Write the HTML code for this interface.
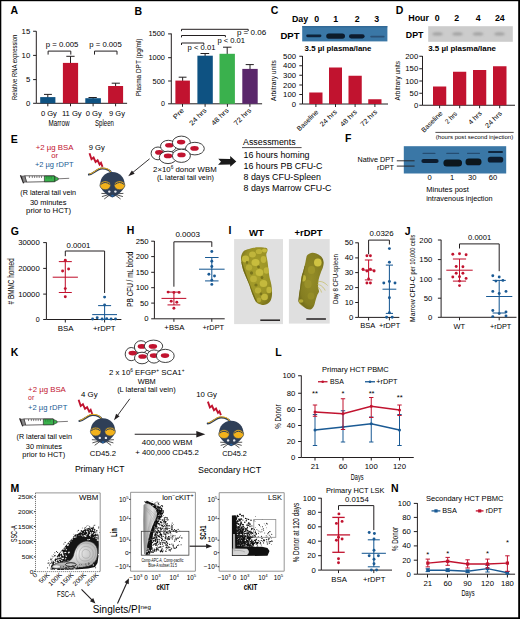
<!DOCTYPE html>
<html><head><meta charset="utf-8"><style>
html,body{margin:0;padding:0;background:#fff;}
svg{display:block;font-family:"Liberation Sans",sans-serif;}
</style></head><body>
<svg width="520" height="619" viewBox="0 0 520 619">
<defs>
<filter id="bl1" x="-50%" y="-100%" width="200%" height="300%"><feGaussianBlur stdDeviation="0.6"/></filter>
<filter id="bl2" x="-50%" y="-100%" width="200%" height="300%"><feGaussianBlur stdDeviation="0.9"/></filter>
<filter id="bl3" x="-50%" y="-50%" width="200%" height="200%"><feGaussianBlur stdDeviation="0.5"/></filter>
<filter id="bl4" x="-20%" y="-20%" width="140%" height="140%"><feGaussianBlur stdDeviation="0.75"/></filter>
</defs>
<rect width="520" height="619" fill="#fff"/>
<text x="10.60" y="14.40" font-size="10.5" font-weight="bold">A</text>
<line x1="36.30" y1="31.20" x2="36.30" y2="103.30" stroke="#231f20" stroke-width="1"/>
<line x1="33.10" y1="31.25" x2="36.30" y2="31.25" stroke="#231f20" stroke-width="1"/>
<text x="30.20" y="33.80" font-size="7.1" text-anchor="end" textLength="8.61" lengthAdjust="spacingAndGlyphs">15</text>
<line x1="33.10" y1="55.40" x2="36.30" y2="55.40" stroke="#231f20" stroke-width="1"/>
<text x="30.20" y="57.95" font-size="7.1" text-anchor="end" textLength="8.61" lengthAdjust="spacingAndGlyphs">10</text>
<line x1="33.10" y1="79.60" x2="36.30" y2="79.60" stroke="#231f20" stroke-width="1"/>
<text x="30.20" y="82.15" font-size="7.1" text-anchor="end" textLength="4.30" lengthAdjust="spacingAndGlyphs">5</text>
<line x1="33.10" y1="103.30" x2="36.30" y2="103.30" stroke="#231f20" stroke-width="1"/>
<text x="30.20" y="105.85" font-size="7.1" text-anchor="end" textLength="4.30" lengthAdjust="spacingAndGlyphs">0</text>
<line x1="36.30" y1="103.30" x2="127.10" y2="103.30" stroke="#231f20" stroke-width="1"/>
<line x1="47.80" y1="103.30" x2="47.80" y2="106.30" stroke="#231f20" stroke-width="1"/>
<line x1="70.50" y1="103.30" x2="70.50" y2="106.30" stroke="#231f20" stroke-width="1"/>
<line x1="93.10" y1="103.30" x2="93.10" y2="106.30" stroke="#231f20" stroke-width="1"/>
<line x1="115.60" y1="103.30" x2="115.60" y2="106.30" stroke="#231f20" stroke-width="1"/>
<line x1="47.80" y1="94.40" x2="47.80" y2="98.10" stroke="#231f20" stroke-width="1"/>
<line x1="44.00" y1="94.40" x2="51.90" y2="94.40" stroke="#231f20" stroke-width="1"/>
<rect x="40.20" y="97.10" width="15.20" height="6.20" fill="#0e5282"/>
<line x1="70.50" y1="56.30" x2="70.50" y2="63.90" stroke="#231f20" stroke-width="1"/>
<line x1="66.30" y1="56.30" x2="74.60" y2="56.30" stroke="#231f20" stroke-width="1"/>
<rect x="62.90" y="62.90" width="15.20" height="40.40" fill="#c1132f"/>
<line x1="93.10" y1="97.50" x2="93.10" y2="99.20" stroke="#231f20" stroke-width="1"/>
<line x1="88.50" y1="97.50" x2="96.80" y2="97.50" stroke="#231f20" stroke-width="1"/>
<rect x="85.30" y="98.20" width="15.60" height="5.10" fill="#0e5282"/>
<line x1="115.60" y1="83.20" x2="115.60" y2="87.00" stroke="#231f20" stroke-width="1"/>
<line x1="111.70" y1="83.20" x2="119.90" y2="83.20" stroke="#231f20" stroke-width="1"/>
<rect x="108.10" y="86.00" width="15.00" height="17.30" fill="#c1132f"/>
<path d="M48.10 54.60V51.10H70.80V54.60" fill="none" stroke="#231f20" stroke-width="1"/>
<path d="M94.50 54.60V51.10H117.00V54.60" fill="none" stroke="#231f20" stroke-width="1"/>
<text x="45.70" y="47.30" font-size="7.6" textLength="32.70" lengthAdjust="spacingAndGlyphs">p = 0.005</text>
<text x="89.30" y="47.30" font-size="7.6" textLength="32.40" lengthAdjust="spacingAndGlyphs">p = 0.005</text>
<text x="61.90" y="115.60" font-size="7.5" textLength="19.80" lengthAdjust="spacingAndGlyphs">11 Gy</text>
<text x="40.90" y="115.60" font-size="7.5" textLength="16.00" lengthAdjust="spacingAndGlyphs">0 Gy</text>
<text x="85.70" y="115.60" font-size="7.5" textLength="16.20" lengthAdjust="spacingAndGlyphs">0 Gy</text>
<text x="109.10" y="115.60" font-size="7.5" textLength="15.90" lengthAdjust="spacingAndGlyphs">9 Gy</text>
<text x="48.50" y="126.00" font-size="8.8" textLength="21.00" lengthAdjust="spacingAndGlyphs">Marrow</text>
<text x="95.10" y="126.00" font-size="8.8" textLength="18.80" lengthAdjust="spacingAndGlyphs">Spleen</text>
<text x="17.20" y="100.00" font-size="8.0" textLength="65.20" lengthAdjust="spacingAndGlyphs" transform="rotate(-90 17.20 100.00)">Relative RNA expression</text>
<text x="134.60" y="14.80" font-size="10.5" font-weight="bold">B</text>
<line x1="171.30" y1="33.50" x2="171.30" y2="103.80" stroke="#231f20" stroke-width="1"/>
<line x1="168.10" y1="33.90" x2="171.30" y2="33.90" stroke="#231f20" stroke-width="1"/>
<text x="164.90" y="36.45" font-size="7.1" text-anchor="end" textLength="16.50" lengthAdjust="spacingAndGlyphs">1500</text>
<line x1="168.10" y1="57.70" x2="171.30" y2="57.70" stroke="#231f20" stroke-width="1"/>
<text x="164.90" y="60.25" font-size="7.1" text-anchor="end" textLength="16.50" lengthAdjust="spacingAndGlyphs">1000</text>
<line x1="168.10" y1="81.00" x2="171.30" y2="81.00" stroke="#231f20" stroke-width="1"/>
<text x="164.90" y="83.55" font-size="7.1" text-anchor="end" textLength="12.40" lengthAdjust="spacingAndGlyphs">500</text>
<line x1="168.10" y1="103.80" x2="171.30" y2="103.80" stroke="#231f20" stroke-width="1"/>
<text x="164.90" y="106.35" font-size="7.1" text-anchor="end">0</text>
<line x1="171.30" y1="103.80" x2="262.10" y2="103.80" stroke="#231f20" stroke-width="1"/>
<line x1="182.50" y1="103.80" x2="182.50" y2="106.80" stroke="#231f20" stroke-width="1"/>
<line x1="205.10" y1="103.80" x2="205.10" y2="106.80" stroke="#231f20" stroke-width="1"/>
<line x1="227.40" y1="103.80" x2="227.40" y2="106.80" stroke="#231f20" stroke-width="1"/>
<line x1="249.90" y1="103.80" x2="249.90" y2="106.80" stroke="#231f20" stroke-width="1"/>
<line x1="182.65" y1="77.20" x2="182.65" y2="81.60" stroke="#231f20" stroke-width="1"/>
<line x1="178.70" y1="77.20" x2="186.50" y2="77.20" stroke="#231f20" stroke-width="1"/>
<rect x="175.40" y="80.60" width="14.50" height="23.20" fill="#c1132f"/>
<line x1="205.10" y1="53.50" x2="205.10" y2="56.70" stroke="#231f20" stroke-width="1"/>
<line x1="200.50" y1="53.50" x2="209.20" y2="53.50" stroke="#231f20" stroke-width="1"/>
<rect x="197.40" y="55.70" width="15.40" height="48.10" fill="#0e5282"/>
<line x1="227.20" y1="47.20" x2="227.20" y2="54.80" stroke="#231f20" stroke-width="1"/>
<line x1="223.00" y1="47.20" x2="231.50" y2="47.20" stroke="#231f20" stroke-width="1"/>
<rect x="219.50" y="53.80" width="15.40" height="50.00" fill="#3ab14d"/>
<line x1="250.00" y1="64.60" x2="250.00" y2="69.90" stroke="#231f20" stroke-width="1"/>
<line x1="245.70" y1="64.60" x2="253.80" y2="64.60" stroke="#231f20" stroke-width="1"/>
<rect x="242.30" y="68.90" width="15.40" height="34.90" fill="#5a276b"/>
<path d="M181.50 31.20V29.30H248.20V31.00" fill="none" stroke="#231f20" stroke-width="1"/>
<path d="M181.50 37.40V35.50H225.40V37.20" fill="none" stroke="#231f20" stroke-width="1"/>
<path d="M181.50 45.00V43.00H203.80V44.80" fill="none" stroke="#231f20" stroke-width="1"/>
<text x="236.90" y="35.40" font-size="7.6" textLength="29.30" lengthAdjust="spacingAndGlyphs">p = 0.06</text>
<text x="217.40" y="43.10" font-size="7.6" textLength="27.70" lengthAdjust="spacingAndGlyphs">p &lt; 0.01</text>
<text x="187.60" y="49.70" font-size="7.6" textLength="27.80" lengthAdjust="spacingAndGlyphs">p &lt; 0.01</text>
<text x="184.40" y="110.90" font-size="6.9" text-anchor="end" textLength="12.40" lengthAdjust="spacingAndGlyphs" transform="rotate(-45 184.40 110.90)">Pre</text>
<text x="207.10" y="110.90" font-size="6.9" text-anchor="end" textLength="21.50" lengthAdjust="spacingAndGlyphs" transform="rotate(-45 207.10 110.90)">24 hrs</text>
<text x="229.20" y="110.90" font-size="6.9" text-anchor="end" textLength="21.50" lengthAdjust="spacingAndGlyphs" transform="rotate(-45 229.20 110.90)">48 hrs</text>
<text x="251.70" y="110.90" font-size="6.9" text-anchor="end" textLength="21.50" lengthAdjust="spacingAndGlyphs" transform="rotate(-45 251.70 110.90)">72 hrs</text>
<text x="140.80" y="96.30" font-size="7.8" textLength="57.80" lengthAdjust="spacingAndGlyphs" transform="rotate(-90 140.80 96.30)">Plasma DPT (pg/ml)</text>
<text x="270.80" y="14.40" font-size="10.5" font-weight="bold">C</text>
<text x="291.90" y="21.60" font-size="8.8" font-weight="bold" textLength="16.20" lengthAdjust="spacingAndGlyphs">Day</text>
<text x="316.60" y="21.60" font-size="8.8" text-anchor="middle" font-weight="bold">0</text>
<text x="335.80" y="21.60" font-size="8.8" text-anchor="middle" font-weight="bold">1</text>
<text x="357.20" y="21.60" font-size="8.8" text-anchor="middle" font-weight="bold">2</text>
<text x="376.60" y="21.60" font-size="8.8" text-anchor="middle" font-weight="bold">3</text>
<text x="280.40" y="38.50" font-size="9.2" font-weight="bold" textLength="19.10" lengthAdjust="spacingAndGlyphs">DPT</text>
<rect x="302.2" y="26.1" width="85.2" height="15.3" fill="#3a77a6"/>
<rect x="302.2" y="26.1" width="85.2" height="1.2" fill="#2a5f8e" opacity="0.8"/>
<g filter="url(#bl1)">
<rect x="306.20" y="34.40" width="15.20" height="2.80" rx="1.40" fill="#0d1f33" opacity="0.95"/>
<rect x="326.20" y="33.40" width="18.80" height="5.40" rx="2.70" fill="#0a1a2b" opacity="1"/>
<rect x="349.00" y="34.20" width="15.60" height="4.20" rx="2.10" fill="#0b1c2e" opacity="1"/>
<rect x="370.20" y="35.70" width="14.40" height="1.80" rx="0.90" fill="#27476a" opacity="0.8"/>
</g>
<text x="304.60" y="51.20" font-size="7.4" font-weight="bold" textLength="66.90" lengthAdjust="spacingAndGlyphs">3.5 µl plasma/lane</text>
<line x1="302.50" y1="56.00" x2="302.50" y2="104.00" stroke="#231f20" stroke-width="1"/>
<line x1="299.30" y1="56.25" x2="302.50" y2="56.25" stroke="#231f20" stroke-width="1"/>
<text x="296.00" y="58.80" font-size="7.1" text-anchor="end" textLength="12.91" lengthAdjust="spacingAndGlyphs">500</text>
<line x1="299.30" y1="65.75" x2="302.50" y2="65.75" stroke="#231f20" stroke-width="1"/>
<text x="296.00" y="68.30" font-size="7.1" text-anchor="end" textLength="12.91" lengthAdjust="spacingAndGlyphs">400</text>
<line x1="299.30" y1="75.25" x2="302.50" y2="75.25" stroke="#231f20" stroke-width="1"/>
<text x="296.00" y="77.80" font-size="7.1" text-anchor="end" textLength="12.91" lengthAdjust="spacingAndGlyphs">300</text>
<line x1="299.30" y1="85.00" x2="302.50" y2="85.00" stroke="#231f20" stroke-width="1"/>
<text x="296.00" y="87.55" font-size="7.1" text-anchor="end" textLength="12.91" lengthAdjust="spacingAndGlyphs">200</text>
<line x1="299.30" y1="94.50" x2="302.50" y2="94.50" stroke="#231f20" stroke-width="1"/>
<text x="296.00" y="97.05" font-size="7.1" text-anchor="end" textLength="12.91" lengthAdjust="spacingAndGlyphs">100</text>
<line x1="299.30" y1="104.00" x2="302.50" y2="104.00" stroke="#231f20" stroke-width="1"/>
<text x="296.00" y="106.55" font-size="7.1" text-anchor="end" textLength="4.30" lengthAdjust="spacingAndGlyphs">0</text>
<line x1="302.50" y1="104.00" x2="388.00" y2="104.00" stroke="#231f20" stroke-width="1"/>
<line x1="315.90" y1="104.00" x2="315.90" y2="107.00" stroke="#231f20" stroke-width="1"/>
<line x1="335.50" y1="104.00" x2="335.50" y2="107.00" stroke="#231f20" stroke-width="1"/>
<line x1="355.10" y1="104.00" x2="355.10" y2="107.00" stroke="#231f20" stroke-width="1"/>
<line x1="374.90" y1="104.00" x2="374.90" y2="107.00" stroke="#231f20" stroke-width="1"/>
<rect x="309.25" y="92.50" width="13.25" height="11.50" fill="#c1132f"/>
<rect x="329.00" y="67.50" width="13.00" height="36.50" fill="#c1132f"/>
<rect x="348.50" y="75.75" width="13.25" height="28.25" fill="#c1132f"/>
<rect x="368.25" y="99.25" width="13.25" height="4.75" fill="#c1132f"/>
<text x="318.70" y="112.40" font-size="6.8" text-anchor="end" textLength="27.00" lengthAdjust="spacingAndGlyphs" transform="rotate(-45 318.70 112.40)">Baseline</text>
<text x="337.30" y="112.40" font-size="6.8" text-anchor="end" textLength="20.80" lengthAdjust="spacingAndGlyphs" transform="rotate(-45 337.30 112.40)">24 hrs</text>
<text x="357.50" y="112.40" font-size="6.8" text-anchor="end" textLength="20.80" lengthAdjust="spacingAndGlyphs" transform="rotate(-45 357.50 112.40)">48 hrs</text>
<text x="377.70" y="112.40" font-size="6.8" text-anchor="end" textLength="20.80" lengthAdjust="spacingAndGlyphs" transform="rotate(-45 377.70 112.40)">72 hrs</text>
<text x="276.10" y="101.00" font-size="8.0" textLength="40.80" lengthAdjust="spacingAndGlyphs" transform="rotate(-90 276.10 101.00)">Arbitrary units</text>
<text x="395.80" y="14.40" font-size="10.5" font-weight="bold">D</text>
<text x="408.20" y="21.20" font-size="8.8" font-weight="bold" textLength="20.90" lengthAdjust="spacingAndGlyphs">Hour</text>
<text x="437.10" y="21.20" font-size="8.8" text-anchor="middle" font-weight="bold">0</text>
<text x="456.60" y="21.20" font-size="8.8" text-anchor="middle" font-weight="bold">2</text>
<text x="478.20" y="21.20" font-size="8.8" text-anchor="middle" font-weight="bold">4</text>
<text x="499.80" y="21.20" font-size="8.8" text-anchor="middle" font-weight="bold">24</text>
<text x="405.80" y="37.90" font-size="9.2" font-weight="bold" textLength="17.60" lengthAdjust="spacingAndGlyphs">DPT</text>
<rect x="428.2" y="26.2" width="84.6" height="15.6" fill="#cccccc"/>
<g filter="url(#bl2)">
<ellipse cx="437.5" cy="33.9" rx="5.2" ry="1.6" fill="#9a9a9a" opacity="0.85"/>
<ellipse cx="457.5" cy="33.9" rx="5.2" ry="1.6" fill="#9a9a9a" opacity="0.85"/>
<ellipse cx="478.0" cy="33.9" rx="5.2" ry="1.6" fill="#9a9a9a" opacity="0.85"/>
<ellipse cx="499.5" cy="33.9" rx="5.2" ry="1.6" fill="#9a9a9a" opacity="0.85"/>
</g>
<text x="428.20" y="51.20" font-size="7.4" font-weight="bold" textLength="67.80" lengthAdjust="spacingAndGlyphs">3.5 µl plasma/lane</text>
<line x1="422.50" y1="56.00" x2="422.50" y2="105.25" stroke="#231f20" stroke-width="1"/>
<line x1="419.30" y1="56.25" x2="422.50" y2="56.25" stroke="#231f20" stroke-width="1"/>
<text x="418.20" y="58.80" font-size="7.1" text-anchor="end" textLength="12.91" lengthAdjust="spacingAndGlyphs">200</text>
<line x1="419.30" y1="68.75" x2="422.50" y2="68.75" stroke="#231f20" stroke-width="1"/>
<text x="418.20" y="71.30" font-size="7.1" text-anchor="end" textLength="12.91" lengthAdjust="spacingAndGlyphs">150</text>
<line x1="419.30" y1="81.00" x2="422.50" y2="81.00" stroke="#231f20" stroke-width="1"/>
<text x="418.20" y="83.55" font-size="7.1" text-anchor="end" textLength="12.91" lengthAdjust="spacingAndGlyphs">100</text>
<line x1="419.30" y1="93.25" x2="422.50" y2="93.25" stroke="#231f20" stroke-width="1"/>
<text x="418.20" y="95.80" font-size="7.1" text-anchor="end" textLength="8.61" lengthAdjust="spacingAndGlyphs">50</text>
<line x1="419.30" y1="105.25" x2="422.50" y2="105.25" stroke="#231f20" stroke-width="1"/>
<text x="418.20" y="107.80" font-size="7.1" text-anchor="end" textLength="4.30" lengthAdjust="spacingAndGlyphs">0</text>
<line x1="422.50" y1="105.25" x2="515.00" y2="105.25" stroke="#231f20" stroke-width="1"/>
<line x1="439.60" y1="105.25" x2="439.60" y2="108.25" stroke="#231f20" stroke-width="1"/>
<line x1="459.70" y1="105.25" x2="459.70" y2="108.25" stroke="#231f20" stroke-width="1"/>
<line x1="479.60" y1="105.25" x2="479.60" y2="108.25" stroke="#231f20" stroke-width="1"/>
<line x1="499.70" y1="105.25" x2="499.70" y2="108.25" stroke="#231f20" stroke-width="1"/>
<rect x="433.00" y="86.50" width="13.25" height="18.75" fill="#c1132f"/>
<rect x="453.00" y="71.75" width="13.25" height="33.50" fill="#c1132f"/>
<rect x="473.00" y="70.00" width="13.25" height="35.25" fill="#c1132f"/>
<rect x="493.00" y="66.25" width="13.50" height="39.00" fill="#c1132f"/>
<text x="443.00" y="113.80" font-size="6.8" text-anchor="end" textLength="27.00" lengthAdjust="spacingAndGlyphs" transform="rotate(-45 443.00 113.80)">Baseline</text>
<text x="457.60" y="114.30" font-size="6.8" text-anchor="end" textLength="14.00" lengthAdjust="spacingAndGlyphs" transform="rotate(-45 457.60 114.30)">2 hrs</text>
<text x="482.30" y="113.80" font-size="6.8" text-anchor="end" textLength="16.00" lengthAdjust="spacingAndGlyphs" transform="rotate(-45 482.30 113.80)">4 hrs</text>
<text x="502.40" y="113.80" font-size="6.8" text-anchor="end" textLength="20.80" lengthAdjust="spacingAndGlyphs" transform="rotate(-45 502.40 113.80)">24 hrs</text>
<line x1="435.40" y1="132.40" x2="513.70" y2="132.40" stroke="#231f20" stroke-width="0.8"/>
<text x="435.80" y="138.50" font-size="6.0" textLength="77.40" lengthAdjust="spacingAndGlyphs">(hours post second injection)</text>
<text x="400.30" y="100.60" font-size="8.0" textLength="39.60" lengthAdjust="spacingAndGlyphs" transform="rotate(-90 400.30 100.60)">Arbitrary units</text>
<text x="10.80" y="142.60" font-size="10.5" font-weight="bold">E</text>
<text x="35.80" y="150.00" font-size="7.6" fill="#c1132f" textLength="37.70" lengthAdjust="spacingAndGlyphs">+2 µg BSA</text>
<text x="51.20" y="158.20" font-size="7.6" fill="#c1132f" textLength="6.90" lengthAdjust="spacingAndGlyphs">or</text>
<text x="35.00" y="166.50" font-size="7.6" fill="#1a5a94" textLength="38.50" lengthAdjust="spacingAndGlyphs">+2 µg rDPT</text>
<g transform="translate(19.60 174.60) scale(1.0)">
<path d="M5.2 1.2 L34.6 1.2 L34.6 6.9 L6.9 7.5 Z" fill="#fff" stroke="#231f20" stroke-width="0.7"/>
<path d="M24.8 1.4 L35.2 1.4 L35.2 7.2 L24.8 7.2 Z" fill="#3ab14d" stroke="#231f20" stroke-width="0.6"/>
<path d="M35.2 1.8 L38.7 3.4 L38.7 5.2 L35.2 6.8 Z" fill="#3ab14d" stroke="#231f20" stroke-width="0.5"/>
<path d="M38.7 4.2 L49.6 3.7" stroke="#231f20" stroke-width="0.6"/>
<path d="M0.9 0.6 L4.1 8.7" stroke="#231f20" stroke-width="1.4"/>
<path d="M2.2 1.6 L5.2 1.2 L6.9 7.5 L3.6 7.6 Z" fill="#8a8a8a" stroke="#231f20" stroke-width="0.5"/>
<g stroke="#231f20" stroke-width="0.55"><path d="M9.8 1.3 V3.4"/><path d="M12.7 1.3 V3.4"/><path d="M15.0 1.3 V3.4"/><path d="M17.3 1.3 V3.4"/><path d="M19.6 1.3 V3.4"/><path d="M21.9 1.3 V3.4"/></g>
<g stroke="#1f6e2c" stroke-width="0.6"><path d="M27.2 1.5 V4.0"/><path d="M29.4 1.5 V4.0"/><path d="M31.6 1.5 V4.0"/></g>
</g>
<text x="48.20" y="195.40" font-size="7.5" text-anchor="middle" textLength="55.70" lengthAdjust="spacingAndGlyphs">(R lateral tail vein</text>
<text x="48.20" y="204.60" font-size="7.5" text-anchor="middle" textLength="36.60" lengthAdjust="spacingAndGlyphs">30 minutes</text>
<text x="48.60" y="213.10" font-size="7.5" text-anchor="middle" textLength="45.10" lengthAdjust="spacingAndGlyphs">prior to HCT)</text>
<text x="88.70" y="150.00" font-size="7.6" textLength="16.10" lengthAdjust="spacingAndGlyphs">9 Gy</text>
<path d="M89.50 153.30 L91.50 159.20 L93.60 157.50 L95.60 161.90 L97.60 160.30 L99.60 164.50 L101.00 162.90 L102.50 166.90" fill="none" stroke="#c1132f" stroke-width="1.9" stroke-linejoin="miter" stroke-miterlimit="6"/>
<g transform="translate(112.40 183.20) scale(1.0)">
<path d="M-23.5 -8.6 C-19 -8.8 -15.5 -14.8 -10 -14.6 C-5.5 -14.4 -2.5 -13.5 -1 -10" fill="none" stroke="#2f3f57" stroke-width="2.0" stroke-linecap="round"/>
<path d="M-22.8 -9.3 C-18.6 -9.6 -15.2 -15.5 -10 -15.2 C-5.6 -15 -2.8 -14 -1.6 -11" fill="none" stroke="#f2b21c" stroke-width="1.0" stroke-linecap="round"/>
<g stroke="#1b1b1b" stroke-width="0.75" fill="none"><path d="M-3 10.6 L-11 10.2 M-3 11.2 L-10.5 13.4 M-2.8 11.8 L-8.2 15.8"/><path d="M3 10.6 L11 10.2 M3 11.2 L10.5 13.4 M2.8 11.8 L8.2 15.8"/></g>
<path d="M0 -11.2 C7.5 -11.2 12.2 -5.5 12.2 1 C12.2 7 6 11.5 0 14.3 C-6 11.5 -12.2 7 -12.2 1 C-12.2 -5.5 -7.5 -11.2 0 -11.2Z" fill="#2f3f57"/>
<ellipse cx="-7.2" cy="2.1" rx="5.3" ry="4.4" fill="#f2b21c" stroke="#2f3f57" stroke-width="0.6"/>
<path d="M-11.600000000000001 1.2 Q-7.2 -2.6 -2.8 1.2" fill="none" stroke="#2f3f57" stroke-width="1.0"/>
<ellipse cx="7.2" cy="2.1" rx="5.3" ry="4.4" fill="#f2b21c" stroke="#2f3f57" stroke-width="0.6"/>
<path d="M2.8 1.2 Q7.2 -2.6 11.600000000000001 1.2" fill="none" stroke="#2f3f57" stroke-width="1.0"/>
<circle cx="-3.1" cy="8.4" r="1.2" fill="#e6e8ee"/><circle cx="3.0" cy="8.4" r="1.2" fill="#e6e8ee"/>
<ellipse cx="0.1" cy="12.6" rx="1.3" ry="0.95" fill="#2566a8"/>
</g>
<line x1="149.60" y1="158.80" x2="132.86" y2="172.41" stroke="#231f20" stroke-width="0.9"/>
<path d="M128.20 176.20 L131.86 170.39 L134.63 173.81 Z" fill="#231f20"/>
<ellipse cx="158.0" cy="153.4" rx="6.9" ry="6.4" fill="#fff" stroke="#2b2b2b" stroke-width="0.9"/>
<ellipse cx="159.3" cy="152.4" rx="4.2" ry="2.3" fill="#c1132f"/>
<ellipse cx="168.3" cy="146.3" rx="7.8" ry="6.0" fill="#fff" stroke="#2b2b2b" stroke-width="0.9"/>
<ellipse cx="169.3" cy="145.3" rx="4.2" ry="2.3" fill="#c1132f"/>
<ellipse cx="181.4" cy="142.7" rx="9.0" ry="6.6" fill="#fff" stroke="#2b2b2b" stroke-width="0.9"/>
<ellipse cx="181.1" cy="142.1" rx="4.2" ry="2.3" fill="#c1132f"/>
<ellipse cx="168.0" cy="157.4" rx="8.7" ry="6.2" fill="#fff" stroke="#2b2b2b" stroke-width="0.9"/>
<ellipse cx="168.0" cy="155.9" rx="4.2" ry="2.3" fill="#c1132f"/>
<ellipse cx="194.9" cy="148.6" rx="9.4" ry="6.3" fill="#fff" stroke="#2b2b2b" stroke-width="0.9"/>
<ellipse cx="194.5" cy="148.4" rx="4.2" ry="2.3" fill="#c1132f"/>
<ellipse cx="181.4" cy="155.8" rx="9.0" ry="6.6" fill="#fff" stroke="#2b2b2b" stroke-width="0.9"/>
<ellipse cx="181.5" cy="154.9" rx="4.2" ry="2.3" fill="#c1132f"/>
<text x="153.10" y="171.90" font-size="7.8">2×10<tspan font-size="4.8" dy="-3">6</tspan><tspan dy="3"> donor WBM</tspan></text>
<text x="156.90" y="179.60" font-size="7.4" textLength="57.10" lengthAdjust="spacingAndGlyphs">(L lateral tail vein)</text>
<path d="M218.3 158.7 L230.2 158.9 L230.2 156.0 L236.3 161.4 L230.2 166.8 L230.2 164.4 L218.0 164.7 L221.0 161.7 Z" fill="#1a1a1a"/>
<text x="243.00" y="144.50" font-size="8.9" textLength="52.70" lengthAdjust="spacingAndGlyphs">Assessments</text>
<line x1="242.00" y1="147.60" x2="301.60" y2="147.60" stroke="#231f20" stroke-width="0.8"/>
<text x="243.50" y="158.00" font-size="8.9" textLength="66.00" lengthAdjust="spacingAndGlyphs">16 hours homing</text>
<text x="243.50" y="168.90" font-size="8.9">16 hours PB CFU-C</text>
<text x="243.50" y="179.70" font-size="8.9">8 days CFU-Spleen</text>
<text x="243.50" y="190.70" font-size="8.9" textLength="88.00" lengthAdjust="spacingAndGlyphs">8 days Marrow CFU-C</text>
<text x="345.00" y="141.80" font-size="10.5" font-weight="bold">F</text>
<rect x="403.8" y="146.2" width="102.4" height="27.3" fill="#3a77a6"/>
<g filter="url(#bl1)">
<rect x="421.40" y="158.90" width="17.20" height="4.20" rx="2.10" fill="#0b1c2e" opacity="1"/>
<rect x="422.50" y="152.80" width="13.00" height="1.20" rx="0.60" fill="#1f3c5c" opacity="0.7"/>
<rect x="443.40" y="159.40" width="18.60" height="7.20" rx="3.50" fill="#08131f" opacity="1"/>
<rect x="446.20" y="152.80" width="13.00" height="1.20" rx="0.60" fill="#1f3c5c" opacity="0.7"/>
<rect x="465.50" y="158.50" width="16.00" height="6.80" rx="3.40" fill="#08131f" opacity="1"/>
<rect x="467.00" y="152.80" width="13.00" height="1.20" rx="0.60" fill="#1f3c5c" opacity="0.7"/>
<rect x="487.70" y="156.85" width="15.60" height="5.70" rx="2.85" fill="#0b1c2e" opacity="1"/>
<rect x="488.00" y="151.00" width="15.00" height="2.00" rx="1.00" fill="#0e2238" opacity="0.95"/>
</g>
<line x1="396.80" y1="160.80" x2="414.60" y2="160.80" stroke="#231f20" stroke-width="0.9"/>
<line x1="396.80" y1="166.10" x2="414.60" y2="166.10" stroke="#231f20" stroke-width="0.9"/>
<text x="394.50" y="162.00" font-size="7.5" text-anchor="end" textLength="37.00" lengthAdjust="spacingAndGlyphs">Native DPT</text>
<text x="393.90" y="169.70" font-size="7.5" text-anchor="end" textLength="16.90" lengthAdjust="spacingAndGlyphs">rDPT</text>
<text x="429.60" y="180.40" font-size="7.6" text-anchor="middle">0</text>
<text x="452.20" y="180.40" font-size="7.6" text-anchor="middle">1</text>
<text x="472.30" y="180.40" font-size="7.6" text-anchor="middle">30</text>
<text x="493.10" y="180.40" font-size="7.6" text-anchor="middle">60</text>
<text x="426.20" y="192.20" font-size="7.9" textLength="42.70" lengthAdjust="spacingAndGlyphs">Minutes post</text>
<text x="426.20" y="201.40" font-size="7.9" textLength="66.40" lengthAdjust="spacingAndGlyphs">intravenous injection</text>
<text x="10.80" y="234.50" font-size="10.5" font-weight="bold">G</text>
<line x1="46.40" y1="242.40" x2="46.40" y2="319.50" stroke="#231f20" stroke-width="1"/>
<line x1="43.20" y1="242.60" x2="46.40" y2="242.60" stroke="#231f20" stroke-width="1"/>
<text x="39.70" y="245.15" font-size="7.1" text-anchor="end" textLength="21.50" lengthAdjust="spacingAndGlyphs">30000</text>
<line x1="43.20" y1="268.40" x2="46.40" y2="268.40" stroke="#231f20" stroke-width="1"/>
<text x="39.70" y="270.95" font-size="7.1" text-anchor="end" textLength="21.50" lengthAdjust="spacingAndGlyphs">20000</text>
<line x1="43.20" y1="294.10" x2="46.40" y2="294.10" stroke="#231f20" stroke-width="1"/>
<text x="39.70" y="296.65" font-size="7.1" text-anchor="end" textLength="21.50" lengthAdjust="spacingAndGlyphs">10000</text>
<line x1="43.20" y1="319.50" x2="46.40" y2="319.50" stroke="#231f20" stroke-width="1"/>
<text x="39.70" y="322.05" font-size="7.1" text-anchor="end">0</text>
<line x1="46.40" y1="319.50" x2="121.40" y2="319.50" stroke="#231f20" stroke-width="1"/>
<line x1="65.30" y1="319.50" x2="65.30" y2="322.50" stroke="#231f20" stroke-width="1"/>
<line x1="104.60" y1="319.50" x2="104.60" y2="322.50" stroke="#231f20" stroke-width="1"/>
<path d="M65.30 256.20V251.00H104.60V293.00" fill="none" stroke="#231f20" stroke-width="1"/>
<text x="66.60" y="247.70" font-size="7.6" textLength="23.70" lengthAdjust="spacingAndGlyphs">0.0001</text>
<line x1="65.30" y1="261.60" x2="65.30" y2="292.50" stroke="#c1132f" stroke-width="1.05"/>
<line x1="58.80" y1="261.60" x2="71.80" y2="261.60" stroke="#c1132f" stroke-width="1.05"/>
<line x1="58.80" y1="292.50" x2="71.80" y2="292.50" stroke="#c1132f" stroke-width="1.05"/>
<line x1="52.70" y1="277.20" x2="77.90" y2="277.20" stroke="#c1132f" stroke-width="1.05"/>
<circle cx="65.30" cy="260.30" r="1.45" fill="#c1132f"/>
<circle cx="62.60" cy="271.00" r="1.45" fill="#c1132f"/>
<circle cx="68.60" cy="269.00" r="1.45" fill="#c1132f"/>
<circle cx="65.30" cy="288.60" r="1.45" fill="#c1132f"/>
<circle cx="65.30" cy="296.80" r="1.45" fill="#c1132f"/>
<line x1="104.60" y1="305.60" x2="104.60" y2="319.50" stroke="#1a5a94" stroke-width="1.05"/>
<line x1="98.10" y1="305.60" x2="111.10" y2="305.60" stroke="#1a5a94" stroke-width="1.05"/>
<line x1="98.10" y1="319.50" x2="111.10" y2="319.50" stroke="#1a5a94" stroke-width="1.05"/>
<line x1="92.20" y1="314.60" x2="117.00" y2="314.60" stroke="#1a5a94" stroke-width="1.05"/>
<circle cx="104.60" cy="297.10" r="1.45" fill="#1a5a94"/>
<circle cx="104.60" cy="305.00" r="1.45" fill="#1a5a94"/>
<circle cx="92.60" cy="319.00" r="1.45" fill="#1a5a94"/>
<circle cx="97.20" cy="317.80" r="1.45" fill="#1a5a94"/>
<circle cx="102.10" cy="319.00" r="1.45" fill="#1a5a94"/>
<circle cx="106.70" cy="318.60" r="1.45" fill="#1a5a94"/>
<circle cx="111.10" cy="319.00" r="1.45" fill="#1a5a94"/>
<circle cx="115.50" cy="319.00" r="1.45" fill="#1a5a94"/>
<text x="65.60" y="330.60" font-size="7.6" text-anchor="middle" textLength="15.80" lengthAdjust="spacingAndGlyphs">BSA</text>
<text x="104.30" y="330.60" font-size="7.6" text-anchor="middle" textLength="22.40" lengthAdjust="spacingAndGlyphs">+rDPT</text>
<text x="13.80" y="304.40" font-size="8.4" textLength="46.10" lengthAdjust="spacingAndGlyphs" transform="rotate(-90 13.80 304.40)"># BMMC homed</text>
<text x="126.80" y="234.40" font-size="10.5" font-weight="bold">H</text>
<line x1="154.40" y1="241.00" x2="154.40" y2="318.80" stroke="#231f20" stroke-width="1"/>
<line x1="151.20" y1="241.20" x2="154.40" y2="241.20" stroke="#231f20" stroke-width="1"/>
<text x="148.60" y="243.75" font-size="7.1" text-anchor="end" textLength="12.91" lengthAdjust="spacingAndGlyphs">250</text>
<line x1="151.20" y1="256.60" x2="154.40" y2="256.60" stroke="#231f20" stroke-width="1"/>
<text x="148.60" y="259.15" font-size="7.1" text-anchor="end" textLength="12.91" lengthAdjust="spacingAndGlyphs">200</text>
<line x1="151.20" y1="272.30" x2="154.40" y2="272.30" stroke="#231f20" stroke-width="1"/>
<text x="148.60" y="274.85" font-size="7.1" text-anchor="end" textLength="12.91" lengthAdjust="spacingAndGlyphs">150</text>
<line x1="151.20" y1="287.70" x2="154.40" y2="287.70" stroke="#231f20" stroke-width="1"/>
<text x="148.60" y="290.25" font-size="7.1" text-anchor="end" textLength="12.91" lengthAdjust="spacingAndGlyphs">100</text>
<line x1="151.20" y1="303.10" x2="154.40" y2="303.10" stroke="#231f20" stroke-width="1"/>
<text x="148.60" y="305.65" font-size="7.1" text-anchor="end" textLength="8.61" lengthAdjust="spacingAndGlyphs">50</text>
<line x1="151.20" y1="318.80" x2="154.40" y2="318.80" stroke="#231f20" stroke-width="1"/>
<text x="148.60" y="321.35" font-size="7.1" text-anchor="end" textLength="4.30" lengthAdjust="spacingAndGlyphs">0</text>
<line x1="154.40" y1="318.80" x2="224.70" y2="318.80" stroke="#231f20" stroke-width="1"/>
<line x1="173.90" y1="318.80" x2="173.90" y2="321.80" stroke="#231f20" stroke-width="1"/>
<line x1="211.80" y1="318.80" x2="211.80" y2="321.80" stroke="#231f20" stroke-width="1"/>
<path d="M173.90 286.70V241.80H211.80V246.90" fill="none" stroke="#231f20" stroke-width="1"/>
<text x="175.40" y="237.30" font-size="7.6" textLength="24.60" lengthAdjust="spacingAndGlyphs">0.0003</text>
<line x1="173.90" y1="292.10" x2="173.90" y2="304.90" stroke="#c1132f" stroke-width="1.05"/>
<line x1="167.50" y1="292.10" x2="180.30" y2="292.10" stroke="#c1132f" stroke-width="1.05"/>
<line x1="167.50" y1="304.90" x2="180.30" y2="304.90" stroke="#c1132f" stroke-width="1.05"/>
<line x1="161.50" y1="298.40" x2="186.30" y2="298.40" stroke="#c1132f" stroke-width="1.05"/>
<circle cx="168.10" cy="292.10" r="1.45" fill="#c1132f"/>
<circle cx="173.90" cy="292.40" r="1.45" fill="#c1132f"/>
<circle cx="179.10" cy="292.40" r="1.45" fill="#c1132f"/>
<circle cx="171.20" cy="301.30" r="1.45" fill="#c1132f"/>
<circle cx="176.80" cy="302.20" r="1.45" fill="#c1132f"/>
<circle cx="173.90" cy="308.30" r="1.45" fill="#c1132f"/>
<line x1="211.80" y1="257.50" x2="211.80" y2="280.90" stroke="#1a5a94" stroke-width="1.05"/>
<line x1="205.05" y1="257.50" x2="218.55" y2="257.50" stroke="#1a5a94" stroke-width="1.05"/>
<line x1="205.05" y1="280.90" x2="218.55" y2="280.90" stroke="#1a5a94" stroke-width="1.05"/>
<line x1="199.00" y1="269.20" x2="224.60" y2="269.20" stroke="#1a5a94" stroke-width="1.05"/>
<circle cx="211.80" cy="251.50" r="1.45" fill="#1a5a94"/>
<circle cx="211.80" cy="261.20" r="1.45" fill="#1a5a94"/>
<circle cx="211.80" cy="266.50" r="1.45" fill="#1a5a94"/>
<circle cx="208.90" cy="274.30" r="1.45" fill="#1a5a94"/>
<circle cx="214.50" cy="276.00" r="1.45" fill="#1a5a94"/>
<circle cx="211.80" cy="280.30" r="1.45" fill="#1a5a94"/>
<circle cx="211.80" cy="284.40" r="1.45" fill="#1a5a94"/>
<text x="174.40" y="330.40" font-size="7.6" text-anchor="middle" textLength="20.10" lengthAdjust="spacingAndGlyphs">+BSA</text>
<text x="213.30" y="330.40" font-size="7.6" text-anchor="middle" textLength="21.60" lengthAdjust="spacingAndGlyphs">+rDPT</text>
<text x="133.20" y="306.70" font-size="8.5" textLength="55.00" lengthAdjust="spacingAndGlyphs" transform="rotate(-90 133.20 306.70)">PB CFU / mL blood</text>
<text x="228.60" y="233.80" font-size="10.5" font-weight="bold">I</text>
<text x="248.90" y="236.30" font-size="8.2" font-weight="bold" textLength="14.90" lengthAdjust="spacingAndGlyphs">WT</text>
<text x="294.50" y="236.30" font-size="8.2" font-weight="bold" textLength="27.90" lengthAdjust="spacingAndGlyphs">+rDPT</text>
<rect x="234.1" y="239.1" width="48.9" height="85.0" fill="#e0e0e0"/>
<rect x="288.9" y="239.1" width="40.8" height="84.5" fill="#dfdfdf"/>
<defs><radialGradient id="sp1" cx="0.5" cy="0.45" r="0.6"><stop offset="0" stop-color="#a9a12c"/><stop offset="0.75" stop-color="#9a9226"/><stop offset="1" stop-color="#7e771c"/></radialGradient><radialGradient id="sp2" cx="0.5" cy="0.45" r="0.62"><stop offset="0" stop-color="#948c27"/><stop offset="0.75" stop-color="#857e21"/><stop offset="1" stop-color="#6c6619"/></radialGradient></defs>
<path d="M241.5 255.0 C242.0 253.7 242.8 251.8 244.0 250.8 C245.2 249.8 247.4 249.5 249.0 249.0 C250.6 248.5 251.9 248.1 253.5 247.8 C255.1 247.5 256.8 247.3 258.5 247.3 C260.2 247.3 262.1 247.4 263.5 247.6 C264.9 247.8 266.4 248.0 267.0 248.6 C267.6 249.2 267.5 250.0 267.4 251.0 C267.3 252.0 266.3 252.8 266.3 254.6 C266.3 256.4 267.1 258.6 267.6 262.0 C268.1 265.4 268.6 271.5 269.2 275.3 C269.8 279.1 270.9 281.8 271.4 285.0 C271.9 288.2 272.2 292.1 272.0 294.8 C271.8 297.5 271.3 299.4 270.4 301.0 C269.5 302.6 267.8 303.7 266.5 304.3 C265.2 304.9 263.8 305.0 262.4 304.9 C261.0 304.8 259.2 304.3 258.0 303.6 C256.8 302.9 256.3 302.3 255.3 300.5 C254.3 298.7 253.0 295.6 252.0 293.0 C251.0 290.4 250.3 287.5 249.4 285.0 C248.5 282.5 247.4 280.3 246.4 278.0 C245.4 275.7 244.4 273.6 243.6 271.3 C242.8 269.0 242.1 266.1 241.7 264.0 C241.3 261.9 241.0 260.0 241.0 258.5 C241.0 257.0 241.0 256.3 241.5 255.0Z" fill="url(#sp1)"/>
<clipPath id="cp1"><path d="M241.5 255.0 C242.0 253.7 242.8 251.8 244.0 250.8 C245.2 249.8 247.4 249.5 249.0 249.0 C250.6 248.5 251.9 248.1 253.5 247.8 C255.1 247.5 256.8 247.3 258.5 247.3 C260.2 247.3 262.1 247.4 263.5 247.6 C264.9 247.8 266.4 248.0 267.0 248.6 C267.6 249.2 267.5 250.0 267.4 251.0 C267.3 252.0 266.3 252.8 266.3 254.6 C266.3 256.4 267.1 258.6 267.6 262.0 C268.1 265.4 268.6 271.5 269.2 275.3 C269.8 279.1 270.9 281.8 271.4 285.0 C271.9 288.2 272.2 292.1 272.0 294.8 C271.8 297.5 271.3 299.4 270.4 301.0 C269.5 302.6 267.8 303.7 266.5 304.3 C265.2 304.9 263.8 305.0 262.4 304.9 C261.0 304.8 259.2 304.3 258.0 303.6 C256.8 302.9 256.3 302.3 255.3 300.5 C254.3 298.7 253.0 295.6 252.0 293.0 C251.0 290.4 250.3 287.5 249.4 285.0 C248.5 282.5 247.4 280.3 246.4 278.0 C245.4 275.7 244.4 273.6 243.6 271.3 C242.8 269.0 242.1 266.1 241.7 264.0 C241.3 261.9 241.0 260.0 241.0 258.5 C241.0 257.0 241.0 256.3 241.5 255.0Z"/></clipPath>
<g clip-path="url(#cp1)"><g filter="url(#bl4)">
<ellipse cx="245.5" cy="259.0" rx="3.6" ry="3.4" fill="#c4b93c"/>
<ellipse cx="252.5" cy="254.5" rx="3.4" ry="3.0" fill="#c0b53a"/>
<ellipse cx="259.0" cy="251.5" rx="3.2" ry="2.6" fill="#bdb238"/>
<ellipse cx="264.5" cy="250.5" rx="2.6" ry="2.0" fill="#c4b93c"/>
<ellipse cx="255.5" cy="262.5" rx="4.0" ry="3.6" fill="#c8bd3e"/>
<ellipse cx="249.0" cy="267.5" rx="3.2" ry="3.0" fill="#b8ae36"/>
<ellipse cx="263.5" cy="259.5" rx="2.8" ry="3.4" fill="#c0b53a"/>
<ellipse cx="259.5" cy="272.5" rx="3.8" ry="3.6" fill="#c6bb3d"/>
<ellipse cx="266.5" cy="270.5" rx="2.8" ry="3.2" fill="#bfb43a"/>
<ellipse cx="253.5" cy="279.0" rx="3.4" ry="3.2" fill="#bcb138"/>
<ellipse cx="263.5" cy="283.5" rx="3.8" ry="3.6" fill="#c4b93c"/>
<ellipse cx="269.0" cy="290.0" rx="2.6" ry="3.2" fill="#bfb43a"/>
<ellipse cx="258.0" cy="290.5" rx="3.2" ry="3.0" fill="#b9af37"/>
<ellipse cx="264.5" cy="297.0" rx="3.4" ry="3.2" fill="#c2b73b"/>
<ellipse cx="259.0" cy="300.0" rx="2.2" ry="2.4" fill="#b3a934"/>
<ellipse cx="251.5" cy="273.0" rx="1.6" ry="1.8" fill="#7a741c"/>
<ellipse cx="258.5" cy="267.0" rx="1.4" ry="1.4" fill="#7a741c"/>
<ellipse cx="262.0" cy="277.5" rx="1.4" ry="1.6" fill="#7a741c"/>
<ellipse cx="256.0" cy="285.0" rx="1.6" ry="1.6" fill="#7a741c"/>
<ellipse cx="261.0" cy="294.0" rx="1.4" ry="1.4" fill="#7a741c"/>
<ellipse cx="247.0" cy="262.5" rx="1.2" ry="1.4" fill="#7a741c"/>
<path d="M241 262 C244 272 249 286 256 302" fill="none" stroke="#6f6a18" stroke-width="2.2"/>
</g></g>
<path d="M307.7 254.7 C308.5 254.0 309.9 253.1 311.3 252.9 C312.7 252.7 314.6 252.8 316.3 253.5 C318.1 254.2 320.6 255.8 321.8 257.2 C323.0 258.6 323.4 260.5 323.6 262.1 C323.8 263.7 323.5 265.1 323.0 267.0 C322.5 268.9 321.3 271.1 320.6 273.2 C319.9 275.2 319.1 277.1 318.7 279.3 C318.3 281.6 318.1 284.7 318.1 286.7 C318.2 288.7 319.1 290.1 319.0 291.4 C318.9 292.7 318.1 293.0 317.5 294.5 C316.9 296.0 316.2 298.2 315.6 300.2 C315.0 302.2 314.6 304.8 313.8 306.3 C313.0 307.8 311.9 309.0 310.7 309.4 C309.5 309.8 307.9 309.5 306.4 308.8 C304.9 308.1 302.8 306.3 301.5 305.1 C300.2 303.9 298.8 303.0 298.4 301.4 C298.0 299.8 298.7 297.8 299.0 295.3 C299.3 292.9 299.9 289.8 300.3 286.7 C300.7 283.6 301.0 279.6 301.5 276.9 C302.0 274.2 302.8 273.0 303.4 270.7 C304.0 268.4 304.7 265.6 305.2 263.3 C305.7 261.1 306.0 258.6 306.4 257.2 C306.8 255.8 306.9 255.4 307.7 254.7Z" fill="url(#sp2)"/>
<clipPath id="cp2"><path d="M307.7 254.7 C308.5 254.0 309.9 253.1 311.3 252.9 C312.7 252.7 314.6 252.8 316.3 253.5 C318.1 254.2 320.6 255.8 321.8 257.2 C323.0 258.6 323.4 260.5 323.6 262.1 C323.8 263.7 323.5 265.1 323.0 267.0 C322.5 268.9 321.3 271.1 320.6 273.2 C319.9 275.2 319.1 277.1 318.7 279.3 C318.3 281.6 318.1 284.7 318.1 286.7 C318.2 288.7 319.1 290.1 319.0 291.4 C318.9 292.7 318.1 293.0 317.5 294.5 C316.9 296.0 316.2 298.2 315.6 300.2 C315.0 302.2 314.6 304.8 313.8 306.3 C313.0 307.8 311.9 309.0 310.7 309.4 C309.5 309.8 307.9 309.5 306.4 308.8 C304.9 308.1 302.8 306.3 301.5 305.1 C300.2 303.9 298.8 303.0 298.4 301.4 C298.0 299.8 298.7 297.8 299.0 295.3 C299.3 292.9 299.9 289.8 300.3 286.7 C300.7 283.6 301.0 279.6 301.5 276.9 C302.0 274.2 302.8 273.0 303.4 270.7 C304.0 268.4 304.7 265.6 305.2 263.3 C305.7 261.1 306.0 258.6 306.4 257.2 C306.8 255.8 306.9 255.4 307.7 254.7Z"/></clipPath>
<g clip-path="url(#cp2)"><g filter="url(#bl4)">
<ellipse cx="317.8" cy="262.5" rx="3.8" ry="4.0" fill="#d0c342"/>
<ellipse cx="303.4" cy="278.2" rx="2.6" ry="3.2" fill="#bfb43a"/>
<ellipse cx="311.5" cy="270.0" rx="3.6" ry="4.0" fill="#9e952b"/>
<ellipse cx="308.0" cy="284.0" rx="3.6" ry="4.2" fill="#9a912a"/>
<ellipse cx="311.0" cy="296.0" rx="3.4" ry="3.6" fill="#958d28"/>
<ellipse cx="301.0" cy="301.0" rx="2.4" ry="1.8" fill="#b2a836"/>
<path d="M299 296 C300 288 302 278 304.5 266" fill="none" stroke="#736c1b" stroke-width="1.6"/>
</g></g>
<g fill="none" stroke="#bdb23c" stroke-width="0.6" opacity="0.95"><path d="M317.5 282 C321 280.5 324.5 282.5 327.6 285.5"/><path d="M317.2 284.5 C320.5 284.5 323.5 287 325.2 290.5"/><path d="M317.6 287 C319.5 288 320.8 289.8 321.6 292.5"/><path d="M300 300.5 C299 303 300.5 305 302.5 306"/></g>
<line x1="260.30" y1="320.20" x2="280.00" y2="320.20" stroke="#231f20" stroke-width="1.5"/>
<line x1="306.30" y1="319.00" x2="325.90" y2="319.00" stroke="#231f20" stroke-width="1.5"/>
<line x1="358.40" y1="242.60" x2="358.40" y2="317.40" stroke="#231f20" stroke-width="1"/>
<line x1="355.20" y1="242.80" x2="358.40" y2="242.80" stroke="#231f20" stroke-width="1"/>
<text x="353.30" y="245.35" font-size="7.1" text-anchor="end" textLength="8.61" lengthAdjust="spacingAndGlyphs">50</text>
<line x1="355.20" y1="257.90" x2="358.40" y2="257.90" stroke="#231f20" stroke-width="1"/>
<text x="353.30" y="260.45" font-size="7.1" text-anchor="end" textLength="8.61" lengthAdjust="spacingAndGlyphs">40</text>
<line x1="355.20" y1="272.60" x2="358.40" y2="272.60" stroke="#231f20" stroke-width="1"/>
<text x="353.30" y="275.15" font-size="7.1" text-anchor="end" textLength="8.61" lengthAdjust="spacingAndGlyphs">30</text>
<line x1="355.20" y1="287.60" x2="358.40" y2="287.60" stroke="#231f20" stroke-width="1"/>
<text x="353.30" y="290.15" font-size="7.1" text-anchor="end" textLength="8.61" lengthAdjust="spacingAndGlyphs">20</text>
<line x1="355.20" y1="302.50" x2="358.40" y2="302.50" stroke="#231f20" stroke-width="1"/>
<text x="353.30" y="305.05" font-size="7.1" text-anchor="end" textLength="8.61" lengthAdjust="spacingAndGlyphs">10</text>
<line x1="355.20" y1="317.40" x2="358.40" y2="317.40" stroke="#231f20" stroke-width="1"/>
<text x="353.30" y="319.95" font-size="7.1" text-anchor="end" textLength="4.30" lengthAdjust="spacingAndGlyphs">0</text>
<line x1="358.40" y1="317.40" x2="399.30" y2="317.40" stroke="#231f20" stroke-width="1"/>
<line x1="368.60" y1="317.40" x2="368.60" y2="320.40" stroke="#231f20" stroke-width="1"/>
<line x1="389.40" y1="317.40" x2="389.40" y2="320.40" stroke="#231f20" stroke-width="1"/>
<path d="M368.60 254.30V240.10H389.40V244.50" fill="none" stroke="#231f20" stroke-width="1"/>
<text x="369.50" y="236.00" font-size="7.6" textLength="24.10" lengthAdjust="spacingAndGlyphs">0.0326</text>
<line x1="368.60" y1="260.00" x2="368.60" y2="279.90" stroke="#c1132f" stroke-width="1.05"/>
<line x1="364.85" y1="260.00" x2="372.35" y2="260.00" stroke="#c1132f" stroke-width="1.05"/>
<line x1="364.85" y1="279.90" x2="372.35" y2="279.90" stroke="#c1132f" stroke-width="1.05"/>
<line x1="362.00" y1="270.10" x2="375.20" y2="270.10" stroke="#c1132f" stroke-width="1.05"/>
<circle cx="366.90" cy="255.80" r="1.45" fill="#c1132f"/>
<circle cx="370.40" cy="255.80" r="1.45" fill="#c1132f"/>
<circle cx="363.00" cy="269.30" r="1.45" fill="#c1132f"/>
<circle cx="366.90" cy="271.00" r="1.45" fill="#c1132f"/>
<circle cx="370.40" cy="269.30" r="1.45" fill="#c1132f"/>
<circle cx="374.10" cy="271.00" r="1.45" fill="#c1132f"/>
<circle cx="368.60" cy="279.00" r="1.45" fill="#c1132f"/>
<circle cx="366.90" cy="283.00" r="1.45" fill="#c1132f"/>
<circle cx="370.40" cy="283.00" r="1.45" fill="#c1132f"/>
<line x1="389.40" y1="265.10" x2="389.40" y2="313.40" stroke="#1a5a94" stroke-width="1.05"/>
<line x1="385.80" y1="265.10" x2="393.00" y2="265.10" stroke="#1a5a94" stroke-width="1.05"/>
<line x1="385.80" y1="313.40" x2="393.00" y2="313.40" stroke="#1a5a94" stroke-width="1.05"/>
<line x1="382.50" y1="289.20" x2="396.30" y2="289.20" stroke="#1a5a94" stroke-width="1.05"/>
<circle cx="389.40" cy="248.60" r="1.45" fill="#1a5a94"/>
<circle cx="389.40" cy="262.30" r="1.45" fill="#1a5a94"/>
<circle cx="383.80" cy="283.00" r="1.45" fill="#1a5a94"/>
<circle cx="389.40" cy="281.50" r="1.45" fill="#1a5a94"/>
<circle cx="395.00" cy="283.00" r="1.45" fill="#1a5a94"/>
<circle cx="389.40" cy="297.70" r="1.45" fill="#1a5a94"/>
<circle cx="389.40" cy="312.80" r="1.45" fill="#1a5a94"/>
<circle cx="386.60" cy="317.30" r="1.45" fill="#1a5a94"/>
<circle cx="392.20" cy="317.30" r="1.45" fill="#1a5a94"/>
<text x="360.20" y="328.40" font-size="7.6" textLength="15.10" lengthAdjust="spacingAndGlyphs">BSA</text>
<text x="378.90" y="328.40" font-size="7.6" textLength="21.30" lengthAdjust="spacingAndGlyphs">+rDPT</text>
<text x="338.00" y="304.00" font-size="7.9" textLength="50.00" lengthAdjust="spacingAndGlyphs" transform="rotate(-90 338.00 304.00)">Day 8 CFU-spleen</text>
<text x="404.80" y="234.70" font-size="10.5" font-weight="bold">J</text>
<line x1="441.10" y1="239.80" x2="441.10" y2="317.30" stroke="#231f20" stroke-width="1"/>
<line x1="437.90" y1="240.00" x2="441.10" y2="240.00" stroke="#231f20" stroke-width="1"/>
<text x="432.30" y="242.55" font-size="7.1" text-anchor="end" textLength="12.91" lengthAdjust="spacingAndGlyphs">200</text>
<line x1="437.90" y1="259.60" x2="441.10" y2="259.60" stroke="#231f20" stroke-width="1"/>
<text x="432.30" y="262.15" font-size="7.1" text-anchor="end" textLength="12.91" lengthAdjust="spacingAndGlyphs">150</text>
<line x1="437.90" y1="279.00" x2="441.10" y2="279.00" stroke="#231f20" stroke-width="1"/>
<text x="432.30" y="281.55" font-size="7.1" text-anchor="end" textLength="12.91" lengthAdjust="spacingAndGlyphs">100</text>
<line x1="437.90" y1="298.20" x2="441.10" y2="298.20" stroke="#231f20" stroke-width="1"/>
<text x="432.30" y="300.75" font-size="7.1" text-anchor="end" textLength="8.61" lengthAdjust="spacingAndGlyphs">50</text>
<line x1="437.90" y1="317.30" x2="441.10" y2="317.30" stroke="#231f20" stroke-width="1"/>
<text x="432.30" y="319.85" font-size="7.1" text-anchor="end" textLength="4.30" lengthAdjust="spacingAndGlyphs">0</text>
<line x1="441.10" y1="317.30" x2="516.50" y2="317.30" stroke="#231f20" stroke-width="1"/>
<line x1="459.50" y1="317.30" x2="459.50" y2="320.30" stroke="#231f20" stroke-width="1"/>
<line x1="499.20" y1="317.30" x2="499.20" y2="320.30" stroke="#231f20" stroke-width="1"/>
<path d="M459.50 248.50V243.90H499.20V271.20" fill="none" stroke="#231f20" stroke-width="1"/>
<text x="468.10" y="240.00" font-size="7.6" textLength="23.10" lengthAdjust="spacingAndGlyphs">0.0001</text>
<line x1="459.50" y1="259.00" x2="459.50" y2="281.10" stroke="#c1132f" stroke-width="1.05"/>
<line x1="452.90" y1="259.00" x2="466.10" y2="259.00" stroke="#c1132f" stroke-width="1.05"/>
<line x1="452.90" y1="281.10" x2="466.10" y2="281.10" stroke="#c1132f" stroke-width="1.05"/>
<line x1="446.30" y1="270.20" x2="472.70" y2="270.20" stroke="#c1132f" stroke-width="1.05"/>
<circle cx="452.80" cy="254.20" r="1.45" fill="#c1132f"/>
<circle cx="459.50" cy="253.70" r="1.45" fill="#c1132f"/>
<circle cx="466.10" cy="254.70" r="1.45" fill="#c1132f"/>
<circle cx="456.20" cy="266.50" r="1.45" fill="#c1132f"/>
<circle cx="462.90" cy="266.80" r="1.45" fill="#c1132f"/>
<circle cx="456.20" cy="273.30" r="1.45" fill="#c1132f"/>
<circle cx="462.90" cy="273.30" r="1.45" fill="#c1132f"/>
<circle cx="452.80" cy="277.00" r="1.45" fill="#c1132f"/>
<circle cx="459.50" cy="276.80" r="1.45" fill="#c1132f"/>
<circle cx="466.10" cy="278.40" r="1.45" fill="#c1132f"/>
<circle cx="459.50" cy="281.10" r="1.45" fill="#c1132f"/>
<circle cx="459.50" cy="285.60" r="1.45" fill="#c1132f"/>
<line x1="499.20" y1="280.40" x2="499.20" y2="313.00" stroke="#1a5a94" stroke-width="1.05"/>
<line x1="492.60" y1="280.40" x2="505.80" y2="280.40" stroke="#1a5a94" stroke-width="1.05"/>
<line x1="492.60" y1="313.00" x2="505.80" y2="313.00" stroke="#1a5a94" stroke-width="1.05"/>
<line x1="486.10" y1="296.50" x2="512.30" y2="296.50" stroke="#1a5a94" stroke-width="1.05"/>
<circle cx="492.80" cy="275.70" r="1.45" fill="#1a5a94"/>
<circle cx="499.20" cy="277.00" r="1.45" fill="#1a5a94"/>
<circle cx="495.90" cy="281.10" r="1.45" fill="#1a5a94"/>
<circle cx="502.90" cy="280.40" r="1.45" fill="#1a5a94"/>
<circle cx="492.80" cy="291.40" r="1.45" fill="#1a5a94"/>
<circle cx="499.20" cy="293.50" r="1.45" fill="#1a5a94"/>
<circle cx="506.00" cy="291.40" r="1.45" fill="#1a5a94"/>
<circle cx="492.80" cy="310.50" r="1.45" fill="#1a5a94"/>
<circle cx="506.00" cy="311.90" r="1.45" fill="#1a5a94"/>
<circle cx="499.20" cy="313.60" r="1.45" fill="#1a5a94"/>
<circle cx="492.80" cy="316.60" r="1.45" fill="#1a5a94"/>
<circle cx="506.00" cy="315.90" r="1.45" fill="#1a5a94"/>
<text x="459.30" y="329.30" font-size="7.6" text-anchor="middle" textLength="11.60" lengthAdjust="spacingAndGlyphs">WT</text>
<text x="500.60" y="329.30" font-size="7.6" text-anchor="middle" textLength="21.20" lengthAdjust="spacingAndGlyphs">+rDPT</text>
<text x="415.40" y="322.00" font-size="8.0" textLength="87.20" lengthAdjust="spacingAndGlyphs" transform="rotate(-90 415.40 322.00)">Marrow CFU-C <tspan font-size="6.6">per 10,000 cells</tspan></text>
<text x="10.80" y="356.10" font-size="10.5" font-weight="bold">K</text>
<ellipse cx="131.2" cy="354.1" rx="6.0" ry="6.6" fill="#fff" stroke="#2b2b2b" stroke-width="0.9"/>
<ellipse cx="132.7" cy="353.1" rx="4.2" ry="2.3" fill="#c1132f"/>
<ellipse cx="141.0" cy="347.0" rx="6.6" ry="6.3" fill="#fff" stroke="#2b2b2b" stroke-width="0.9"/>
<ellipse cx="141.9" cy="346.4" rx="4.2" ry="2.3" fill="#c1132f"/>
<ellipse cx="153.5" cy="346.1" rx="9.2" ry="6.0" fill="#fff" stroke="#2b2b2b" stroke-width="0.9"/>
<ellipse cx="152.9" cy="346.4" rx="4.2" ry="2.3" fill="#c1132f"/>
<ellipse cx="142.0" cy="358.0" rx="7.5" ry="5.8" fill="#fff" stroke="#2b2b2b" stroke-width="0.9"/>
<ellipse cx="142.5" cy="356.5" rx="4.2" ry="2.3" fill="#c1132f"/>
<ellipse cx="154.0" cy="356.5" rx="7.0" ry="6.6" fill="#fff" stroke="#2b2b2b" stroke-width="0.9"/>
<ellipse cx="154.0" cy="355.6" rx="4.2" ry="2.3" fill="#c1132f"/>
<ellipse cx="165.3" cy="355.9" rx="8.9" ry="6.6" fill="#fff" stroke="#2b2b2b" stroke-width="0.9"/>
<ellipse cx="165.0" cy="355.6" rx="4.2" ry="2.3" fill="#c1132f"/>
<text x="109.00" y="374.70" font-size="7.8">2 x 10<tspan font-size="4.8" dy="-3">6</tspan><tspan dy="3"> EFGP</tspan><tspan font-size="4.8" dy="-3">+</tspan><tspan dy="3"> SCA1</tspan><tspan font-size="4.8" dy="-3">+</tspan></text>
<text x="146.70" y="383.60" font-size="7.8" text-anchor="middle" textLength="18.00" lengthAdjust="spacingAndGlyphs">WBM</text>
<text x="146.40" y="392.30" font-size="7.4" text-anchor="middle" textLength="58.50" lengthAdjust="spacingAndGlyphs">(L lateral tail vein)</text>
<text x="28.10" y="392.00" font-size="7.6" fill="#c1132f" textLength="37.70" lengthAdjust="spacingAndGlyphs">+2 µg BSA</text>
<text x="28.10" y="400.30" font-size="7.6" fill="#c1132f" textLength="6.10" lengthAdjust="spacingAndGlyphs">or</text>
<text x="28.10" y="410.00" font-size="7.6" fill="#1a5a94" textLength="39.20" lengthAdjust="spacingAndGlyphs">+2 µg rDPT</text>
<g transform="translate(18.80 417.70) scale(0.99)">
<path d="M5.2 1.2 L34.6 1.2 L34.6 6.9 L6.9 7.5 Z" fill="#fff" stroke="#231f20" stroke-width="0.7"/>
<path d="M24.8 1.4 L35.2 1.4 L35.2 7.2 L24.8 7.2 Z" fill="#3ab14d" stroke="#231f20" stroke-width="0.6"/>
<path d="M35.2 1.8 L38.7 3.4 L38.7 5.2 L35.2 6.8 Z" fill="#3ab14d" stroke="#231f20" stroke-width="0.5"/>
<path d="M38.7 4.2 L49.6 3.7" stroke="#231f20" stroke-width="0.6"/>
<path d="M0.9 0.6 L4.1 8.7" stroke="#231f20" stroke-width="1.4"/>
<path d="M2.2 1.6 L5.2 1.2 L6.9 7.5 L3.6 7.6 Z" fill="#8a8a8a" stroke="#231f20" stroke-width="0.5"/>
<g stroke="#231f20" stroke-width="0.55"><path d="M9.8 1.3 V3.4"/><path d="M12.7 1.3 V3.4"/><path d="M15.0 1.3 V3.4"/><path d="M17.3 1.3 V3.4"/><path d="M19.6 1.3 V3.4"/><path d="M21.9 1.3 V3.4"/></g>
<g stroke="#1f6e2c" stroke-width="0.6"><path d="M27.2 1.5 V4.0"/><path d="M29.4 1.5 V4.0"/><path d="M31.6 1.5 V4.0"/></g>
</g>
<text x="44.20" y="439.20" font-size="7.5" text-anchor="middle" textLength="55.40" lengthAdjust="spacingAndGlyphs">(R lateral tail vein</text>
<text x="43.90" y="448.50" font-size="7.5" text-anchor="middle" textLength="36.10" lengthAdjust="spacingAndGlyphs">30 minutes</text>
<text x="43.80" y="456.90" font-size="7.5" text-anchor="middle" textLength="43.10" lengthAdjust="spacingAndGlyphs">prior to HCT)</text>
<text x="81.00" y="397.00" font-size="7.6" textLength="16.60" lengthAdjust="spacingAndGlyphs">4 Gy</text>
<path d="M78.60 399.80 L80.70 406.00 L82.91 404.21 L85.00 408.83 L87.10 407.15 L89.20 411.56 L90.67 409.88 L92.25 414.08" fill="none" stroke="#c1132f" stroke-width="1.9" stroke-linejoin="miter" stroke-miterlimit="6"/>
<g transform="translate(102.90 429.50) scale(1.0)">
<path d="M-23.5 -8.6 C-19 -8.8 -15.5 -14.8 -10 -14.6 C-5.5 -14.4 -2.5 -13.5 -1 -10" fill="none" stroke="#2f3f57" stroke-width="2.0" stroke-linecap="round"/>
<path d="M-22.8 -9.3 C-18.6 -9.6 -15.2 -15.5 -10 -15.2 C-5.6 -15 -2.8 -14 -1.6 -11" fill="none" stroke="#f2b21c" stroke-width="1.0" stroke-linecap="round"/>
<g stroke="#1b1b1b" stroke-width="0.75" fill="none"><path d="M-3 10.6 L-11 10.2 M-3 11.2 L-10.5 13.4 M-2.8 11.8 L-8.2 15.8"/><path d="M3 10.6 L11 10.2 M3 11.2 L10.5 13.4 M2.8 11.8 L8.2 15.8"/></g>
<path d="M0 -11.2 C7.5 -11.2 12.2 -5.5 12.2 1 C12.2 7 6 11.5 0 14.3 C-6 11.5 -12.2 7 -12.2 1 C-12.2 -5.5 -7.5 -11.2 0 -11.2Z" fill="#2f3f57"/>
<ellipse cx="-7.2" cy="2.1" rx="5.3" ry="4.4" fill="#f2b21c" stroke="#2f3f57" stroke-width="0.6"/>
<path d="M-11.600000000000001 1.2 Q-7.2 -2.6 -2.8 1.2" fill="none" stroke="#2f3f57" stroke-width="1.0"/>
<ellipse cx="7.2" cy="2.1" rx="5.3" ry="4.4" fill="#f2b21c" stroke="#2f3f57" stroke-width="0.6"/>
<path d="M2.8 1.2 Q7.2 -2.6 11.600000000000001 1.2" fill="none" stroke="#2f3f57" stroke-width="1.0"/>
<circle cx="-3.1" cy="8.4" r="1.2" fill="#e6e8ee"/><circle cx="3.0" cy="8.4" r="1.2" fill="#e6e8ee"/>
<ellipse cx="0.1" cy="12.6" rx="1.3" ry="0.95" fill="#2566a8"/>
</g>
<line x1="129.80" y1="398.80" x2="117.55" y2="415.47" stroke="#231f20" stroke-width="0.9"/>
<path d="M114.00 420.30 L116.08 413.76 L119.62 416.37 Z" fill="#231f20"/>
<text x="102.90" y="456.30" font-size="7.6" text-anchor="middle" textLength="26.10" lengthAdjust="spacingAndGlyphs">CD45.2</text>
<text x="74.90" y="472.40" font-size="8.8" textLength="49.50" lengthAdjust="spacingAndGlyphs">Primary HCT</text>
<line x1="134.70" y1="434.30" x2="196.80" y2="434.30" stroke="#231f20" stroke-width="1.1"/>
<path d="M205.30 434.30 L196.30 437.60 L196.30 431.00 Z" fill="#231f20"/>
<text x="167.00" y="444.70" font-size="7.6" text-anchor="middle" textLength="50.60" lengthAdjust="spacingAndGlyphs">400,000 WBM</text>
<text x="167.00" y="454.60" font-size="7.6" text-anchor="middle" textLength="63.60" lengthAdjust="spacingAndGlyphs">+ 400,000 CD45.2</text>
<text x="196.20" y="396.70" font-size="7.6" textLength="20.80" lengthAdjust="spacingAndGlyphs">10 Gy</text>
<path d="M207.90 401.60 L209.90 407.50 L212.00 405.80 L214.00 410.20 L216.00 408.60 L218.00 412.80 L219.40 411.20 L220.90 415.20" fill="none" stroke="#c1132f" stroke-width="1.9" stroke-linejoin="miter" stroke-miterlimit="6"/>
<g transform="translate(231.20 432.00) scale(1.0)">
<path d="M-23.5 -8.6 C-19 -8.8 -15.5 -14.8 -10 -14.6 C-5.5 -14.4 -2.5 -13.5 -1 -10" fill="none" stroke="#2f3f57" stroke-width="2.0" stroke-linecap="round"/>
<path d="M-22.8 -9.3 C-18.6 -9.6 -15.2 -15.5 -10 -15.2 C-5.6 -15 -2.8 -14 -1.6 -11" fill="none" stroke="#f2b21c" stroke-width="1.0" stroke-linecap="round"/>
<g stroke="#1b1b1b" stroke-width="0.75" fill="none"><path d="M-3 10.6 L-11 10.2 M-3 11.2 L-10.5 13.4 M-2.8 11.8 L-8.2 15.8"/><path d="M3 10.6 L11 10.2 M3 11.2 L10.5 13.4 M2.8 11.8 L8.2 15.8"/></g>
<path d="M0 -11.2 C7.5 -11.2 12.2 -5.5 12.2 1 C12.2 7 6 11.5 0 14.3 C-6 11.5 -12.2 7 -12.2 1 C-12.2 -5.5 -7.5 -11.2 0 -11.2Z" fill="#2f3f57"/>
<ellipse cx="-7.2" cy="2.1" rx="5.3" ry="4.4" fill="#f2b21c" stroke="#2f3f57" stroke-width="0.6"/>
<path d="M-11.600000000000001 1.2 Q-7.2 -2.6 -2.8 1.2" fill="none" stroke="#2f3f57" stroke-width="1.0"/>
<ellipse cx="7.2" cy="2.1" rx="5.3" ry="4.4" fill="#f2b21c" stroke="#2f3f57" stroke-width="0.6"/>
<path d="M2.8 1.2 Q7.2 -2.6 11.600000000000001 1.2" fill="none" stroke="#2f3f57" stroke-width="1.0"/>
<circle cx="-3.1" cy="8.4" r="1.2" fill="#e6e8ee"/><circle cx="3.0" cy="8.4" r="1.2" fill="#e6e8ee"/>
<ellipse cx="0.1" cy="12.6" rx="1.3" ry="0.95" fill="#2566a8"/>
</g>
<text x="234.50" y="456.40" font-size="7.6" text-anchor="middle" textLength="24.60" lengthAdjust="spacingAndGlyphs">CD45.2</text>
<text x="198.00" y="472.50" font-size="8.8" textLength="63.10" lengthAdjust="spacingAndGlyphs">Secondary HCT</text>
<text x="275.20" y="356.10" font-size="10.5" font-weight="bold">L</text>
<line x1="301.30" y1="375.50" x2="301.30" y2="457.50" stroke="#231f20" stroke-width="1"/>
<line x1="298.10" y1="375.75" x2="301.30" y2="375.75" stroke="#231f20" stroke-width="1"/>
<text x="295.40" y="378.30" font-size="7.1" text-anchor="end" textLength="12.91" lengthAdjust="spacingAndGlyphs">100</text>
<line x1="298.10" y1="393.25" x2="301.30" y2="393.25" stroke="#231f20" stroke-width="1"/>
<text x="295.40" y="395.80" font-size="7.1" text-anchor="end" textLength="8.61" lengthAdjust="spacingAndGlyphs">80</text>
<line x1="298.10" y1="409.50" x2="301.30" y2="409.50" stroke="#231f20" stroke-width="1"/>
<text x="295.40" y="412.05" font-size="7.1" text-anchor="end" textLength="8.61" lengthAdjust="spacingAndGlyphs">60</text>
<line x1="298.10" y1="425.50" x2="301.30" y2="425.50" stroke="#231f20" stroke-width="1"/>
<text x="295.40" y="428.05" font-size="7.1" text-anchor="end" textLength="8.61" lengthAdjust="spacingAndGlyphs">40</text>
<line x1="298.10" y1="441.50" x2="301.30" y2="441.50" stroke="#231f20" stroke-width="1"/>
<text x="295.40" y="444.05" font-size="7.1" text-anchor="end" textLength="8.61" lengthAdjust="spacingAndGlyphs">20</text>
<line x1="298.10" y1="457.50" x2="301.30" y2="457.50" stroke="#231f20" stroke-width="1"/>
<text x="295.40" y="460.05" font-size="7.1" text-anchor="end" textLength="4.30" lengthAdjust="spacingAndGlyphs">0</text>
<line x1="301.30" y1="457.50" x2="413.75" y2="457.50" stroke="#231f20" stroke-width="1"/>
<line x1="315.00" y1="457.50" x2="315.00" y2="460.50" stroke="#231f20" stroke-width="1"/>
<line x1="343.00" y1="457.50" x2="343.00" y2="460.50" stroke="#231f20" stroke-width="1"/>
<line x1="371.25" y1="457.50" x2="371.25" y2="460.50" stroke="#231f20" stroke-width="1"/>
<line x1="399.50" y1="457.50" x2="399.50" y2="460.50" stroke="#231f20" stroke-width="1"/>
<text x="322.00" y="372.00" font-size="7.5" textLength="66.75" lengthAdjust="spacingAndGlyphs">Primary HCT PBMC</text>
<line x1="318.00" y1="381.75" x2="327.50" y2="381.75" stroke="#c1132f" stroke-width="1.3"/>
<circle cx="322.70" cy="381.75" r="1.3" fill="#c1132f"/>
<text x="330.00" y="383.90" font-size="7.5" textLength="13.75" lengthAdjust="spacingAndGlyphs">BSA</text>
<line x1="365.00" y1="381.75" x2="375.00" y2="381.75" stroke="#1a5a94" stroke-width="1.3"/>
<circle cx="370.00" cy="381.75" r="1.3" fill="#1a5a94"/>
<text x="376.25" y="383.90" font-size="7.5" textLength="21.25" lengthAdjust="spacingAndGlyphs">+rDPT</text>
<line x1="315.00" y1="414.50" x2="315.00" y2="445.50" stroke="#1a5a94" stroke-width="1.0"/>
<line x1="312.80" y1="414.50" x2="317.20" y2="414.50" stroke="#1a5a94" stroke-width="1.0"/>
<line x1="312.80" y1="445.50" x2="317.20" y2="445.50" stroke="#1a5a94" stroke-width="1.0"/>
<line x1="343.00" y1="410.75" x2="343.00" y2="442.00" stroke="#1a5a94" stroke-width="1.0"/>
<line x1="340.80" y1="410.75" x2="345.20" y2="410.75" stroke="#1a5a94" stroke-width="1.0"/>
<line x1="340.80" y1="442.00" x2="345.20" y2="442.00" stroke="#1a5a94" stroke-width="1.0"/>
<line x1="371.25" y1="417.00" x2="371.25" y2="442.00" stroke="#1a5a94" stroke-width="1.0"/>
<line x1="369.05" y1="417.00" x2="373.45" y2="417.00" stroke="#1a5a94" stroke-width="1.0"/>
<line x1="369.05" y1="442.00" x2="373.45" y2="442.00" stroke="#1a5a94" stroke-width="1.0"/>
<line x1="399.50" y1="414.50" x2="399.50" y2="445.50" stroke="#1a5a94" stroke-width="1.0"/>
<line x1="397.30" y1="414.50" x2="401.70" y2="414.50" stroke="#1a5a94" stroke-width="1.0"/>
<line x1="397.30" y1="445.50" x2="401.70" y2="445.50" stroke="#1a5a94" stroke-width="1.0"/>
<path d="M315.00 430.00 L343.00 427.00 L371.25 423.75 L399.50 430.00" fill="none" stroke="#1a5a94" stroke-width="1.4"/>
<circle cx="315.00" cy="430.00" r="1.5" fill="#1a5a94"/>
<circle cx="343.00" cy="427.00" r="1.5" fill="#1a5a94"/>
<circle cx="371.25" cy="423.75" r="1.5" fill="#1a5a94"/>
<circle cx="399.50" cy="430.00" r="1.5" fill="#1a5a94"/>
<line x1="315.00" y1="405.00" x2="315.00" y2="416.25" stroke="#c1132f" stroke-width="1.0"/>
<line x1="312.80" y1="405.00" x2="317.20" y2="405.00" stroke="#c1132f" stroke-width="1.0"/>
<line x1="312.80" y1="416.25" x2="317.20" y2="416.25" stroke="#c1132f" stroke-width="1.0"/>
<line x1="343.00" y1="398.75" x2="343.00" y2="429.50" stroke="#c1132f" stroke-width="1.0"/>
<line x1="340.80" y1="398.75" x2="345.20" y2="398.75" stroke="#c1132f" stroke-width="1.0"/>
<line x1="340.80" y1="429.50" x2="345.20" y2="429.50" stroke="#c1132f" stroke-width="1.0"/>
<line x1="371.25" y1="397.50" x2="371.25" y2="417.50" stroke="#c1132f" stroke-width="1.0"/>
<line x1="369.05" y1="397.50" x2="373.45" y2="397.50" stroke="#c1132f" stroke-width="1.0"/>
<line x1="369.05" y1="417.50" x2="373.45" y2="417.50" stroke="#c1132f" stroke-width="1.0"/>
<line x1="399.50" y1="405.00" x2="399.50" y2="415.50" stroke="#c1132f" stroke-width="1.0"/>
<line x1="397.30" y1="405.00" x2="401.70" y2="405.00" stroke="#c1132f" stroke-width="1.0"/>
<line x1="397.30" y1="415.50" x2="401.70" y2="415.50" stroke="#c1132f" stroke-width="1.0"/>
<path d="M315.00 412.00 L343.00 413.75 L371.25 406.25 L399.50 410.00" fill="none" stroke="#c1132f" stroke-width="1.4"/>
<circle cx="315.00" cy="412.00" r="1.5" fill="#c1132f"/>
<circle cx="343.00" cy="413.75" r="1.5" fill="#c1132f"/>
<circle cx="371.25" cy="406.25" r="1.5" fill="#c1132f"/>
<circle cx="399.50" cy="410.00" r="1.5" fill="#c1132f"/>
<text x="315.00" y="395.80" font-size="7.6" text-anchor="middle">**</text>
<text x="343.00" y="395.80" font-size="7.6" text-anchor="middle">*</text>
<text x="371.60" y="395.80" font-size="7.6" text-anchor="middle">**</text>
<text x="399.70" y="400.20" font-size="7.6" text-anchor="middle">**</text>
<text x="315.00" y="468.90" font-size="7.1" text-anchor="middle" textLength="8.61" lengthAdjust="spacingAndGlyphs">21</text>
<text x="343.00" y="468.90" font-size="7.1" text-anchor="middle" textLength="8.61" lengthAdjust="spacingAndGlyphs">60</text>
<text x="371.25" y="468.90" font-size="7.1" text-anchor="middle" textLength="12.91" lengthAdjust="spacingAndGlyphs">100</text>
<text x="399.50" y="468.90" font-size="7.1" text-anchor="middle" textLength="12.91" lengthAdjust="spacingAndGlyphs">120</text>
<text x="357.20" y="479.60" font-size="9.0" text-anchor="middle" textLength="12.70" lengthAdjust="spacingAndGlyphs">Days</text>
<text x="281.30" y="428.70" font-size="8.2" textLength="24.20" lengthAdjust="spacingAndGlyphs" transform="rotate(-90 281.30 428.70)">% Donor</text>
<text x="391.00" y="491.50" font-size="10.5" font-weight="bold">N</text>
<line x1="417.40" y1="503.10" x2="417.40" y2="574.20" stroke="#231f20" stroke-width="1"/>
<line x1="413.80" y1="503.40" x2="417.40" y2="503.40" stroke="#231f20" stroke-width="1"/>
<text x="410.80" y="505.95" font-size="7.1" text-anchor="end" textLength="12.91" lengthAdjust="spacingAndGlyphs">100</text>
<line x1="413.80" y1="517.40" x2="417.40" y2="517.40" stroke="#231f20" stroke-width="1"/>
<text x="410.80" y="519.95" font-size="7.1" text-anchor="end" textLength="8.61" lengthAdjust="spacingAndGlyphs">80</text>
<line x1="413.80" y1="531.60" x2="417.40" y2="531.60" stroke="#231f20" stroke-width="1"/>
<text x="410.80" y="534.15" font-size="7.1" text-anchor="end" textLength="8.61" lengthAdjust="spacingAndGlyphs">60</text>
<line x1="413.80" y1="545.90" x2="417.40" y2="545.90" stroke="#231f20" stroke-width="1"/>
<text x="410.80" y="548.45" font-size="7.1" text-anchor="end" textLength="8.61" lengthAdjust="spacingAndGlyphs">40</text>
<line x1="413.80" y1="560.20" x2="417.40" y2="560.20" stroke="#231f20" stroke-width="1"/>
<text x="410.80" y="562.75" font-size="7.1" text-anchor="end" textLength="8.61" lengthAdjust="spacingAndGlyphs">20</text>
<line x1="413.80" y1="574.20" x2="417.40" y2="574.20" stroke="#231f20" stroke-width="1"/>
<text x="410.80" y="576.75" font-size="7.1" text-anchor="end" textLength="4.30" lengthAdjust="spacingAndGlyphs">0</text>
<line x1="417.40" y1="574.20" x2="515.10" y2="574.20" stroke="#231f20" stroke-width="1"/>
<line x1="427.50" y1="574.20" x2="427.50" y2="577.50" stroke="#231f20" stroke-width="1"/>
<line x1="447.50" y1="574.20" x2="447.50" y2="577.50" stroke="#231f20" stroke-width="1"/>
<line x1="467.50" y1="574.20" x2="467.50" y2="577.50" stroke="#231f20" stroke-width="1"/>
<line x1="487.50" y1="574.20" x2="487.50" y2="577.50" stroke="#231f20" stroke-width="1"/>
<line x1="507.40" y1="574.20" x2="507.40" y2="577.50" stroke="#231f20" stroke-width="1"/>
<text x="426.00" y="501.30" font-size="7.5" textLength="77.40" lengthAdjust="spacingAndGlyphs">Secondary HCT PBMC</text>
<line x1="431.50" y1="510.90" x2="440.40" y2="510.90" stroke="#1a5a94" stroke-width="1.3"/>
<rect x="434.40" y="509.30" width="3.20" height="3.20" fill="#1a5a94"/>
<text x="442.20" y="513.00" font-size="7.5" textLength="14.60" lengthAdjust="spacingAndGlyphs">BSA</text>
<line x1="475.80" y1="510.90" x2="483.50" y2="510.90" stroke="#c1132f" stroke-width="1.3"/>
<rect x="478.10" y="509.30" width="3.20" height="3.20" fill="#c1132f"/>
<text x="485.70" y="513.00" font-size="7.5" textLength="16.50" lengthAdjust="spacingAndGlyphs">rDPT</text>
<line x1="427.80" y1="568.80" x2="427.80" y2="571.60" stroke="#1a5a94" stroke-width="1.0"/>
<line x1="425.60" y1="568.80" x2="430.00" y2="568.80" stroke="#1a5a94" stroke-width="1.0"/>
<line x1="425.60" y1="571.60" x2="430.00" y2="571.60" stroke="#1a5a94" stroke-width="1.0"/>
<line x1="447.70" y1="568.80" x2="447.70" y2="571.60" stroke="#1a5a94" stroke-width="1.0"/>
<line x1="445.50" y1="568.80" x2="449.90" y2="568.80" stroke="#1a5a94" stroke-width="1.0"/>
<line x1="445.50" y1="571.60" x2="449.90" y2="571.60" stroke="#1a5a94" stroke-width="1.0"/>
<line x1="467.60" y1="570.00" x2="467.60" y2="572.60" stroke="#1a5a94" stroke-width="1.0"/>
<line x1="465.40" y1="570.00" x2="469.80" y2="570.00" stroke="#1a5a94" stroke-width="1.0"/>
<line x1="465.40" y1="572.60" x2="469.80" y2="572.60" stroke="#1a5a94" stroke-width="1.0"/>
<line x1="487.50" y1="565.30" x2="487.50" y2="572.00" stroke="#1a5a94" stroke-width="1.0"/>
<line x1="485.30" y1="565.30" x2="489.70" y2="565.30" stroke="#1a5a94" stroke-width="1.0"/>
<line x1="485.30" y1="572.00" x2="489.70" y2="572.00" stroke="#1a5a94" stroke-width="1.0"/>
<line x1="507.40" y1="571.50" x2="507.40" y2="574.00" stroke="#1a5a94" stroke-width="1.0"/>
<line x1="505.20" y1="571.50" x2="509.60" y2="571.50" stroke="#1a5a94" stroke-width="1.0"/>
<line x1="505.20" y1="574.00" x2="509.60" y2="574.00" stroke="#1a5a94" stroke-width="1.0"/>
<path d="M427.80 570.20 L447.70 570.20 L467.60 571.30 L487.50 568.60 L507.40 572.80" fill="none" stroke="#1a5a94" stroke-width="1.4"/>
<rect x="426.20" y="568.60" width="3.20" height="3.20" fill="#1a5a94"/>
<rect x="446.10" y="568.60" width="3.20" height="3.20" fill="#1a5a94"/>
<rect x="466.00" y="569.70" width="3.20" height="3.20" fill="#1a5a94"/>
<rect x="485.90" y="567.00" width="3.20" height="3.20" fill="#1a5a94"/>
<rect x="505.80" y="571.20" width="3.20" height="3.20" fill="#1a5a94"/>
<line x1="427.80" y1="559.10" x2="427.80" y2="566.90" stroke="#c1132f" stroke-width="1.0"/>
<line x1="425.60" y1="559.10" x2="430.00" y2="559.10" stroke="#c1132f" stroke-width="1.0"/>
<line x1="425.60" y1="566.90" x2="430.00" y2="566.90" stroke="#c1132f" stroke-width="1.0"/>
<line x1="447.70" y1="557.40" x2="447.70" y2="565.30" stroke="#c1132f" stroke-width="1.0"/>
<line x1="445.50" y1="557.40" x2="449.90" y2="557.40" stroke="#c1132f" stroke-width="1.0"/>
<line x1="445.50" y1="565.30" x2="449.90" y2="565.30" stroke="#c1132f" stroke-width="1.0"/>
<line x1="467.60" y1="559.80" x2="467.60" y2="568.00" stroke="#c1132f" stroke-width="1.0"/>
<line x1="465.40" y1="559.80" x2="469.80" y2="559.80" stroke="#c1132f" stroke-width="1.0"/>
<line x1="465.40" y1="568.00" x2="469.80" y2="568.00" stroke="#c1132f" stroke-width="1.0"/>
<line x1="487.50" y1="559.10" x2="487.50" y2="568.00" stroke="#c1132f" stroke-width="1.0"/>
<line x1="485.30" y1="559.10" x2="489.70" y2="559.10" stroke="#c1132f" stroke-width="1.0"/>
<line x1="485.30" y1="568.00" x2="489.70" y2="568.00" stroke="#c1132f" stroke-width="1.0"/>
<line x1="507.40" y1="555.80" x2="507.40" y2="571.30" stroke="#c1132f" stroke-width="1.0"/>
<line x1="505.20" y1="555.80" x2="509.60" y2="555.80" stroke="#c1132f" stroke-width="1.0"/>
<line x1="505.20" y1="571.30" x2="509.60" y2="571.30" stroke="#c1132f" stroke-width="1.0"/>
<path d="M427.80 563.10 L447.70 561.30 L467.60 564.00 L487.50 564.00 L507.40 563.10" fill="none" stroke="#c1132f" stroke-width="1.4"/>
<rect x="426.20" y="561.50" width="3.20" height="3.20" fill="#c1132f"/>
<rect x="446.10" y="559.70" width="3.20" height="3.20" fill="#c1132f"/>
<rect x="466.00" y="562.40" width="3.20" height="3.20" fill="#c1132f"/>
<rect x="485.90" y="562.40" width="3.20" height="3.20" fill="#c1132f"/>
<rect x="505.80" y="561.50" width="3.20" height="3.20" fill="#c1132f"/>
<text x="427.80" y="557.10" font-size="7.6" text-anchor="middle">*</text>
<text x="447.70" y="556.20" font-size="7.6" text-anchor="middle">*</text>
<text x="487.50" y="556.20" font-size="7.6" text-anchor="middle">*</text>
<text x="507.40" y="545.20" font-size="7.6" text-anchor="middle">*</text>
<text x="427.80" y="585.50" font-size="7.1" text-anchor="middle" textLength="8.61" lengthAdjust="spacingAndGlyphs">21</text>
<text x="447.70" y="585.50" font-size="7.1" text-anchor="middle" textLength="8.61" lengthAdjust="spacingAndGlyphs">60</text>
<text x="467.60" y="585.50" font-size="7.1" text-anchor="middle" textLength="8.61" lengthAdjust="spacingAndGlyphs">90</text>
<text x="487.50" y="585.50" font-size="7.1" text-anchor="middle" textLength="12.91" lengthAdjust="spacingAndGlyphs">120</text>
<text x="507.40" y="585.50" font-size="7.1" text-anchor="middle" textLength="12.91" lengthAdjust="spacingAndGlyphs">180</text>
<text x="468.00" y="595.60" font-size="9.0" text-anchor="middle" textLength="13.00" lengthAdjust="spacingAndGlyphs">Days</text>
<text x="397.80" y="551.00" font-size="8.6" textLength="24.20" lengthAdjust="spacingAndGlyphs" transform="rotate(-90 397.80 551.00)">% Donor</text>
<line x1="321.30" y1="497.90" x2="321.30" y2="570.10" stroke="#231f20" stroke-width="1"/>
<line x1="318.10" y1="498.20" x2="321.30" y2="498.20" stroke="#231f20" stroke-width="1"/>
<text x="315.80" y="500.75" font-size="7.1" text-anchor="end" textLength="12.91" lengthAdjust="spacingAndGlyphs">100</text>
<line x1="318.10" y1="512.30" x2="321.30" y2="512.30" stroke="#231f20" stroke-width="1"/>
<text x="315.80" y="514.85" font-size="7.1" text-anchor="end" textLength="8.61" lengthAdjust="spacingAndGlyphs">80</text>
<line x1="318.10" y1="526.80" x2="321.30" y2="526.80" stroke="#231f20" stroke-width="1"/>
<text x="315.80" y="529.35" font-size="7.1" text-anchor="end" textLength="8.61" lengthAdjust="spacingAndGlyphs">60</text>
<line x1="318.10" y1="541.20" x2="321.30" y2="541.20" stroke="#231f20" stroke-width="1"/>
<text x="315.80" y="543.75" font-size="7.1" text-anchor="end" textLength="8.61" lengthAdjust="spacingAndGlyphs">40</text>
<line x1="318.10" y1="555.70" x2="321.30" y2="555.70" stroke="#231f20" stroke-width="1"/>
<text x="315.80" y="558.25" font-size="7.1" text-anchor="end" textLength="8.61" lengthAdjust="spacingAndGlyphs">20</text>
<line x1="318.10" y1="570.10" x2="321.30" y2="570.10" stroke="#231f20" stroke-width="1"/>
<text x="315.80" y="572.65" font-size="7.1" text-anchor="end" textLength="4.30" lengthAdjust="spacingAndGlyphs">0</text>
<line x1="321.30" y1="570.10" x2="392.00" y2="570.10" stroke="#231f20" stroke-width="1"/>
<line x1="338.50" y1="570.10" x2="338.50" y2="573.10" stroke="#231f20" stroke-width="1"/>
<line x1="373.80" y1="570.10" x2="373.80" y2="573.10" stroke="#231f20" stroke-width="1"/>
<text x="325.90" y="492.50" font-size="7.5" textLength="58.60" lengthAdjust="spacingAndGlyphs">Primary HCT LSK</text>
<path d="M338.50 509.90V505.60H373.80V530.10" fill="none" stroke="#231f20" stroke-width="1"/>
<text x="344.90" y="502.20" font-size="7.6" textLength="23.90" lengthAdjust="spacingAndGlyphs">0.0154</text>
<line x1="338.50" y1="517.40" x2="338.50" y2="552.30" stroke="#c1132f" stroke-width="1.3"/>
<line x1="332.30" y1="517.40" x2="344.70" y2="517.40" stroke="#c1132f" stroke-width="1.3"/>
<line x1="332.30" y1="552.30" x2="344.70" y2="552.30" stroke="#c1132f" stroke-width="1.3"/>
<line x1="326.90" y1="534.90" x2="350.10" y2="534.90" stroke="#c1132f" stroke-width="1.3"/>
<circle cx="338.90" cy="513.90" r="1.45" fill="#c1132f"/>
<circle cx="336.40" cy="523.40" r="1.45" fill="#c1132f"/>
<circle cx="342.10" cy="521.40" r="1.45" fill="#c1132f"/>
<circle cx="336.40" cy="540.20" r="1.45" fill="#c1132f"/>
<circle cx="342.10" cy="539.00" r="1.45" fill="#c1132f"/>
<circle cx="338.50" cy="537.20" r="1.45" fill="#c1132f"/>
<circle cx="338.50" cy="558.80" r="1.45" fill="#c1132f"/>
<circle cx="338.50" cy="562.80" r="1.45" fill="#c1132f"/>
<line x1="373.80" y1="539.80" x2="373.80" y2="566.80" stroke="#1a5a94" stroke-width="1.05"/>
<line x1="367.80" y1="539.80" x2="379.80" y2="539.80" stroke="#1a5a94" stroke-width="1.05"/>
<line x1="367.80" y1="566.80" x2="379.80" y2="566.80" stroke="#1a5a94" stroke-width="1.05"/>
<line x1="361.70" y1="553.30" x2="385.90" y2="553.30" stroke="#1a5a94" stroke-width="1.05"/>
<circle cx="369.20" cy="532.50" r="1.45" fill="#1a5a94"/>
<circle cx="374.40" cy="533.50" r="1.45" fill="#1a5a94"/>
<circle cx="374.00" cy="539.00" r="1.45" fill="#1a5a94"/>
<circle cx="374.00" cy="550.30" r="1.45" fill="#1a5a94"/>
<circle cx="369.20" cy="555.70" r="1.45" fill="#1a5a94"/>
<circle cx="378.40" cy="555.70" r="1.45" fill="#1a5a94"/>
<circle cx="374.00" cy="559.20" r="1.45" fill="#1a5a94"/>
<circle cx="374.00" cy="563.80" r="1.45" fill="#1a5a94"/>
<circle cx="371.40" cy="570.00" r="1.45" fill="#1a5a94"/>
<circle cx="376.60" cy="570.00" r="1.45" fill="#1a5a94"/>
<text x="339.10" y="582.00" font-size="7.6" text-anchor="middle" textLength="15.50" lengthAdjust="spacingAndGlyphs">BSA</text>
<text x="374.20" y="582.00" font-size="7.6" text-anchor="middle" textLength="22.20" lengthAdjust="spacingAndGlyphs">+rDPT</text>
<text x="299.30" y="562.30" font-size="8.5" textLength="59.40" lengthAdjust="spacingAndGlyphs" transform="rotate(-90 299.30 562.30)">% Donor at 120 days</text>
<text x="10.40" y="491.80" font-size="10.5" font-weight="bold">M</text>
<path d="M35.5 492.9 H100.2 V571.6" fill="none" stroke="#8a8a8a" stroke-width="0.9"/>
<path d="M35.5 492.9 V571.6 H100.2" fill="none" stroke="#444" stroke-width="0.9" stroke-dasharray="0.9 1.1"/>
<line x1="33.90" y1="496.80" x2="35.50" y2="496.80" stroke="#231f20" stroke-width="0.9"/>
<text x="33.50" y="499.00" font-size="6.0" text-anchor="end" textLength="15.41" lengthAdjust="spacingAndGlyphs">250K</text>
<line x1="33.90" y1="511.70" x2="35.50" y2="511.70" stroke="#231f20" stroke-width="0.9"/>
<text x="33.50" y="513.90" font-size="6.0" text-anchor="end" textLength="15.41" lengthAdjust="spacingAndGlyphs">200K</text>
<line x1="33.90" y1="526.50" x2="35.50" y2="526.50" stroke="#231f20" stroke-width="0.9"/>
<text x="33.50" y="528.70" font-size="6.0" text-anchor="end" textLength="15.41" lengthAdjust="spacingAndGlyphs">150K</text>
<line x1="33.90" y1="541.50" x2="35.50" y2="541.50" stroke="#231f20" stroke-width="0.9"/>
<text x="33.50" y="543.70" font-size="6.0" text-anchor="end" textLength="15.41" lengthAdjust="spacingAndGlyphs">100K</text>
<line x1="33.90" y1="556.80" x2="35.50" y2="556.80" stroke="#231f20" stroke-width="0.9"/>
<text x="33.50" y="559.00" font-size="6.0" text-anchor="end" textLength="11.74" lengthAdjust="spacingAndGlyphs">50K</text>
<line x1="33.90" y1="571.30" x2="35.50" y2="571.30" stroke="#231f20" stroke-width="0.9"/>
<text x="33.50" y="573.50" font-size="6.0" text-anchor="end" textLength="3.67" lengthAdjust="spacingAndGlyphs">0</text>
<text x="37.80" y="575.30" font-size="6.3" text-anchor="end" textLength="3.78" lengthAdjust="spacingAndGlyphs" transform="rotate(-45 37.80 575.30)">0</text>
<text x="49.90" y="575.30" font-size="6.3" text-anchor="end" textLength="12.11" lengthAdjust="spacingAndGlyphs" transform="rotate(-45 49.90 575.30)">50K</text>
<text x="62.10" y="575.30" font-size="6.3" text-anchor="end" textLength="15.89" lengthAdjust="spacingAndGlyphs" transform="rotate(-45 62.10 575.30)">100K</text>
<text x="74.00" y="575.30" font-size="6.3" text-anchor="end" textLength="15.89" lengthAdjust="spacingAndGlyphs" transform="rotate(-45 74.00 575.30)">150K</text>
<text x="86.50" y="575.30" font-size="6.3" text-anchor="end" textLength="15.89" lengthAdjust="spacingAndGlyphs" transform="rotate(-45 86.50 575.30)">200K</text>
<text x="99.00" y="575.30" font-size="6.3" text-anchor="end" textLength="15.89" lengthAdjust="spacingAndGlyphs" transform="rotate(-45 99.00 575.30)">250K</text>
<text x="79.00" y="500.10" font-size="7.0" textLength="19.30" lengthAdjust="spacingAndGlyphs">WBM</text>
<text x="57.00" y="596.50" font-size="9.8" textLength="18.00" lengthAdjust="spacingAndGlyphs">FSC-A</text>
<text x="17.30" y="542.30" font-size="9.6" textLength="17.00" lengthAdjust="spacingAndGlyphs" transform="rotate(-90 17.30 542.30)">SSC-A</text>
<path d="M50.5 569.5 L51.5 564.0 L54.0 560.5 L56.5 557.0 L59.0 553.5 L62.0 550.0 L65.0 546.5 L68.0 543.0 L71.5 539.0 L75.0 536.0 L79.0 533.0 L83.0 530.5 L87.0 528.5 L91.0 527.5 L94.0 528.5 L97.0 531.0 L98.5 535.0 L98.8 545.0 L98.5 556.0 L97.5 563.0 L95.0 567.0 L88.0 568.5 L75.0 569.5 L60.0 570.0Z" fill="#141414"/>
<g fill="#fff"><circle cx="90.4" cy="532.8" r="0.63"/><circle cx="69.7" cy="569.0" r="0.53"/><circle cx="89.9" cy="535.2" r="0.73"/><circle cx="60.4" cy="556.4" r="0.62"/><circle cx="65.7" cy="552.4" r="0.70"/><circle cx="65.0" cy="561.3" r="0.47"/><circle cx="62.3" cy="551.9" r="0.67"/><circle cx="87.6" cy="533.0" r="0.64"/><circle cx="69.4" cy="564.5" r="0.58"/><circle cx="96.8" cy="533.9" r="0.71"/><circle cx="51.7" cy="564.7" r="0.73"/><circle cx="63.3" cy="562.7" r="0.45"/><circle cx="51.6" cy="567.9" r="0.52"/><circle cx="58.6" cy="560.3" r="0.54"/><circle cx="89.1" cy="531.1" r="0.48"/><circle cx="90.4" cy="536.5" r="0.42"/><circle cx="56.8" cy="566.2" r="0.51"/><circle cx="70.8" cy="566.5" r="0.48"/><circle cx="76.2" cy="549.7" r="0.68"/><circle cx="73.6" cy="567.5" r="0.58"/><circle cx="91.1" cy="533.3" r="0.45"/><circle cx="58.0" cy="557.9" r="0.53"/><circle cx="61.1" cy="568.0" r="0.59"/><circle cx="90.7" cy="534.4" r="0.55"/><circle cx="65.9" cy="558.2" r="0.47"/><circle cx="77.3" cy="546.2" r="0.43"/><circle cx="53.6" cy="569.4" r="0.40"/><circle cx="70.9" cy="566.2" r="0.80"/><circle cx="54.5" cy="563.9" r="0.70"/><circle cx="65.2" cy="559.8" r="0.43"/><circle cx="73.4" cy="567.2" r="0.69"/><circle cx="67.1" cy="562.9" r="0.79"/><circle cx="54.6" cy="563.3" r="0.63"/><circle cx="64.7" cy="547.0" r="0.44"/><circle cx="61.7" cy="552.4" r="0.60"/><circle cx="98.1" cy="533.9" r="0.57"/><circle cx="55.6" cy="563.0" r="0.48"/><circle cx="63.3" cy="558.5" r="0.62"/><circle cx="63.5" cy="556.1" r="0.40"/><circle cx="72.2" cy="538.9" r="0.77"/><circle cx="96.2" cy="536.5" r="0.66"/><circle cx="96.5" cy="533.1" r="0.65"/><circle cx="61.7" cy="565.7" r="0.77"/><circle cx="65.8" cy="563.2" r="0.66"/><circle cx="55.4" cy="563.0" r="0.50"/><circle cx="95.7" cy="538.1" r="0.50"/><circle cx="68.5" cy="568.1" r="0.46"/><circle cx="95.3" cy="532.9" r="0.41"/><circle cx="63.1" cy="555.4" r="0.71"/><circle cx="97.2" cy="532.8" r="0.74"/><circle cx="91.5" cy="564.6" r="0.52"/><circle cx="97.5" cy="538.1" r="0.47"/><circle cx="62.7" cy="554.5" r="0.66"/><circle cx="61.3" cy="553.0" r="0.74"/><circle cx="60.4" cy="568.7" r="0.77"/><circle cx="97.5" cy="533.5" r="0.47"/><circle cx="95.7" cy="559.2" r="0.71"/><circle cx="67.5" cy="568.1" r="0.73"/><circle cx="97.1" cy="536.3" r="0.70"/><circle cx="68.5" cy="566.6" r="0.53"/><circle cx="68.1" cy="565.6" r="0.47"/><circle cx="53.5" cy="566.6" r="0.73"/><circle cx="63.7" cy="568.2" r="0.53"/><circle cx="63.2" cy="558.0" r="0.55"/><circle cx="59.3" cy="561.6" r="0.62"/><circle cx="68.0" cy="560.7" r="0.55"/><circle cx="60.0" cy="559.5" r="0.73"/><circle cx="56.4" cy="563.2" r="0.50"/><circle cx="75.0" cy="537.3" r="0.42"/><circle cx="68.5" cy="564.3" r="0.63"/><circle cx="62.8" cy="553.0" r="0.65"/><circle cx="66.3" cy="556.3" r="0.73"/><circle cx="58.4" cy="557.1" r="0.68"/><circle cx="67.8" cy="545.2" r="0.76"/><circle cx="85.7" cy="536.2" r="0.78"/><circle cx="70.1" cy="565.0" r="0.60"/><circle cx="62.4" cy="558.3" r="0.60"/><circle cx="87.1" cy="529.1" r="0.46"/><circle cx="74.1" cy="537.5" r="0.52"/><circle cx="68.8" cy="567.9" r="0.63"/><circle cx="94.7" cy="534.5" r="0.43"/><circle cx="95.4" cy="530.3" r="0.68"/><circle cx="87.0" cy="534.2" r="0.47"/><circle cx="63.8" cy="562.2" r="0.58"/><circle cx="63.2" cy="549.0" r="0.79"/><circle cx="58.3" cy="567.3" r="0.44"/><circle cx="93.7" cy="534.7" r="0.42"/><circle cx="55.6" cy="569.7" r="0.58"/><circle cx="86.4" cy="529.6" r="0.48"/><circle cx="61.3" cy="552.3" r="0.69"/><circle cx="60.4" cy="554.0" r="0.40"/><circle cx="57.0" cy="567.3" r="0.74"/><circle cx="71.9" cy="567.3" r="0.74"/><circle cx="62.5" cy="565.9" r="0.71"/><circle cx="95.9" cy="533.5" r="0.57"/><circle cx="89.8" cy="534.9" r="0.51"/><circle cx="61.0" cy="564.9" r="0.66"/><circle cx="66.3" cy="564.9" r="0.61"/><circle cx="62.1" cy="566.1" r="0.57"/><circle cx="94.5" cy="533.6" r="0.54"/><circle cx="55.7" cy="567.0" r="0.58"/><circle cx="68.1" cy="562.2" r="0.67"/><circle cx="93.5" cy="530.3" r="0.73"/><circle cx="61.0" cy="564.1" r="0.76"/><circle cx="90.1" cy="534.7" r="0.47"/><circle cx="63.1" cy="567.6" r="0.52"/><circle cx="60.9" cy="557.2" r="0.58"/><circle cx="54.4" cy="561.0" r="0.63"/><circle cx="54.7" cy="565.3" r="0.54"/><circle cx="93.2" cy="537.4" r="0.48"/><circle cx="58.0" cy="563.3" r="0.43"/><circle cx="86.3" cy="534.7" r="0.53"/><circle cx="66.3" cy="549.7" r="0.58"/><circle cx="97.0" cy="531.8" r="0.79"/><circle cx="81.3" cy="532.0" r="0.76"/><circle cx="74.2" cy="568.9" r="0.75"/><circle cx="70.3" cy="567.8" r="0.79"/><circle cx="56.4" cy="569.3" r="0.78"/><circle cx="76.0" cy="536.8" r="0.65"/><circle cx="56.7" cy="560.5" r="0.72"/><circle cx="61.4" cy="568.5" r="0.42"/><circle cx="56.5" cy="562.9" r="0.67"/><circle cx="65.1" cy="547.9" r="0.64"/><circle cx="57.3" cy="562.8" r="0.52"/><circle cx="61.8" cy="560.5" r="0.63"/><circle cx="57.9" cy="565.9" r="0.78"/><circle cx="58.6" cy="565.4" r="0.59"/><circle cx="81.3" cy="554.5" r="0.66"/><circle cx="66.5" cy="569.2" r="0.52"/><circle cx="73.9" cy="565.6" r="0.54"/><circle cx="75.0" cy="568.9" r="0.75"/><circle cx="65.0" cy="552.4" r="0.41"/><circle cx="88.4" cy="529.2" r="0.48"/><circle cx="93.3" cy="550.7" r="0.67"/><circle cx="59.7" cy="566.7" r="0.58"/><circle cx="60.8" cy="555.8" r="0.43"/><circle cx="87.3" cy="531.8" r="0.66"/><circle cx="70.9" cy="541.0" r="0.55"/><circle cx="56.2" cy="561.9" r="0.63"/><circle cx="94.9" cy="546.5" r="0.57"/><circle cx="54.8" cy="564.5" r="0.61"/><circle cx="62.2" cy="558.7" r="0.63"/><circle cx="62.8" cy="568.5" r="0.56"/><circle cx="65.5" cy="558.5" r="0.45"/><circle cx="83.2" cy="533.7" r="0.47"/><circle cx="71.2" cy="565.2" r="0.76"/><circle cx="89.5" cy="539.5" r="0.62"/><circle cx="52.5" cy="562.9" r="0.44"/><circle cx="54.7" cy="561.8" r="0.74"/><circle cx="61.7" cy="552.1" r="0.50"/><circle cx="79.0" cy="535.5" r="0.44"/><circle cx="59.2" cy="557.3" r="0.61"/><circle cx="96.8" cy="538.4" r="0.50"/><circle cx="64.9" cy="552.6" r="0.60"/><circle cx="85.1" cy="535.8" r="0.62"/><circle cx="56.0" cy="569.1" r="0.49"/><circle cx="95.2" cy="531.6" r="0.63"/><circle cx="93.8" cy="529.9" r="0.45"/><circle cx="64.7" cy="569.1" r="0.61"/><circle cx="75.9" cy="535.4" r="0.64"/><circle cx="94.5" cy="536.8" r="0.43"/><circle cx="60.5" cy="553.5" r="0.56"/><circle cx="92.3" cy="548.5" r="0.43"/><circle cx="68.4" cy="552.8" r="0.58"/><circle cx="56.3" cy="557.9" r="0.75"/><circle cx="97.2" cy="537.0" r="0.62"/><circle cx="90.0" cy="528.8" r="0.69"/><circle cx="84.3" cy="535.8" r="0.70"/><circle cx="84.4" cy="531.9" r="0.45"/><circle cx="69.6" cy="567.5" r="0.80"/><circle cx="91.4" cy="529.8" r="0.69"/><circle cx="57.2" cy="568.7" r="0.44"/><circle cx="93.2" cy="565.1" r="0.73"/><circle cx="71.4" cy="567.9" r="0.56"/><circle cx="65.3" cy="555.0" r="0.47"/><circle cx="69.0" cy="552.4" r="0.78"/><circle cx="67.5" cy="564.1" r="0.63"/><circle cx="98.2" cy="540.1" r="0.71"/><circle cx="56.6" cy="564.5" r="0.45"/><circle cx="69.3" cy="542.7" r="0.71"/><circle cx="67.5" cy="567.8" r="0.42"/><circle cx="68.6" cy="544.5" r="0.49"/><circle cx="89.9" cy="534.8" r="0.55"/><circle cx="64.5" cy="549.2" r="0.41"/><circle cx="98.5" cy="554.6" r="0.64"/><circle cx="65.2" cy="563.3" r="0.49"/><circle cx="82.8" cy="535.9" r="0.52"/><circle cx="58.1" cy="559.8" r="0.68"/><circle cx="89.5" cy="530.1" r="0.57"/><circle cx="52.6" cy="567.1" r="0.76"/><circle cx="65.7" cy="565.7" r="0.65"/><circle cx="74.4" cy="567.9" r="0.75"/><circle cx="65.4" cy="564.7" r="0.63"/><circle cx="97.4" cy="539.9" r="0.77"/><circle cx="56.5" cy="562.6" r="0.75"/><circle cx="84.6" cy="531.4" r="0.47"/><circle cx="90.8" cy="532.9" r="0.70"/><circle cx="74.9" cy="537.2" r="0.54"/><circle cx="56.8" cy="557.5" r="0.71"/><circle cx="62.4" cy="553.3" r="0.67"/><circle cx="92.6" cy="532.7" r="0.73"/><circle cx="92.1" cy="533.1" r="0.45"/><circle cx="81.3" cy="535.1" r="0.55"/><circle cx="88.0" cy="539.7" r="0.69"/><circle cx="91.8" cy="553.3" r="0.78"/><circle cx="86.7" cy="531.2" r="0.69"/><circle cx="95.3" cy="532.9" r="0.42"/><circle cx="67.8" cy="545.0" r="0.64"/><circle cx="72.0" cy="567.3" r="0.44"/><circle cx="65.0" cy="565.1" r="0.62"/></g>
<g fill="#141414"><circle cx="89.6" cy="529.8" r="0.55"/><circle cx="54.7" cy="555.7" r="0.59"/><circle cx="73.5" cy="536.7" r="0.54"/><circle cx="56.5" cy="551.5" r="0.56"/><circle cx="93.0" cy="527.7" r="0.44"/><circle cx="57.6" cy="552.5" r="0.58"/><circle cx="51.2" cy="562.1" r="0.40"/><circle cx="47.7" cy="567.5" r="0.41"/><circle cx="51.8" cy="562.4" r="0.50"/><circle cx="96.9" cy="530.6" r="0.58"/><circle cx="48.5" cy="560.7" r="0.37"/><circle cx="94.9" cy="529.5" r="0.40"/><circle cx="85.9" cy="527.5" r="0.36"/><circle cx="92.8" cy="527.3" r="0.46"/><circle cx="77.2" cy="531.8" r="0.39"/><circle cx="86.0" cy="529.0" r="0.40"/><circle cx="83.3" cy="531.4" r="0.54"/><circle cx="63.9" cy="544.0" r="0.50"/><circle cx="75.8" cy="534.9" r="0.58"/><circle cx="54.9" cy="556.1" r="0.45"/><circle cx="65.0" cy="542.2" r="0.52"/><circle cx="65.7" cy="542.4" r="0.35"/><circle cx="50.8" cy="559.7" r="0.59"/><circle cx="87.1" cy="525.7" r="0.41"/><circle cx="90.3" cy="529.2" r="0.47"/><circle cx="51.7" cy="559.5" r="0.48"/><circle cx="93.5" cy="527.2" r="0.59"/><circle cx="49.6" cy="564.6" r="0.47"/><circle cx="52.0" cy="561.0" r="0.60"/><circle cx="81.3" cy="530.6" r="0.51"/><circle cx="52.0" cy="565.4" r="0.40"/><circle cx="94.2" cy="525.2" r="0.56"/><circle cx="47.6" cy="568.2" r="0.40"/><circle cx="88.7" cy="528.8" r="0.60"/><circle cx="52.9" cy="562.3" r="0.46"/><circle cx="82.3" cy="528.0" r="0.41"/><circle cx="98.7" cy="527.1" r="0.59"/><circle cx="49.2" cy="562.9" r="0.43"/><circle cx="89.8" cy="529.7" r="0.45"/><circle cx="52.0" cy="555.9" r="0.44"/><circle cx="50.8" cy="563.5" r="0.52"/><circle cx="80.3" cy="531.0" r="0.36"/><circle cx="89.8" cy="526.3" r="0.44"/><circle cx="90.9" cy="529.6" r="0.39"/><circle cx="77.1" cy="534.6" r="0.56"/><circle cx="88.2" cy="525.8" r="0.35"/><circle cx="85.1" cy="527.4" r="0.50"/><circle cx="73.9" cy="534.2" r="0.41"/><circle cx="47.5" cy="563.1" r="0.46"/><circle cx="49.3" cy="565.8" r="0.49"/><circle cx="78.3" cy="530.4" r="0.53"/><circle cx="50.6" cy="558.2" r="0.38"/><circle cx="86.3" cy="526.3" r="0.41"/><circle cx="89.5" cy="526.3" r="0.38"/><circle cx="89.4" cy="528.1" r="0.59"/><circle cx="48.3" cy="563.1" r="0.39"/><circle cx="53.5" cy="554.7" r="0.38"/><circle cx="52.0" cy="558.5" r="0.48"/><circle cx="54.8" cy="552.7" r="0.50"/><circle cx="53.0" cy="556.7" r="0.57"/><circle cx="98.3" cy="528.7" r="0.36"/><circle cx="95.0" cy="525.1" r="0.41"/><circle cx="99.5" cy="532.7" r="0.39"/><circle cx="48.6" cy="563.0" r="0.50"/><circle cx="55.4" cy="555.2" r="0.46"/><circle cx="77.2" cy="534.9" r="0.45"/><circle cx="84.7" cy="528.9" r="0.57"/><circle cx="74.8" cy="535.6" r="0.52"/><circle cx="75.5" cy="535.4" r="0.57"/><circle cx="81.5" cy="531.2" r="0.59"/></g>
<defs><radialGradient id="g1" cx="0.5" cy="0.42" r="0.62"><stop offset="0" stop-color="#f2f2f2"/><stop offset="0.45" stop-color="#d2d2d2"/><stop offset="0.85" stop-color="#b4b4b4"/><stop offset="1" stop-color="#9a9a9a"/></radialGradient><linearGradient id="g1b" x1="0" x2="1"><stop offset="0" stop-color="#e8e8e8"/><stop offset="1" stop-color="#c6c6c6"/></linearGradient></defs>
<path d="M52.5 567.2 C53.5 563.5 58 562.5 63 562.3 C68 562 71.5 560.8 73.5 555.5 C75 548.5 78.5 542.5 85 541.2 C91.5 540.5 97 544 97.6 551 C98.2 558 95.5 563.8 88.5 566.2 C80 568.3 70 568.4 60 568.6 C56 568.7 52.8 568.5 52.5 567.2Z" fill="url(#g1)" stroke="#222" stroke-width="0.6"/>
<g fill="none" stroke="#8a8a8a" stroke-width="0.4"><path d="M76 556 C76 547 81 543 86 543 C92 543.5 96 547.5 95.8 553 C95.6 559 91 563 84 564 C79 564.5 76 561 76 556Z"/><path d="M79 555 C79 549 82.5 546 86.5 546.5 C91 547 93.5 550 93.2 554 C93 558 89.5 561 85 561 C81 561 79 558.5 79 555Z"/><path d="M82 554 C82 550.5 84 549 86.5 549.5 C89 550 90.5 552 90.2 554.5 C90 557 88 558.5 85.5 558.2 C83.2 558 82 556.5 82 554Z"/><path d="M55 566.8 C60 565 66 565.2 72 565.6 C80 566 88 565 94 561"/></g>
<ellipse cx="70.8" cy="564.6" rx="5.4" ry="1.9" fill="#c4c4c4" stroke="#111" stroke-width="0.9"/>
<ellipse cx="56.5" cy="566.4" rx="3.6" ry="1.5" fill="#ececec" stroke="#888" stroke-width="0.4"/>
<g fill="#141414"><circle cx="70.0" cy="569.1" r="0.41"/><circle cx="93.8" cy="562.8" r="0.55"/><circle cx="92.2" cy="565.2" r="0.55"/><circle cx="79.6" cy="568.4" r="0.37"/><circle cx="89.9" cy="566.9" r="0.50"/><circle cx="69.0" cy="566.9" r="0.40"/><circle cx="81.7" cy="568.0" r="0.53"/><circle cx="93.2" cy="566.3" r="0.55"/><circle cx="66.7" cy="567.2" r="0.55"/><circle cx="73.6" cy="565.9" r="0.41"/><circle cx="87.4" cy="566.7" r="0.37"/><circle cx="77.5" cy="567.0" r="0.52"/><circle cx="77.6" cy="567.1" r="0.49"/><circle cx="86.2" cy="566.9" r="0.38"/><circle cx="66.7" cy="569.2" r="0.40"/><circle cx="89.1" cy="563.7" r="0.50"/><circle cx="68.6" cy="567.5" r="0.38"/><circle cx="73.3" cy="567.0" r="0.51"/><circle cx="88.4" cy="563.0" r="0.41"/><circle cx="81.3" cy="564.7" r="0.41"/><circle cx="86.1" cy="565.3" r="0.46"/><circle cx="60.7" cy="567.1" r="0.48"/><circle cx="95.6" cy="567.8" r="0.53"/><circle cx="90.9" cy="566.8" r="0.36"/><circle cx="83.5" cy="567.3" r="0.53"/><circle cx="95.8" cy="563.5" r="0.41"/><circle cx="88.3" cy="564.3" r="0.42"/><circle cx="69.5" cy="568.2" r="0.51"/><circle cx="82.2" cy="568.4" r="0.52"/><circle cx="92.4" cy="566.4" r="0.50"/><circle cx="79.8" cy="567.4" r="0.58"/><circle cx="79.3" cy="564.4" r="0.40"/><circle cx="75.4" cy="565.6" r="0.43"/><circle cx="63.4" cy="566.7" r="0.52"/><circle cx="85.8" cy="564.0" r="0.42"/><circle cx="89.3" cy="567.5" r="0.39"/><circle cx="72.6" cy="565.7" r="0.41"/><circle cx="67.0" cy="569.0" r="0.54"/><circle cx="65.7" cy="567.2" r="0.56"/><circle cx="74.3" cy="567.4" r="0.53"/></g>
<line x1="81.50" y1="589.30" x2="91.90" y2="599.93" stroke="#231f20" stroke-width="1.1"/>
<path d="M95.40 603.50 L89.91 601.18 L93.20 597.96 Z" fill="#231f20"/>
<line x1="117.50" y1="603.50" x2="126.85" y2="582.76" stroke="#231f20" stroke-width="1.1"/>
<path d="M128.90 578.20 L128.74 584.16 L124.54 582.27 Z" fill="#231f20"/>
<text x="92.70" y="612.80" font-size="10.0">Singlets/PI<tspan font-size="6.2" dy="-3.4">neg</tspan></text>
<path d="M130.6 492.3 H195.4 V571.2" fill="none" stroke="#8a8a8a" stroke-width="0.9"/>
<path d="M130.6 492.3 V571.2 H195.4" fill="none" stroke="#8a8a8a" stroke-width="0.9"/>
<line x1="129.00" y1="499.40" x2="130.60" y2="499.40" stroke="#231f20" stroke-width="0.9"/>
<text x="128.60" y="501.60" font-size="6.5" text-anchor="end">10<tspan font-size="4.3" dy="-2.4">5</tspan></text>
<line x1="129.00" y1="518.70" x2="130.60" y2="518.70" stroke="#231f20" stroke-width="0.9"/>
<text x="128.60" y="520.90" font-size="6.5" text-anchor="end">10<tspan font-size="4.3" dy="-2.4">4</tspan></text>
<line x1="129.00" y1="540.20" x2="130.60" y2="540.20" stroke="#231f20" stroke-width="0.9"/>
<text x="128.60" y="542.40" font-size="6.5" text-anchor="end">10<tspan font-size="4.3" dy="-2.4">3</tspan></text>
<line x1="129.00" y1="552.70" x2="130.60" y2="552.70" stroke="#231f20" stroke-width="0.9"/>
<text x="128.60" y="554.90" font-size="6.0" text-anchor="end" textLength="3.67" lengthAdjust="spacingAndGlyphs">0</text>
<line x1="129.00" y1="566.70" x2="130.60" y2="566.70" stroke="#231f20" stroke-width="0.9"/>
<text x="128.60" y="568.90" font-size="6.5" text-anchor="end">−10<tspan font-size="4.3" dy="-2.4">3</tspan></text>
<text x="135.80" y="579.80" font-size="6.3" text-anchor="middle">−10<tspan font-size="4.3" dy="-2.4">3</tspan></text>
<text x="146.00" y="579.80" font-size="6.3" text-anchor="middle">0</text>
<text x="156.00" y="579.80" font-size="6.3" text-anchor="middle">10<tspan font-size="4.3" dy="-2.4">3</tspan></text>
<text x="174.20" y="579.80" font-size="6.3" text-anchor="middle">10<tspan font-size="4.3" dy="-2.4">4</tspan></text>
<text x="191.50" y="579.80" font-size="6.3" text-anchor="middle">10<tspan font-size="4.3" dy="-2.4">5</tspan></text>
<text x="156.50" y="590.40" font-size="9.2" font-weight="bold" textLength="12.90" lengthAdjust="spacingAndGlyphs">cKIT</text>
<text x="116.90" y="536.90" font-size="9.2" font-weight="bold" textLength="8.60" lengthAdjust="spacingAndGlyphs" transform="rotate(-90 116.90 536.90)">Lin</text>
<text x="162.20" y="500.20" font-size="7.5">lon<tspan font-size="5" dy="-2.8">−</tspan><tspan dy="2.8">cKIT</tspan><tspan font-size="5.2" dy="-2.8">+</tspan></text>
<path d="M144.0 501.5 L147.0 500.8 L152.0 503.0 L157.0 505.5 L162.0 508.0 L164.0 512.0 L161.5 516.5 L159.0 521.0 L156.0 527.0 L153.0 534.0 L151.5 545.0 L150.0 554.5 L145.5 555.0 L146.8 545.0 L148.6 535.5 L152.0 526.0 L155.6 518.0 L157.4 512.4 L155.0 508.8 L151.0 505.5 L146.0 503.5Z" fill="#111"/>
<g fill="#fff"><circle cx="156.2" cy="505.6" r="0.49"/><circle cx="147.0" cy="551.3" r="0.35"/><circle cx="154.1" cy="529.1" r="0.36"/><circle cx="151.3" cy="539.6" r="0.46"/><circle cx="151.7" cy="527.0" r="0.41"/><circle cx="149.1" cy="537.0" r="0.54"/><circle cx="156.7" cy="515.9" r="0.41"/><circle cx="150.0" cy="504.5" r="0.56"/><circle cx="152.7" cy="505.4" r="0.41"/><circle cx="151.9" cy="505.9" r="0.37"/><circle cx="149.8" cy="542.4" r="0.47"/><circle cx="148.9" cy="553.5" r="0.45"/><circle cx="147.0" cy="547.1" r="0.43"/><circle cx="158.9" cy="519.3" r="0.54"/><circle cx="150.5" cy="546.8" r="0.41"/><circle cx="160.4" cy="515.2" r="0.52"/><circle cx="159.1" cy="514.0" r="0.56"/><circle cx="149.1" cy="536.4" r="0.46"/><circle cx="150.7" cy="545.3" r="0.48"/><circle cx="150.9" cy="546.5" r="0.58"/><circle cx="146.8" cy="551.7" r="0.50"/><circle cx="161.4" cy="512.4" r="0.40"/><circle cx="158.7" cy="517.7" r="0.37"/><circle cx="153.7" cy="523.4" r="0.37"/><circle cx="157.9" cy="507.6" r="0.43"/><circle cx="155.8" cy="524.2" r="0.37"/><circle cx="148.4" cy="548.7" r="0.51"/><circle cx="151.6" cy="539.3" r="0.46"/><circle cx="162.6" cy="511.7" r="0.43"/><circle cx="158.6" cy="510.9" r="0.48"/><circle cx="154.9" cy="527.9" r="0.58"/><circle cx="157.4" cy="508.6" r="0.41"/><circle cx="147.7" cy="550.1" r="0.39"/><circle cx="162.5" cy="512.0" r="0.43"/><circle cx="154.3" cy="526.2" r="0.43"/><circle cx="145.8" cy="501.1" r="0.58"/><circle cx="150.8" cy="539.7" r="0.53"/><circle cx="159.0" cy="513.6" r="0.46"/><circle cx="162.1" cy="511.7" r="0.39"/><circle cx="158.2" cy="515.6" r="0.36"/><circle cx="152.9" cy="505.5" r="0.38"/><circle cx="157.6" cy="508.5" r="0.56"/><circle cx="159.3" cy="514.1" r="0.51"/><circle cx="152.2" cy="534.3" r="0.39"/><circle cx="153.6" cy="524.6" r="0.51"/><circle cx="151.0" cy="538.2" r="0.36"/><circle cx="158.6" cy="520.0" r="0.48"/><circle cx="157.5" cy="519.2" r="0.43"/><circle cx="146.3" cy="549.4" r="0.38"/><circle cx="160.4" cy="509.5" r="0.54"/><circle cx="147.9" cy="504.0" r="0.53"/><circle cx="160.1" cy="508.8" r="0.48"/><circle cx="148.6" cy="503.9" r="0.39"/><circle cx="149.3" cy="540.6" r="0.52"/><circle cx="147.9" cy="541.3" r="0.46"/><circle cx="156.6" cy="506.9" r="0.52"/><circle cx="148.7" cy="553.6" r="0.37"/><circle cx="156.0" cy="519.1" r="0.58"/><circle cx="155.2" cy="508.5" r="0.35"/><circle cx="149.4" cy="549.8" r="0.41"/><circle cx="157.8" cy="518.1" r="0.45"/><circle cx="159.2" cy="515.0" r="0.40"/><circle cx="156.2" cy="509.4" r="0.37"/><circle cx="149.5" cy="550.8" r="0.52"/><circle cx="159.1" cy="508.9" r="0.60"/><circle cx="149.1" cy="540.4" r="0.43"/><circle cx="157.0" cy="506.1" r="0.42"/><circle cx="153.6" cy="505.5" r="0.52"/><circle cx="158.6" cy="519.4" r="0.41"/><circle cx="162.7" cy="510.8" r="0.45"/><circle cx="147.3" cy="551.2" r="0.52"/><circle cx="149.0" cy="550.3" r="0.46"/><circle cx="148.4" cy="549.9" r="0.39"/><circle cx="152.9" cy="506.1" r="0.37"/><circle cx="162.5" cy="509.5" r="0.49"/><circle cx="151.4" cy="530.8" r="0.60"/><circle cx="147.2" cy="548.8" r="0.58"/><circle cx="151.7" cy="530.5" r="0.37"/><circle cx="150.3" cy="502.4" r="0.48"/><circle cx="149.7" cy="534.9" r="0.47"/><circle cx="157.7" cy="520.4" r="0.40"/><circle cx="157.4" cy="520.3" r="0.52"/><circle cx="156.1" cy="517.1" r="0.47"/><circle cx="150.3" cy="531.6" r="0.55"/><circle cx="152.1" cy="538.6" r="0.42"/><circle cx="158.9" cy="515.5" r="0.58"/><circle cx="155.0" cy="520.3" r="0.55"/><circle cx="162.0" cy="514.6" r="0.47"/><circle cx="160.0" cy="509.5" r="0.39"/><circle cx="155.2" cy="523.2" r="0.47"/></g>
<g fill="#111"><circle cx="158.3" cy="507.5" r="0.48"/><circle cx="158.6" cy="510.4" r="0.38"/><circle cx="158.7" cy="504.5" r="0.40"/><circle cx="158.2" cy="504.8" r="0.43"/><circle cx="158.5" cy="503.6" r="0.45"/><circle cx="158.8" cy="511.2" r="0.44"/><circle cx="157.1" cy="502.0" r="0.58"/><circle cx="161.6" cy="509.3" r="0.38"/><circle cx="159.9" cy="511.2" r="0.60"/><circle cx="155.8" cy="502.6" r="0.41"/><circle cx="154.9" cy="506.3" r="0.56"/><circle cx="151.4" cy="504.9" r="0.41"/><circle cx="154.7" cy="507.6" r="0.50"/><circle cx="154.6" cy="506.6" r="0.44"/><circle cx="158.4" cy="510.2" r="0.36"/><circle cx="154.8" cy="503.2" r="0.55"/><circle cx="162.6" cy="506.6" r="0.55"/><circle cx="152.1" cy="503.8" r="0.42"/><circle cx="160.6" cy="506.3" r="0.54"/><circle cx="158.9" cy="502.8" r="0.47"/><circle cx="153.6" cy="504.7" r="0.60"/><circle cx="150.8" cy="504.7" r="0.36"/><circle cx="159.3" cy="509.5" r="0.45"/><circle cx="148.9" cy="503.0" r="0.41"/><circle cx="159.9" cy="508.5" r="0.51"/><circle cx="157.8" cy="508.3" r="0.54"/><circle cx="158.2" cy="503.5" r="0.56"/><circle cx="163.4" cy="510.5" r="0.49"/><circle cx="159.0" cy="506.3" r="0.45"/><circle cx="152.0" cy="503.5" r="0.55"/><circle cx="162.0" cy="511.0" r="0.38"/><circle cx="161.5" cy="505.7" r="0.41"/><circle cx="153.0" cy="504.1" r="0.54"/><circle cx="162.5" cy="511.1" r="0.46"/><circle cx="161.9" cy="505.6" r="0.60"/><circle cx="152.1" cy="501.6" r="0.37"/><circle cx="162.2" cy="505.7" r="0.47"/><circle cx="152.4" cy="504.9" r="0.40"/><circle cx="159.5" cy="504.3" r="0.35"/><circle cx="157.9" cy="508.1" r="0.37"/><circle cx="157.8" cy="507.9" r="0.37"/><circle cx="150.6" cy="502.6" r="0.44"/><circle cx="161.3" cy="511.8" r="0.46"/><circle cx="155.9" cy="504.2" r="0.48"/><circle cx="157.2" cy="507.8" r="0.42"/></g>
<g fill="#111"><circle cx="152.9" cy="532.0" r="0.48"/><circle cx="160.0" cy="547.0" r="0.68"/><circle cx="158.7" cy="536.4" r="0.48"/><circle cx="159.9" cy="514.9" r="0.49"/><circle cx="165.6" cy="524.1" r="0.57"/><circle cx="161.6" cy="551.1" r="0.51"/><circle cx="161.1" cy="517.0" r="0.68"/><circle cx="155.1" cy="544.0" r="0.69"/><circle cx="154.7" cy="551.3" r="0.44"/><circle cx="153.9" cy="517.4" r="0.47"/><circle cx="164.8" cy="523.5" r="0.45"/><circle cx="151.7" cy="530.8" r="0.53"/><circle cx="151.7" cy="523.3" r="0.49"/><circle cx="167.0" cy="519.6" r="0.60"/><circle cx="175.8" cy="538.1" r="0.67"/><circle cx="176.0" cy="532.4" r="0.42"/><circle cx="154.1" cy="548.6" r="0.41"/><circle cx="147.9" cy="524.5" r="0.43"/><circle cx="149.5" cy="536.8" r="0.49"/><circle cx="152.6" cy="522.6" r="0.44"/><circle cx="162.4" cy="544.2" r="0.53"/><circle cx="152.0" cy="540.1" r="0.51"/><circle cx="174.5" cy="529.6" r="0.62"/><circle cx="173.1" cy="545.7" r="0.69"/><circle cx="171.3" cy="527.0" r="0.69"/><circle cx="154.6" cy="551.0" r="0.53"/><circle cx="164.8" cy="531.6" r="0.59"/><circle cx="159.5" cy="519.0" r="0.44"/><circle cx="153.9" cy="541.1" r="0.58"/><circle cx="156.7" cy="537.3" r="0.67"/><circle cx="160.2" cy="534.9" r="0.67"/><circle cx="150.5" cy="527.7" r="0.44"/><circle cx="152.2" cy="519.5" r="0.45"/><circle cx="160.6" cy="516.4" r="0.67"/><circle cx="167.2" cy="518.2" r="0.61"/><circle cx="165.8" cy="528.9" r="0.63"/><circle cx="166.9" cy="533.1" r="0.42"/><circle cx="167.0" cy="537.9" r="0.59"/><circle cx="169.5" cy="539.7" r="0.41"/><circle cx="166.3" cy="541.5" r="0.62"/><circle cx="176.4" cy="547.4" r="0.64"/><circle cx="155.7" cy="513.6" r="0.50"/><circle cx="150.0" cy="531.0" r="0.40"/><circle cx="157.5" cy="529.8" r="0.62"/><circle cx="174.6" cy="541.1" r="0.70"/><circle cx="158.5" cy="514.7" r="0.59"/><circle cx="154.3" cy="511.6" r="0.51"/><circle cx="161.4" cy="550.0" r="0.50"/><circle cx="164.9" cy="528.9" r="0.64"/><circle cx="153.2" cy="527.5" r="0.69"/><circle cx="161.3" cy="538.4" r="0.51"/><circle cx="163.1" cy="534.7" r="0.47"/><circle cx="166.5" cy="547.2" r="0.70"/><circle cx="151.6" cy="522.9" r="0.53"/><circle cx="158.4" cy="535.7" r="0.53"/><circle cx="151.5" cy="538.8" r="0.49"/><circle cx="166.1" cy="544.7" r="0.62"/><circle cx="172.3" cy="525.9" r="0.69"/><circle cx="160.8" cy="531.6" r="0.54"/><circle cx="151.3" cy="532.5" r="0.66"/><circle cx="160.8" cy="542.5" r="0.52"/><circle cx="150.8" cy="511.8" r="0.53"/><circle cx="162.4" cy="542.8" r="0.64"/><circle cx="152.3" cy="532.3" r="0.69"/><circle cx="155.3" cy="534.1" r="0.63"/><circle cx="148.2" cy="529.1" r="0.61"/><circle cx="157.6" cy="535.2" r="0.65"/><circle cx="150.8" cy="523.0" r="0.68"/><circle cx="151.4" cy="530.4" r="0.69"/><circle cx="152.3" cy="519.6" r="0.56"/><circle cx="150.2" cy="518.4" r="0.52"/><circle cx="151.8" cy="545.3" r="0.40"/><circle cx="150.4" cy="550.6" r="0.56"/><circle cx="167.9" cy="547.1" r="0.51"/><circle cx="149.2" cy="539.8" r="0.40"/><circle cx="164.4" cy="518.0" r="0.70"/><circle cx="156.9" cy="535.2" r="0.49"/><circle cx="156.6" cy="537.6" r="0.68"/><circle cx="175.0" cy="531.3" r="0.40"/><circle cx="151.0" cy="531.9" r="0.51"/><circle cx="156.0" cy="545.0" r="0.64"/><circle cx="149.8" cy="547.1" r="0.60"/><circle cx="156.1" cy="536.5" r="0.60"/><circle cx="163.2" cy="540.7" r="0.55"/><circle cx="148.5" cy="518.2" r="0.43"/><circle cx="160.7" cy="528.3" r="0.65"/><circle cx="161.1" cy="534.5" r="0.63"/><circle cx="163.3" cy="546.1" r="0.54"/><circle cx="176.6" cy="538.8" r="0.57"/><circle cx="152.4" cy="534.4" r="0.64"/><circle cx="158.8" cy="514.4" r="0.55"/><circle cx="156.4" cy="527.0" r="0.54"/><circle cx="162.2" cy="526.3" r="0.55"/><circle cx="155.0" cy="520.9" r="0.62"/><circle cx="150.5" cy="540.5" r="0.62"/><circle cx="164.6" cy="520.6" r="0.50"/><circle cx="151.4" cy="546.5" r="0.63"/><circle cx="166.2" cy="545.0" r="0.51"/><circle cx="165.9" cy="521.4" r="0.60"/><circle cx="153.7" cy="540.5" r="0.51"/><circle cx="158.4" cy="549.9" r="0.67"/><circle cx="150.6" cy="524.3" r="0.68"/><circle cx="163.2" cy="542.7" r="0.63"/><circle cx="150.8" cy="536.6" r="0.51"/><circle cx="151.5" cy="515.8" r="0.51"/><circle cx="153.1" cy="551.8" r="0.53"/><circle cx="149.7" cy="529.5" r="0.58"/><circle cx="167.5" cy="520.2" r="0.41"/><circle cx="158.7" cy="510.5" r="0.56"/><circle cx="148.9" cy="528.2" r="0.68"/><circle cx="156.2" cy="536.7" r="0.42"/><circle cx="166.0" cy="526.1" r="0.67"/><circle cx="175.0" cy="535.7" r="0.57"/><circle cx="155.7" cy="534.8" r="0.70"/><circle cx="157.4" cy="542.7" r="0.62"/><circle cx="158.2" cy="547.7" r="0.62"/><circle cx="169.7" cy="544.4" r="0.63"/><circle cx="165.5" cy="536.0" r="0.53"/><circle cx="165.1" cy="526.6" r="0.44"/><circle cx="147.7" cy="521.6" r="0.66"/><circle cx="158.5" cy="516.7" r="0.66"/><circle cx="157.6" cy="540.1" r="0.62"/><circle cx="151.3" cy="544.5" r="0.47"/><circle cx="152.0" cy="545.3" r="0.55"/><circle cx="154.6" cy="550.4" r="0.55"/><circle cx="177.4" cy="545.5" r="0.51"/><circle cx="158.0" cy="539.4" r="0.55"/><circle cx="155.8" cy="533.3" r="0.54"/><circle cx="155.5" cy="540.0" r="0.69"/><circle cx="151.3" cy="543.5" r="0.59"/><circle cx="157.7" cy="514.2" r="0.69"/><circle cx="152.6" cy="514.6" r="0.67"/><circle cx="149.6" cy="542.4" r="0.45"/><circle cx="161.3" cy="529.3" r="0.63"/><circle cx="160.5" cy="522.6" r="0.51"/><circle cx="169.3" cy="530.7" r="0.58"/><circle cx="156.0" cy="521.1" r="0.57"/><circle cx="164.6" cy="543.0" r="0.62"/><circle cx="151.3" cy="537.4" r="0.49"/><circle cx="165.0" cy="522.4" r="0.60"/><circle cx="151.9" cy="549.6" r="0.51"/><circle cx="153.9" cy="544.4" r="0.63"/><circle cx="150.1" cy="552.1" r="0.55"/><circle cx="160.1" cy="527.8" r="0.59"/><circle cx="169.2" cy="525.7" r="0.70"/><circle cx="149.4" cy="532.3" r="0.48"/><circle cx="161.5" cy="525.1" r="0.40"/><circle cx="153.0" cy="550.4" r="0.67"/><circle cx="166.0" cy="528.3" r="0.56"/><circle cx="158.0" cy="531.2" r="0.59"/><circle cx="148.9" cy="516.8" r="0.65"/><circle cx="174.4" cy="548.2" r="0.67"/><circle cx="149.3" cy="538.7" r="0.52"/><circle cx="157.6" cy="512.9" r="0.70"/><circle cx="148.5" cy="530.9" r="0.52"/><circle cx="172.8" cy="536.9" r="0.62"/><circle cx="162.6" cy="520.0" r="0.65"/><circle cx="153.4" cy="545.1" r="0.51"/><circle cx="167.9" cy="538.1" r="0.53"/><circle cx="150.5" cy="524.4" r="0.51"/><circle cx="172.2" cy="523.0" r="0.50"/><circle cx="159.2" cy="542.7" r="0.52"/><circle cx="160.6" cy="543.1" r="0.65"/><circle cx="154.3" cy="543.7" r="0.42"/><circle cx="173.4" cy="531.0" r="0.70"/><circle cx="156.1" cy="538.6" r="0.64"/><circle cx="153.9" cy="523.4" r="0.57"/><circle cx="150.4" cy="525.0" r="0.59"/><circle cx="151.1" cy="542.3" r="0.49"/><circle cx="150.4" cy="520.8" r="0.63"/><circle cx="156.9" cy="542.2" r="0.66"/><circle cx="158.6" cy="523.8" r="0.51"/><circle cx="162.1" cy="548.6" r="0.55"/><circle cx="156.5" cy="519.1" r="0.47"/><circle cx="159.9" cy="515.1" r="0.48"/><circle cx="155.8" cy="534.9" r="0.66"/><circle cx="157.7" cy="532.6" r="0.59"/><circle cx="155.3" cy="533.0" r="0.53"/><circle cx="159.3" cy="531.4" r="0.59"/><circle cx="153.7" cy="536.9" r="0.46"/><circle cx="156.6" cy="515.1" r="0.40"/><circle cx="150.4" cy="536.8" r="0.51"/><circle cx="151.4" cy="519.4" r="0.57"/><circle cx="163.5" cy="550.1" r="0.46"/><circle cx="160.9" cy="551.2" r="0.56"/><circle cx="151.1" cy="546.5" r="0.50"/><circle cx="173.2" cy="535.8" r="0.48"/><circle cx="160.5" cy="544.5" r="0.62"/><circle cx="156.5" cy="511.8" r="0.51"/><circle cx="152.1" cy="548.6" r="0.62"/><circle cx="161.5" cy="550.7" r="0.62"/><circle cx="150.7" cy="551.0" r="0.51"/><circle cx="152.1" cy="532.0" r="0.41"/><circle cx="151.6" cy="547.7" r="0.65"/><circle cx="156.3" cy="520.3" r="0.57"/><circle cx="158.5" cy="523.5" r="0.57"/><circle cx="157.6" cy="541.4" r="0.61"/><circle cx="152.9" cy="524.8" r="0.56"/><circle cx="151.1" cy="519.0" r="0.67"/><circle cx="161.9" cy="528.1" r="0.40"/><circle cx="166.6" cy="525.6" r="0.69"/><circle cx="167.7" cy="525.8" r="0.58"/><circle cx="163.3" cy="523.9" r="0.52"/><circle cx="155.9" cy="540.0" r="0.67"/><circle cx="163.4" cy="526.7" r="0.67"/><circle cx="172.0" cy="529.7" r="0.58"/><circle cx="149.1" cy="541.5" r="0.40"/><circle cx="167.6" cy="528.1" r="0.59"/><circle cx="179.5" cy="541.4" r="0.52"/><circle cx="155.0" cy="524.7" r="0.57"/><circle cx="153.4" cy="541.0" r="0.65"/><circle cx="158.5" cy="536.1" r="0.44"/><circle cx="161.4" cy="536.8" r="0.65"/><circle cx="159.0" cy="511.5" r="0.49"/><circle cx="166.6" cy="517.4" r="0.48"/><circle cx="155.9" cy="535.2" r="0.41"/><circle cx="152.8" cy="518.3" r="0.43"/><circle cx="154.5" cy="524.3" r="0.48"/><circle cx="161.9" cy="549.6" r="0.56"/><circle cx="160.3" cy="521.7" r="0.68"/><circle cx="154.2" cy="517.6" r="0.45"/><circle cx="170.9" cy="533.4" r="0.49"/><circle cx="171.9" cy="528.6" r="0.51"/><circle cx="166.3" cy="524.1" r="0.59"/><circle cx="157.2" cy="522.0" r="0.51"/><circle cx="178.0" cy="538.1" r="0.60"/><circle cx="148.6" cy="517.1" r="0.45"/><circle cx="173.4" cy="524.7" r="0.41"/><circle cx="157.4" cy="514.3" r="0.57"/><circle cx="169.5" cy="539.3" r="0.62"/><circle cx="159.2" cy="518.0" r="0.44"/><circle cx="152.8" cy="537.1" r="0.41"/><circle cx="150.9" cy="517.5" r="0.60"/><circle cx="165.0" cy="530.5" r="0.42"/><circle cx="152.0" cy="535.9" r="0.68"/><circle cx="151.5" cy="522.7" r="0.61"/><circle cx="152.4" cy="538.3" r="0.45"/><circle cx="151.7" cy="517.1" r="0.52"/><circle cx="151.4" cy="526.6" r="0.42"/><circle cx="150.1" cy="524.2" r="0.43"/><circle cx="158.3" cy="527.5" r="0.51"/><circle cx="150.5" cy="540.3" r="0.66"/><circle cx="152.1" cy="542.7" r="0.67"/><circle cx="160.0" cy="524.8" r="0.63"/><circle cx="158.9" cy="523.8" r="0.59"/><circle cx="156.6" cy="548.1" r="0.58"/><circle cx="157.7" cy="513.6" r="0.55"/><circle cx="150.1" cy="549.6" r="0.60"/><circle cx="151.9" cy="538.9" r="0.55"/><circle cx="155.3" cy="543.5" r="0.52"/><circle cx="165.6" cy="543.1" r="0.65"/><circle cx="160.9" cy="530.6" r="0.49"/><circle cx="157.6" cy="541.5" r="0.52"/><circle cx="152.2" cy="524.5" r="0.60"/><circle cx="181.8" cy="537.9" r="0.69"/><circle cx="151.3" cy="513.3" r="0.50"/><circle cx="158.3" cy="521.2" r="0.53"/><circle cx="149.7" cy="549.1" r="0.52"/><circle cx="166.6" cy="529.1" r="0.46"/><circle cx="149.6" cy="515.3" r="0.51"/><circle cx="154.8" cy="519.5" r="0.64"/><circle cx="156.6" cy="512.4" r="0.46"/><circle cx="157.5" cy="539.0" r="0.54"/><circle cx="163.2" cy="522.3" r="0.49"/><circle cx="163.3" cy="536.5" r="0.57"/><circle cx="175.6" cy="531.0" r="0.63"/><circle cx="159.4" cy="525.0" r="0.43"/><circle cx="150.9" cy="546.3" r="0.55"/><circle cx="167.6" cy="545.5" r="0.46"/><circle cx="165.7" cy="551.1" r="0.59"/><circle cx="156.2" cy="534.1" r="0.60"/><circle cx="161.6" cy="550.6" r="0.47"/><circle cx="159.9" cy="535.0" r="0.47"/><circle cx="171.8" cy="538.1" r="0.49"/><circle cx="171.4" cy="525.0" r="0.50"/><circle cx="165.6" cy="521.8" r="0.67"/><circle cx="165.8" cy="534.7" r="0.66"/><circle cx="153.5" cy="527.7" r="0.64"/><circle cx="150.2" cy="540.7" r="0.52"/><circle cx="168.0" cy="525.7" r="0.54"/><circle cx="162.1" cy="520.2" r="0.46"/><circle cx="149.6" cy="539.9" r="0.54"/><circle cx="158.4" cy="523.6" r="0.69"/><circle cx="152.7" cy="527.3" r="0.43"/><circle cx="158.3" cy="544.2" r="0.52"/><circle cx="150.6" cy="537.0" r="0.46"/><circle cx="151.5" cy="536.3" r="0.65"/><circle cx="168.3" cy="528.2" r="0.49"/><circle cx="154.8" cy="537.1" r="0.55"/><circle cx="160.7" cy="550.4" r="0.42"/><circle cx="169.8" cy="547.3" r="0.61"/><circle cx="149.3" cy="523.2" r="0.55"/><circle cx="165.4" cy="537.2" r="0.64"/><circle cx="159.5" cy="536.7" r="0.62"/><circle cx="156.2" cy="543.5" r="0.62"/><circle cx="150.8" cy="543.5" r="0.48"/><circle cx="165.3" cy="528.1" r="0.48"/><circle cx="152.0" cy="511.5" r="0.58"/><circle cx="170.6" cy="537.1" r="0.41"/><circle cx="156.3" cy="549.6" r="0.68"/><circle cx="178.6" cy="545.0" r="0.62"/><circle cx="150.2" cy="546.2" r="0.55"/><circle cx="151.2" cy="524.0" r="0.51"/><circle cx="149.1" cy="528.7" r="0.42"/><circle cx="171.6" cy="548.2" r="0.57"/><circle cx="161.3" cy="534.4" r="0.63"/><circle cx="150.4" cy="523.4" r="0.44"/><circle cx="172.6" cy="536.5" r="0.43"/><circle cx="155.0" cy="534.3" r="0.61"/><circle cx="169.1" cy="550.1" r="0.54"/><circle cx="156.2" cy="531.9" r="0.64"/><circle cx="157.6" cy="533.2" r="0.52"/><circle cx="167.5" cy="543.8" r="0.69"/><circle cx="150.9" cy="519.6" r="0.66"/><circle cx="156.1" cy="526.4" r="0.50"/><circle cx="155.5" cy="523.9" r="0.56"/><circle cx="159.6" cy="523.9" r="0.58"/><circle cx="175.7" cy="548.3" r="0.54"/><circle cx="164.5" cy="534.1" r="0.65"/><circle cx="158.2" cy="536.6" r="0.61"/><circle cx="169.0" cy="536.7" r="0.65"/><circle cx="149.7" cy="543.1" r="0.48"/><circle cx="167.1" cy="539.0" r="0.55"/><circle cx="153.5" cy="515.8" r="0.56"/><circle cx="165.7" cy="517.3" r="0.58"/><circle cx="152.1" cy="513.3" r="0.40"/><circle cx="178.0" cy="538.2" r="0.64"/><circle cx="154.7" cy="535.4" r="0.53"/><circle cx="147.9" cy="514.0" r="0.45"/><circle cx="167.6" cy="532.8" r="0.66"/><circle cx="166.9" cy="528.9" r="0.57"/><circle cx="162.6" cy="525.4" r="0.62"/><circle cx="163.5" cy="532.9" r="0.62"/><circle cx="150.7" cy="530.8" r="0.59"/><circle cx="153.0" cy="529.1" r="0.67"/><circle cx="164.5" cy="532.8" r="0.42"/><circle cx="156.8" cy="525.1" r="0.50"/><circle cx="154.2" cy="525.9" r="0.45"/><circle cx="160.5" cy="551.5" r="0.59"/><circle cx="165.7" cy="535.0" r="0.47"/><circle cx="156.9" cy="549.5" r="0.41"/><circle cx="156.6" cy="548.4" r="0.44"/><circle cx="151.0" cy="519.0" r="0.45"/><circle cx="149.6" cy="527.8" r="0.56"/><circle cx="171.9" cy="544.1" r="0.54"/><circle cx="163.7" cy="521.1" r="0.54"/><circle cx="152.7" cy="547.6" r="0.40"/><circle cx="163.8" cy="530.1" r="0.56"/><circle cx="156.2" cy="549.6" r="0.48"/><circle cx="180.4" cy="535.6" r="0.43"/><circle cx="155.4" cy="515.9" r="0.42"/><circle cx="167.4" cy="529.8" r="0.45"/><circle cx="151.9" cy="540.9" r="0.52"/><circle cx="149.4" cy="526.7" r="0.45"/><circle cx="178.1" cy="529.4" r="0.54"/><circle cx="150.3" cy="542.3" r="0.45"/><circle cx="148.7" cy="513.7" r="0.62"/><circle cx="160.6" cy="551.8" r="0.66"/><circle cx="165.1" cy="533.2" r="0.50"/><circle cx="167.3" cy="529.2" r="0.42"/><circle cx="176.1" cy="539.7" r="0.69"/><circle cx="150.7" cy="512.3" r="0.43"/><circle cx="151.4" cy="544.1" r="0.59"/><circle cx="154.6" cy="515.6" r="0.63"/><circle cx="168.8" cy="546.9" r="0.54"/><circle cx="150.9" cy="544.1" r="0.67"/><circle cx="166.7" cy="536.2" r="0.44"/><circle cx="154.8" cy="538.1" r="0.62"/><circle cx="150.7" cy="520.8" r="0.67"/><circle cx="167.4" cy="523.8" r="0.67"/><circle cx="157.1" cy="521.0" r="0.65"/><circle cx="164.5" cy="525.3" r="0.53"/><circle cx="149.5" cy="537.2" r="0.55"/><circle cx="162.4" cy="539.4" r="0.65"/><circle cx="159.8" cy="543.8" r="0.51"/><circle cx="154.6" cy="521.0" r="0.48"/><circle cx="166.4" cy="549.5" r="0.41"/><circle cx="165.1" cy="522.1" r="0.46"/><circle cx="179.8" cy="531.0" r="0.44"/><circle cx="159.4" cy="518.5" r="0.68"/><circle cx="148.3" cy="529.4" r="0.49"/><circle cx="151.4" cy="548.9" r="0.51"/><circle cx="150.1" cy="529.9" r="0.69"/><circle cx="149.2" cy="534.0" r="0.61"/><circle cx="168.6" cy="547.7" r="0.53"/><circle cx="167.2" cy="517.8" r="0.43"/><circle cx="152.2" cy="529.9" r="0.51"/><circle cx="171.8" cy="529.8" r="0.49"/><circle cx="161.7" cy="540.7" r="0.68"/><circle cx="152.5" cy="530.8" r="0.53"/><circle cx="149.3" cy="521.7" r="0.69"/><circle cx="156.3" cy="543.2" r="0.48"/><circle cx="150.0" cy="530.9" r="0.41"/><circle cx="170.3" cy="532.4" r="0.67"/><circle cx="157.8" cy="546.6" r="0.42"/><circle cx="164.9" cy="540.5" r="0.64"/><circle cx="160.4" cy="533.7" r="0.58"/><circle cx="161.4" cy="525.5" r="0.49"/><circle cx="166.1" cy="547.8" r="0.65"/><circle cx="159.5" cy="539.5" r="0.53"/><circle cx="164.4" cy="521.1" r="0.70"/><circle cx="156.7" cy="532.1" r="0.57"/><circle cx="159.6" cy="513.2" r="0.68"/><circle cx="156.7" cy="550.1" r="0.68"/><circle cx="176.6" cy="546.8" r="0.51"/><circle cx="161.9" cy="536.2" r="0.61"/><circle cx="169.7" cy="538.2" r="0.62"/><circle cx="149.7" cy="548.6" r="0.60"/><circle cx="153.8" cy="537.3" r="0.41"/><circle cx="166.6" cy="541.8" r="0.61"/><circle cx="153.2" cy="524.5" r="0.63"/><circle cx="149.2" cy="524.1" r="0.46"/><circle cx="160.6" cy="546.8" r="0.43"/><circle cx="165.4" cy="530.6" r="0.42"/><circle cx="152.1" cy="531.8" r="0.56"/><circle cx="151.8" cy="548.0" r="0.43"/><circle cx="156.1" cy="528.1" r="0.65"/><circle cx="162.2" cy="528.0" r="0.52"/><circle cx="153.7" cy="515.7" r="0.70"/><circle cx="159.3" cy="541.0" r="0.62"/><circle cx="157.5" cy="528.6" r="0.53"/><circle cx="161.4" cy="540.4" r="0.45"/><circle cx="169.8" cy="528.5" r="0.53"/><circle cx="150.9" cy="516.3" r="0.58"/><circle cx="153.4" cy="538.5" r="0.66"/><circle cx="155.6" cy="517.9" r="0.67"/><circle cx="170.9" cy="534.9" r="0.50"/><circle cx="168.3" cy="538.2" r="0.41"/><circle cx="150.2" cy="525.7" r="0.60"/><circle cx="160.1" cy="537.5" r="0.61"/><circle cx="160.0" cy="532.1" r="0.59"/><circle cx="154.3" cy="515.5" r="0.64"/><circle cx="151.5" cy="552.0" r="0.64"/><circle cx="168.6" cy="536.6" r="0.59"/><circle cx="161.9" cy="516.3" r="0.65"/><circle cx="167.1" cy="547.7" r="0.44"/><circle cx="154.3" cy="537.9" r="0.68"/><circle cx="158.4" cy="513.4" r="0.60"/><circle cx="165.3" cy="545.2" r="0.43"/><circle cx="153.5" cy="523.1" r="0.45"/><circle cx="155.1" cy="537.3" r="0.59"/><circle cx="149.9" cy="540.5" r="0.49"/><circle cx="150.9" cy="530.3" r="0.68"/><circle cx="160.7" cy="534.0" r="0.48"/><circle cx="168.1" cy="533.8" r="0.55"/><circle cx="152.7" cy="534.3" r="0.55"/><circle cx="147.8" cy="517.1" r="0.68"/><circle cx="170.1" cy="532.5" r="0.49"/><circle cx="176.2" cy="530.5" r="0.67"/><circle cx="161.2" cy="513.2" r="0.62"/><circle cx="154.7" cy="540.2" r="0.57"/><circle cx="150.4" cy="546.2" r="0.68"/><circle cx="151.7" cy="542.4" r="0.67"/><circle cx="161.4" cy="535.6" r="0.62"/><circle cx="150.9" cy="539.8" r="0.56"/><circle cx="150.4" cy="514.0" r="0.41"/><circle cx="158.7" cy="532.1" r="0.47"/><circle cx="160.7" cy="528.0" r="0.60"/><circle cx="163.9" cy="540.4" r="0.44"/><circle cx="170.2" cy="531.2" r="0.59"/><circle cx="166.1" cy="551.2" r="0.50"/><circle cx="149.2" cy="518.8" r="0.52"/><circle cx="176.8" cy="532.2" r="0.65"/><circle cx="156.5" cy="532.0" r="0.65"/><circle cx="157.7" cy="548.9" r="0.62"/><circle cx="155.2" cy="535.7" r="0.53"/><circle cx="165.2" cy="537.9" r="0.56"/><circle cx="153.4" cy="518.0" r="0.70"/><circle cx="161.6" cy="522.2" r="0.68"/><circle cx="165.6" cy="538.7" r="0.58"/><circle cx="159.8" cy="550.9" r="0.42"/><circle cx="152.6" cy="542.3" r="0.67"/><circle cx="151.3" cy="525.4" r="0.41"/><circle cx="153.0" cy="549.4" r="0.44"/><circle cx="166.8" cy="532.7" r="0.60"/><circle cx="158.2" cy="519.5" r="0.46"/><circle cx="167.1" cy="545.6" r="0.63"/><circle cx="155.3" cy="539.9" r="0.61"/><circle cx="172.3" cy="535.1" r="0.45"/><circle cx="157.5" cy="542.3" r="0.67"/><circle cx="158.5" cy="530.5" r="0.70"/><circle cx="156.1" cy="518.9" r="0.60"/><circle cx="179.7" cy="537.1" r="0.69"/><circle cx="157.1" cy="549.1" r="0.64"/><circle cx="149.5" cy="545.2" r="0.54"/><circle cx="164.8" cy="519.3" r="0.65"/><circle cx="162.5" cy="551.7" r="0.68"/><circle cx="155.9" cy="545.4" r="0.61"/><circle cx="156.0" cy="550.1" r="0.43"/><circle cx="162.8" cy="550.9" r="0.51"/><circle cx="150.7" cy="545.4" r="0.61"/><circle cx="149.7" cy="545.8" r="0.51"/><circle cx="167.3" cy="539.7" r="0.45"/><circle cx="151.5" cy="524.0" r="0.54"/><circle cx="155.4" cy="530.4" r="0.44"/><circle cx="148.6" cy="529.3" r="0.54"/><circle cx="173.2" cy="544.2" r="0.43"/><circle cx="156.1" cy="551.1" r="0.62"/><circle cx="161.8" cy="523.6" r="0.46"/><circle cx="160.9" cy="529.6" r="0.68"/><circle cx="167.6" cy="548.3" r="0.43"/><circle cx="156.6" cy="517.9" r="0.59"/><circle cx="151.4" cy="525.5" r="0.59"/><circle cx="149.3" cy="520.7" r="0.46"/><circle cx="147.5" cy="520.9" r="0.59"/><circle cx="151.3" cy="524.2" r="0.56"/><circle cx="151.3" cy="514.4" r="0.58"/><circle cx="157.5" cy="545.3" r="0.46"/><circle cx="154.7" cy="549.4" r="0.54"/><circle cx="148.6" cy="514.1" r="0.65"/><circle cx="152.1" cy="538.6" r="0.59"/><circle cx="155.1" cy="530.5" r="0.47"/><circle cx="165.7" cy="521.9" r="0.50"/><circle cx="154.3" cy="531.9" r="0.66"/><circle cx="174.4" cy="539.2" r="0.42"/><circle cx="156.1" cy="523.5" r="0.54"/><circle cx="161.5" cy="525.1" r="0.55"/><circle cx="159.9" cy="510.3" r="0.53"/><circle cx="158.9" cy="517.6" r="0.40"/><circle cx="151.6" cy="538.1" r="0.43"/><circle cx="155.6" cy="539.5" r="0.65"/><circle cx="173.4" cy="547.8" r="0.54"/><circle cx="156.2" cy="539.9" r="0.49"/><circle cx="148.8" cy="522.2" r="0.54"/><circle cx="155.4" cy="511.7" r="0.42"/><circle cx="149.8" cy="518.1" r="0.42"/><circle cx="151.9" cy="526.4" r="0.65"/><circle cx="150.5" cy="543.9" r="0.63"/><circle cx="148.5" cy="514.3" r="0.46"/><circle cx="164.7" cy="542.8" r="0.50"/><circle cx="172.2" cy="539.4" r="0.42"/><circle cx="159.6" cy="532.3" r="0.50"/><circle cx="173.9" cy="531.1" r="0.56"/><circle cx="166.2" cy="527.8" r="0.63"/><circle cx="160.8" cy="519.5" r="0.55"/><circle cx="168.3" cy="538.1" r="0.65"/><circle cx="151.0" cy="534.5" r="0.70"/><circle cx="166.9" cy="542.4" r="0.57"/><circle cx="153.6" cy="513.9" r="0.41"/><circle cx="172.4" cy="538.7" r="0.44"/><circle cx="168.9" cy="533.0" r="0.60"/><circle cx="149.7" cy="531.9" r="0.44"/><circle cx="151.1" cy="548.4" r="0.67"/><circle cx="159.0" cy="519.0" r="0.42"/><circle cx="154.7" cy="528.0" r="0.42"/><circle cx="161.9" cy="538.3" r="0.70"/><circle cx="151.6" cy="544.8" r="0.52"/><circle cx="157.5" cy="532.6" r="0.57"/><circle cx="148.1" cy="514.8" r="0.58"/><circle cx="161.2" cy="514.0" r="0.44"/><circle cx="148.7" cy="517.7" r="0.50"/><circle cx="150.9" cy="533.2" r="0.51"/><circle cx="156.0" cy="528.8" r="0.62"/><circle cx="160.3" cy="534.3" r="0.63"/><circle cx="153.7" cy="517.5" r="0.61"/><circle cx="162.7" cy="546.8" r="0.45"/><circle cx="152.2" cy="513.6" r="0.54"/><circle cx="168.2" cy="539.6" r="0.67"/><circle cx="163.4" cy="515.4" r="0.45"/><circle cx="159.7" cy="547.6" r="0.50"/><circle cx="171.9" cy="529.3" r="0.58"/><circle cx="158.9" cy="528.1" r="0.70"/><circle cx="165.4" cy="534.2" r="0.41"/><circle cx="153.3" cy="552.2" r="0.61"/><circle cx="151.7" cy="528.7" r="0.54"/><circle cx="168.2" cy="519.8" r="0.56"/><circle cx="169.3" cy="549.8" r="0.65"/><circle cx="159.3" cy="532.5" r="0.43"/><circle cx="151.1" cy="519.7" r="0.58"/><circle cx="148.5" cy="518.3" r="0.50"/><circle cx="156.3" cy="544.0" r="0.63"/><circle cx="150.6" cy="539.0" r="0.61"/><circle cx="181.1" cy="544.7" r="0.52"/><circle cx="163.9" cy="519.4" r="0.45"/><circle cx="155.5" cy="541.6" r="0.63"/><circle cx="151.6" cy="522.3" r="0.61"/><circle cx="154.2" cy="520.9" r="0.57"/><circle cx="170.4" cy="550.8" r="0.62"/><circle cx="150.6" cy="549.6" r="0.68"/><circle cx="173.1" cy="535.6" r="0.47"/><circle cx="149.8" cy="542.0" r="0.61"/><circle cx="151.4" cy="534.0" r="0.64"/><circle cx="156.2" cy="547.7" r="0.48"/><circle cx="162.8" cy="528.6" r="0.67"/><circle cx="173.6" cy="546.3" r="0.49"/><circle cx="156.6" cy="526.2" r="0.69"/><circle cx="165.5" cy="522.7" r="0.57"/><circle cx="160.9" cy="546.9" r="0.69"/><circle cx="166.4" cy="532.5" r="0.67"/><circle cx="170.9" cy="549.4" r="0.63"/><circle cx="159.0" cy="536.1" r="0.51"/><circle cx="159.9" cy="532.6" r="0.54"/><circle cx="157.0" cy="526.9" r="0.58"/><circle cx="152.4" cy="552.1" r="0.64"/><circle cx="172.6" cy="527.7" r="0.52"/><circle cx="160.5" cy="534.6" r="0.67"/><circle cx="148.0" cy="520.6" r="0.47"/><circle cx="164.0" cy="521.6" r="0.56"/><circle cx="164.4" cy="526.0" r="0.44"/><circle cx="171.2" cy="537.0" r="0.45"/></g>
<defs><linearGradient id="g2" x1="0" x2="1" y1="0" y2="0"><stop offset="0" stop-color="#7a7a7a"/><stop offset="0.35" stop-color="#c8c8c8"/><stop offset="0.7" stop-color="#e2e2e2"/><stop offset="1" stop-color="#b0b0b0"/></linearGradient></defs>
<path d="M143.6 505.0 L145.8 503.2 L149.0 504.6 L152.0 506.3 L154.8 509.3 L156.7 512.6 L156.2 517.4 L152.6 525.6 L149.2 535.3 L147.2 544.9 L145.8 554.3 L144.0 554.3 L143.5 540.0 L143.3 520.0Z" fill="url(#g2)"/>
<g fill="none" stroke="#8d8d8d" stroke-width="0.35"><path d="M144.6 507 C150 510 154 513 155.5 516 C152 522 148 530 146.2 551"/><path d="M145.3 508 C149 511 152 514 153.6 516.5 C150 523 147 532 145.6 550"/><path d="M145.8 510 C148 512 150 514 151.5 517 C149 524 146.6 534 145.2 549"/></g>
<rect x="141.3" y="531.3" width="47.6" height="23.9" fill="none" stroke="#444" stroke-width="0.8"/>
<text x="162.40" y="562.30" font-size="5.2" text-anchor="middle" textLength="42.00" lengthAdjust="spacingAndGlyphs">Comp-APC-A, Comp-pacific</text>
<text x="162.60" y="566.60" font-size="5.2" text-anchor="middle" textLength="28.80" lengthAdjust="spacingAndGlyphs">Blue-A subset 31.5</text>
<line x1="189.60" y1="546.20" x2="206.60" y2="546.20" stroke="#231f20" stroke-width="1.2"/>
<path d="M212.10 546.20 L206.10 548.60 L206.10 543.80 Z" fill="#231f20"/>
<path d="M219.2 492.7 H284.2 V571.2" fill="none" stroke="#8a8a8a" stroke-width="0.9"/>
<path d="M219.2 492.7 V571.2 H284.2" fill="none" stroke="#8a8a8a" stroke-width="0.9"/>
<line x1="217.60" y1="499.40" x2="219.20" y2="499.40" stroke="#231f20" stroke-width="0.9"/>
<text x="217.20" y="501.60" font-size="6.5" text-anchor="end">10<tspan font-size="4.3" dy="-2.4">5</tspan></text>
<line x1="217.60" y1="518.70" x2="219.20" y2="518.70" stroke="#231f20" stroke-width="0.9"/>
<text x="217.20" y="520.90" font-size="6.5" text-anchor="end">10<tspan font-size="4.3" dy="-2.4">4</tspan></text>
<line x1="217.60" y1="540.20" x2="219.20" y2="540.20" stroke="#231f20" stroke-width="0.9"/>
<text x="217.20" y="542.40" font-size="6.5" text-anchor="end">10<tspan font-size="4.3" dy="-2.4">3</tspan></text>
<line x1="217.60" y1="552.70" x2="219.20" y2="552.70" stroke="#231f20" stroke-width="0.9"/>
<text x="217.20" y="554.90" font-size="6.0" text-anchor="end" textLength="3.67" lengthAdjust="spacingAndGlyphs">0</text>
<line x1="217.60" y1="566.70" x2="219.20" y2="566.70" stroke="#231f20" stroke-width="0.9"/>
<text x="217.20" y="568.90" font-size="6.5" text-anchor="end">−10<tspan font-size="4.3" dy="-2.4">3</tspan></text>
<text x="224.20" y="579.80" font-size="6.3" text-anchor="middle">−10<tspan font-size="4.3" dy="-2.4">3</tspan></text>
<text x="234.60" y="579.80" font-size="6.3" text-anchor="middle">0</text>
<text x="244.80" y="579.80" font-size="6.3" text-anchor="middle">10<tspan font-size="4.3" dy="-2.4">3</tspan></text>
<text x="263.00" y="579.80" font-size="6.3" text-anchor="middle">10<tspan font-size="4.3" dy="-2.4">4</tspan></text>
<text x="278.50" y="579.80" font-size="6.3" text-anchor="middle">10<tspan font-size="4.3" dy="-2.4">5</tspan></text>
<text x="243.80" y="590.40" font-size="9.2" font-weight="bold" textLength="13.50" lengthAdjust="spacingAndGlyphs">cKIT</text>
<text x="206.30" y="539.80" font-size="9.0" font-weight="bold" textLength="14.40" lengthAdjust="spacingAndGlyphs" transform="rotate(-90 206.30 539.80)">SCA1</text>
<text x="267.90" y="500.40" font-size="7.0" textLength="14.00" lengthAdjust="spacingAndGlyphs">LSK</text>
<path d="M231.9 515.6 L235.5 515.2 L236.4 520.0 L236.6 535.0 L237.5 546.0 L250.0 546.4 L262.0 546.8 L267.5 548.0 L269.5 551.0 L267.5 555.8 L231.9 556.0Z" fill="#111"/>
<g fill="#111"><circle cx="240.8" cy="542.0" r="0.65"/><circle cx="238.6" cy="543.4" r="0.69"/><circle cx="250.4" cy="533.8" r="0.55"/><circle cx="247.6" cy="532.8" r="0.61"/><circle cx="249.0" cy="532.5" r="0.63"/><circle cx="241.6" cy="542.9" r="0.52"/><circle cx="257.5" cy="543.2" r="0.59"/><circle cx="246.7" cy="536.8" r="0.67"/><circle cx="251.8" cy="540.0" r="0.68"/><circle cx="237.4" cy="540.7" r="0.58"/><circle cx="243.2" cy="538.7" r="0.52"/><circle cx="241.2" cy="536.0" r="0.67"/><circle cx="237.9" cy="546.1" r="0.55"/><circle cx="252.7" cy="543.8" r="0.50"/><circle cx="236.5" cy="535.4" r="0.79"/><circle cx="244.4" cy="531.5" r="0.72"/><circle cx="247.4" cy="544.5" r="0.78"/><circle cx="248.2" cy="536.4" r="0.60"/><circle cx="248.8" cy="545.5" r="0.73"/><circle cx="251.9" cy="528.6" r="0.76"/><circle cx="243.0" cy="535.3" r="0.69"/><circle cx="244.9" cy="538.6" r="0.51"/><circle cx="241.7" cy="536.2" r="0.58"/><circle cx="249.6" cy="539.3" r="0.61"/><circle cx="249.7" cy="545.3" r="0.63"/><circle cx="251.8" cy="537.6" r="0.67"/><circle cx="239.5" cy="533.5" r="0.56"/><circle cx="237.9" cy="537.6" r="0.57"/><circle cx="245.2" cy="541.4" r="0.51"/><circle cx="249.2" cy="538.8" r="0.62"/><circle cx="247.1" cy="534.8" r="0.54"/><circle cx="240.3" cy="526.0" r="0.57"/><circle cx="236.5" cy="542.7" r="0.51"/><circle cx="255.4" cy="532.4" r="0.75"/><circle cx="255.4" cy="544.7" r="0.57"/><circle cx="256.4" cy="539.6" r="0.65"/><circle cx="248.2" cy="533.5" r="0.67"/><circle cx="242.7" cy="538.2" r="0.51"/><circle cx="243.5" cy="538.2" r="0.66"/><circle cx="248.3" cy="531.9" r="0.74"/><circle cx="249.8" cy="542.9" r="0.57"/><circle cx="240.0" cy="539.6" r="0.69"/><circle cx="240.0" cy="537.0" r="0.72"/><circle cx="244.4" cy="542.7" r="0.67"/><circle cx="250.2" cy="541.5" r="0.61"/><circle cx="244.3" cy="534.9" r="0.65"/><circle cx="239.7" cy="532.8" r="0.70"/><circle cx="238.8" cy="537.4" r="0.63"/><circle cx="236.6" cy="517.9" r="0.72"/><circle cx="240.3" cy="532.0" r="0.72"/><circle cx="253.7" cy="545.2" r="0.73"/><circle cx="235.7" cy="528.1" r="0.63"/><circle cx="235.9" cy="537.8" r="0.54"/><circle cx="239.9" cy="531.2" r="0.55"/><circle cx="243.1" cy="545.5" r="0.59"/><circle cx="240.3" cy="533.6" r="0.67"/><circle cx="256.7" cy="544.5" r="0.52"/><circle cx="236.7" cy="531.7" r="0.59"/><circle cx="245.3" cy="536.8" r="0.54"/><circle cx="245.2" cy="544.1" r="0.66"/><circle cx="239.2" cy="533.7" r="0.56"/><circle cx="254.8" cy="535.6" r="0.75"/><circle cx="236.6" cy="541.0" r="0.52"/><circle cx="238.1" cy="521.4" r="0.61"/><circle cx="249.1" cy="539.4" r="0.72"/><circle cx="244.9" cy="542.9" r="0.75"/><circle cx="248.2" cy="544.0" r="0.62"/><circle cx="238.9" cy="520.0" r="0.78"/><circle cx="241.9" cy="532.8" r="0.76"/><circle cx="242.8" cy="542.9" r="0.67"/><circle cx="242.8" cy="541.7" r="0.60"/><circle cx="243.2" cy="528.9" r="0.56"/><circle cx="241.1" cy="523.3" r="0.71"/><circle cx="236.5" cy="527.7" r="0.52"/><circle cx="239.1" cy="538.9" r="0.69"/><circle cx="239.4" cy="532.1" r="0.57"/><circle cx="236.8" cy="527.5" r="0.56"/><circle cx="257.3" cy="543.5" r="0.68"/><circle cx="244.7" cy="543.3" r="0.62"/><circle cx="237.1" cy="530.6" r="0.52"/><circle cx="247.2" cy="534.7" r="0.54"/><circle cx="252.3" cy="532.9" r="0.74"/><circle cx="256.2" cy="534.0" r="0.62"/><circle cx="236.9" cy="530.7" r="0.73"/><circle cx="236.1" cy="532.8" r="0.69"/><circle cx="246.2" cy="533.2" r="0.50"/><circle cx="251.9" cy="542.8" r="0.60"/><circle cx="247.6" cy="545.5" r="0.68"/><circle cx="250.5" cy="544.3" r="0.57"/><circle cx="240.9" cy="522.4" r="0.54"/><circle cx="238.8" cy="544.0" r="0.80"/><circle cx="250.9" cy="531.2" r="0.60"/><circle cx="243.6" cy="542.9" r="0.70"/><circle cx="252.4" cy="533.4" r="0.63"/><circle cx="243.8" cy="538.5" r="0.80"/><circle cx="236.4" cy="545.1" r="0.57"/><circle cx="238.5" cy="533.4" r="0.51"/><circle cx="248.8" cy="523.2" r="0.69"/><circle cx="252.8" cy="543.6" r="0.71"/><circle cx="247.8" cy="543.9" r="0.75"/><circle cx="247.3" cy="535.4" r="0.53"/><circle cx="241.8" cy="543.2" r="0.55"/><circle cx="242.6" cy="536.8" r="0.64"/><circle cx="238.8" cy="526.7" r="0.58"/><circle cx="249.5" cy="546.1" r="0.54"/><circle cx="240.5" cy="529.6" r="0.54"/><circle cx="238.8" cy="529.7" r="0.51"/><circle cx="242.6" cy="534.5" r="0.63"/><circle cx="240.0" cy="546.2" r="0.54"/><circle cx="239.2" cy="529.5" r="0.51"/><circle cx="241.0" cy="531.3" r="0.53"/><circle cx="239.7" cy="538.2" r="0.71"/><circle cx="238.9" cy="540.7" r="0.69"/><circle cx="238.2" cy="542.6" r="0.60"/><circle cx="251.2" cy="546.1" r="0.74"/><circle cx="243.1" cy="537.3" r="0.51"/><circle cx="240.6" cy="545.4" r="0.63"/><circle cx="236.1" cy="526.5" r="0.78"/><circle cx="247.3" cy="544.0" r="0.52"/><circle cx="253.0" cy="528.6" r="0.54"/><circle cx="243.8" cy="539.4" r="0.64"/><circle cx="248.9" cy="536.0" r="0.61"/><circle cx="237.3" cy="526.3" r="0.52"/><circle cx="241.7" cy="515.8" r="0.75"/><circle cx="237.8" cy="523.4" r="0.74"/><circle cx="237.0" cy="538.7" r="0.68"/><circle cx="246.2" cy="528.8" r="0.62"/><circle cx="238.5" cy="544.0" r="0.67"/><circle cx="249.3" cy="536.1" r="0.65"/><circle cx="256.1" cy="533.9" r="0.67"/><circle cx="239.6" cy="527.5" r="0.60"/><circle cx="236.5" cy="539.3" r="0.74"/><circle cx="240.9" cy="545.4" r="0.66"/><circle cx="255.3" cy="542.8" r="0.57"/><circle cx="249.2" cy="544.4" r="0.68"/><circle cx="244.7" cy="544.3" r="0.73"/><circle cx="240.4" cy="537.8" r="0.65"/><circle cx="243.9" cy="536.7" r="0.60"/><circle cx="240.1" cy="542.1" r="0.66"/><circle cx="248.2" cy="543.6" r="0.71"/><circle cx="237.7" cy="543.7" r="0.55"/><circle cx="251.7" cy="540.8" r="0.77"/><circle cx="248.4" cy="541.9" r="0.62"/><circle cx="243.6" cy="526.7" r="0.63"/><circle cx="247.6" cy="530.5" r="0.66"/><circle cx="247.8" cy="530.7" r="0.73"/><circle cx="239.7" cy="534.8" r="0.55"/><circle cx="241.4" cy="523.2" r="0.56"/><circle cx="237.8" cy="537.2" r="0.65"/><circle cx="261.6" cy="540.6" r="0.50"/><circle cx="244.5" cy="537.5" r="0.63"/><circle cx="239.0" cy="530.3" r="0.54"/><circle cx="235.9" cy="537.7" r="0.56"/><circle cx="239.7" cy="520.7" r="0.61"/><circle cx="242.0" cy="527.7" r="0.77"/><circle cx="250.0" cy="526.5" r="0.68"/><circle cx="250.9" cy="542.0" r="0.58"/><circle cx="243.7" cy="542.0" r="0.69"/><circle cx="241.6" cy="539.3" r="0.65"/><circle cx="247.2" cy="546.1" r="0.50"/><circle cx="237.2" cy="538.5" r="0.63"/><circle cx="242.2" cy="543.4" r="0.71"/><circle cx="237.1" cy="521.9" r="0.74"/><circle cx="241.2" cy="538.7" r="0.79"/><circle cx="240.0" cy="541.3" r="0.51"/><circle cx="236.2" cy="540.1" r="0.65"/><circle cx="236.1" cy="546.4" r="0.61"/><circle cx="241.6" cy="543.4" r="0.63"/><circle cx="242.7" cy="540.1" r="0.75"/><circle cx="240.0" cy="539.9" r="0.63"/><circle cx="247.0" cy="545.0" r="0.66"/><circle cx="240.0" cy="519.7" r="0.73"/><circle cx="247.7" cy="533.8" r="0.76"/><circle cx="250.9" cy="536.6" r="0.68"/><circle cx="243.5" cy="516.8" r="0.66"/><circle cx="241.9" cy="533.5" r="0.53"/><circle cx="237.3" cy="521.3" r="0.61"/><circle cx="247.4" cy="537.1" r="0.56"/><circle cx="246.9" cy="519.0" r="0.73"/><circle cx="260.6" cy="543.9" r="0.70"/><circle cx="243.0" cy="531.3" r="0.54"/><circle cx="240.0" cy="531.8" r="0.67"/><circle cx="253.5" cy="543.4" r="0.76"/><circle cx="239.7" cy="519.8" r="0.75"/><circle cx="238.4" cy="546.2" r="0.61"/><circle cx="250.3" cy="541.3" r="0.61"/><circle cx="242.3" cy="529.8" r="0.66"/><circle cx="244.3" cy="539.5" r="0.63"/><circle cx="239.1" cy="539.8" r="0.79"/><circle cx="237.0" cy="541.9" r="0.76"/><circle cx="244.8" cy="522.2" r="0.77"/><circle cx="237.1" cy="544.1" r="0.80"/><circle cx="244.3" cy="543.5" r="0.53"/><circle cx="245.7" cy="543.1" r="0.78"/><circle cx="249.9" cy="545.3" r="0.61"/><circle cx="236.3" cy="525.3" r="0.58"/><circle cx="236.9" cy="529.9" r="0.68"/><circle cx="237.1" cy="533.0" r="0.62"/><circle cx="254.4" cy="529.4" r="0.56"/><circle cx="239.9" cy="543.8" r="0.79"/><circle cx="240.3" cy="540.1" r="0.55"/><circle cx="243.1" cy="527.8" r="0.53"/><circle cx="244.6" cy="527.8" r="0.62"/><circle cx="236.8" cy="517.0" r="0.75"/><circle cx="252.3" cy="543.3" r="0.74"/><circle cx="240.2" cy="520.9" r="0.64"/><circle cx="238.7" cy="534.3" r="0.62"/><circle cx="248.2" cy="523.6" r="0.54"/><circle cx="241.5" cy="543.4" r="0.74"/><circle cx="243.1" cy="543.3" r="0.73"/><circle cx="256.5" cy="544.9" r="0.57"/><circle cx="250.3" cy="545.6" r="0.70"/><circle cx="243.1" cy="515.6" r="0.77"/><circle cx="243.5" cy="546.0" r="0.61"/><circle cx="257.1" cy="542.8" r="0.57"/><circle cx="253.3" cy="544.3" r="0.72"/><circle cx="237.9" cy="533.3" r="0.69"/><circle cx="243.4" cy="540.8" r="0.62"/><circle cx="244.9" cy="543.6" r="0.50"/><circle cx="245.8" cy="539.1" r="0.60"/><circle cx="247.7" cy="541.2" r="0.71"/><circle cx="235.4" cy="516.1" r="0.56"/><circle cx="243.7" cy="542.4" r="0.64"/><circle cx="248.4" cy="525.2" r="0.73"/><circle cx="250.9" cy="541.5" r="0.60"/><circle cx="237.4" cy="520.8" r="0.54"/><circle cx="237.8" cy="546.3" r="0.70"/><circle cx="241.2" cy="528.4" r="0.71"/><circle cx="238.3" cy="530.0" r="0.68"/><circle cx="242.3" cy="536.6" r="0.77"/><circle cx="238.2" cy="541.7" r="0.61"/><circle cx="242.2" cy="535.6" r="0.65"/><circle cx="235.9" cy="528.1" r="0.64"/><circle cx="256.8" cy="543.1" r="0.76"/><circle cx="248.8" cy="522.7" r="0.60"/><circle cx="244.2" cy="537.9" r="0.57"/><circle cx="239.9" cy="529.9" r="0.61"/><circle cx="251.6" cy="529.2" r="0.75"/><circle cx="240.5" cy="530.5" r="0.72"/><circle cx="235.5" cy="530.4" r="0.56"/><circle cx="243.1" cy="540.8" r="0.75"/><circle cx="252.5" cy="544.5" r="0.80"/><circle cx="254.5" cy="540.3" r="0.60"/><circle cx="236.3" cy="545.5" r="0.74"/><circle cx="241.0" cy="536.0" r="0.71"/><circle cx="248.9" cy="545.7" r="0.68"/><circle cx="235.6" cy="529.2" r="0.57"/><circle cx="239.5" cy="544.8" r="0.50"/><circle cx="240.5" cy="524.8" r="0.76"/><circle cx="242.2" cy="530.4" r="0.60"/><circle cx="242.4" cy="531.3" r="0.75"/><circle cx="246.3" cy="520.8" r="0.76"/><circle cx="245.2" cy="529.2" r="0.76"/><circle cx="241.6" cy="536.1" r="0.72"/><circle cx="249.7" cy="538.5" r="0.72"/><circle cx="237.3" cy="530.9" r="0.75"/><circle cx="251.4" cy="542.1" r="0.78"/><circle cx="253.3" cy="543.8" r="0.78"/><circle cx="239.2" cy="529.6" r="0.76"/><circle cx="247.6" cy="538.3" r="0.60"/><circle cx="247.4" cy="537.7" r="0.78"/><circle cx="250.1" cy="524.7" r="0.53"/><circle cx="239.7" cy="543.2" r="0.56"/><circle cx="238.9" cy="532.4" r="0.76"/><circle cx="241.9" cy="533.0" r="0.66"/><circle cx="238.6" cy="524.2" r="0.79"/><circle cx="244.3" cy="541.4" r="0.60"/><circle cx="238.3" cy="543.7" r="0.52"/><circle cx="245.9" cy="536.1" r="0.54"/><circle cx="245.2" cy="536.5" r="0.76"/><circle cx="236.3" cy="518.6" r="0.74"/><circle cx="247.5" cy="544.9" r="0.63"/><circle cx="246.7" cy="540.7" r="0.70"/><circle cx="237.7" cy="544.3" r="0.51"/><circle cx="252.1" cy="543.6" r="0.78"/><circle cx="242.9" cy="520.1" r="0.58"/><circle cx="236.9" cy="538.9" r="0.56"/><circle cx="245.8" cy="531.4" r="0.65"/><circle cx="244.3" cy="538.0" r="0.64"/><circle cx="246.7" cy="529.9" r="0.65"/><circle cx="244.6" cy="543.2" r="0.72"/><circle cx="239.1" cy="533.4" r="0.56"/><circle cx="236.9" cy="523.8" r="0.74"/><circle cx="250.3" cy="532.8" r="0.60"/><circle cx="247.6" cy="535.6" r="0.62"/><circle cx="257.5" cy="543.0" r="0.77"/><circle cx="235.4" cy="526.0" r="0.72"/><circle cx="237.3" cy="533.6" r="0.72"/><circle cx="239.9" cy="546.2" r="0.74"/><circle cx="238.7" cy="523.9" r="0.63"/><circle cx="238.4" cy="519.0" r="0.60"/><circle cx="249.4" cy="537.5" r="0.66"/><circle cx="242.3" cy="524.4" r="0.75"/><circle cx="244.0" cy="540.2" r="0.55"/><circle cx="248.9" cy="538.2" r="0.71"/><circle cx="242.3" cy="541.8" r="0.64"/><circle cx="238.4" cy="541.7" r="0.78"/><circle cx="248.6" cy="519.4" r="0.71"/><circle cx="237.7" cy="521.3" r="0.78"/><circle cx="246.9" cy="542.7" r="0.62"/><circle cx="242.0" cy="532.2" r="0.64"/><circle cx="237.3" cy="535.7" r="0.57"/><circle cx="242.4" cy="529.2" r="0.56"/><circle cx="241.4" cy="527.1" r="0.59"/><circle cx="238.7" cy="526.5" r="0.56"/><circle cx="235.7" cy="537.1" r="0.69"/><circle cx="244.0" cy="542.1" r="0.67"/><circle cx="240.7" cy="544.3" r="0.72"/><circle cx="256.5" cy="544.5" r="0.73"/><circle cx="241.0" cy="541.4" r="0.79"/><circle cx="238.5" cy="516.3" r="0.66"/><circle cx="242.9" cy="539.2" r="0.68"/><circle cx="243.2" cy="528.6" r="0.66"/><circle cx="246.6" cy="533.1" r="0.64"/><circle cx="243.2" cy="529.7" r="0.60"/><circle cx="248.7" cy="539.8" r="0.59"/><circle cx="235.8" cy="530.8" r="0.60"/><circle cx="245.6" cy="535.9" r="0.65"/><circle cx="235.6" cy="534.3" r="0.63"/><circle cx="244.1" cy="535.3" r="0.66"/><circle cx="242.7" cy="537.5" r="0.70"/><circle cx="237.0" cy="543.3" r="0.80"/><circle cx="242.3" cy="531.7" r="0.67"/><circle cx="238.0" cy="531.6" r="0.80"/><circle cx="240.1" cy="535.5" r="0.59"/><circle cx="250.5" cy="538.8" r="0.68"/><circle cx="235.6" cy="517.7" r="0.67"/><circle cx="263.7" cy="539.9" r="0.64"/><circle cx="240.8" cy="546.6" r="0.64"/><circle cx="238.5" cy="539.4" r="0.57"/><circle cx="236.5" cy="545.1" r="0.79"/><circle cx="238.5" cy="530.6" r="0.52"/><circle cx="237.7" cy="535.7" r="0.74"/><circle cx="240.1" cy="536.4" r="0.64"/><circle cx="237.5" cy="538.7" r="0.60"/><circle cx="235.7" cy="538.1" r="0.59"/><circle cx="235.5" cy="519.0" r="0.78"/><circle cx="242.1" cy="546.6" r="0.60"/><circle cx="248.9" cy="541.1" r="0.67"/><circle cx="248.8" cy="533.7" r="0.62"/><circle cx="237.3" cy="546.8" r="0.70"/><circle cx="240.0" cy="519.0" r="0.67"/><circle cx="244.6" cy="537.9" r="0.66"/><circle cx="242.6" cy="533.3" r="0.53"/><circle cx="253.0" cy="544.2" r="0.51"/><circle cx="240.7" cy="544.8" r="0.70"/><circle cx="249.8" cy="546.1" r="0.50"/><circle cx="247.7" cy="540.5" r="0.66"/><circle cx="251.7" cy="546.0" r="0.58"/><circle cx="238.9" cy="535.4" r="0.72"/><circle cx="236.4" cy="519.3" r="0.60"/><circle cx="241.9" cy="532.5" r="0.51"/><circle cx="243.6" cy="536.0" r="0.55"/><circle cx="249.4" cy="534.3" r="0.60"/><circle cx="236.9" cy="530.0" r="0.69"/><circle cx="245.8" cy="541.8" r="0.71"/><circle cx="252.8" cy="542.0" r="0.75"/><circle cx="237.4" cy="515.6" r="0.79"/><circle cx="236.7" cy="534.9" r="0.67"/><circle cx="248.7" cy="537.8" r="0.51"/><circle cx="235.9" cy="536.8" r="0.70"/><circle cx="240.8" cy="528.2" r="0.61"/><circle cx="262.0" cy="538.4" r="0.68"/><circle cx="236.4" cy="539.3" r="0.55"/><circle cx="237.0" cy="521.8" r="0.62"/><circle cx="238.7" cy="545.7" r="0.57"/><circle cx="236.1" cy="537.3" r="0.70"/><circle cx="244.1" cy="533.3" r="0.78"/><circle cx="246.8" cy="540.7" r="0.61"/><circle cx="242.3" cy="541.1" r="0.65"/><circle cx="252.0" cy="543.1" r="0.69"/><circle cx="235.2" cy="516.7" r="0.73"/><circle cx="240.4" cy="524.7" r="0.61"/><circle cx="241.9" cy="531.4" r="0.58"/><circle cx="238.9" cy="542.8" r="0.70"/><circle cx="249.9" cy="523.7" r="0.59"/><circle cx="242.6" cy="539.9" r="0.65"/><circle cx="243.6" cy="542.1" r="0.69"/><circle cx="246.5" cy="540.5" r="0.67"/><circle cx="241.7" cy="533.2" r="0.79"/><circle cx="237.6" cy="540.6" r="0.60"/><circle cx="236.2" cy="535.8" r="0.56"/><circle cx="260.9" cy="545.2" r="0.62"/><circle cx="238.1" cy="542.3" r="0.77"/><circle cx="239.7" cy="525.9" r="0.76"/><circle cx="240.6" cy="540.3" r="0.52"/><circle cx="238.1" cy="536.0" r="0.55"/><circle cx="242.4" cy="529.3" r="0.57"/><circle cx="242.6" cy="545.9" r="0.73"/><circle cx="243.0" cy="526.2" r="0.71"/><circle cx="250.7" cy="531.9" r="0.55"/><circle cx="242.3" cy="534.1" r="0.74"/><circle cx="236.1" cy="522.3" r="0.76"/><circle cx="241.4" cy="536.9" r="0.74"/><circle cx="247.8" cy="536.6" r="0.60"/><circle cx="238.3" cy="536.0" r="0.75"/><circle cx="242.5" cy="545.3" r="0.58"/><circle cx="241.4" cy="519.1" r="0.78"/><circle cx="238.2" cy="537.1" r="0.54"/><circle cx="236.7" cy="537.8" r="0.62"/><circle cx="246.0" cy="541.9" r="0.59"/><circle cx="243.0" cy="529.5" r="0.75"/><circle cx="247.5" cy="544.4" r="0.73"/><circle cx="241.2" cy="530.3" r="0.66"/><circle cx="256.2" cy="539.5" r="0.66"/><circle cx="236.6" cy="540.8" r="0.59"/><circle cx="241.0" cy="532.3" r="0.68"/><circle cx="243.5" cy="524.8" r="0.51"/><circle cx="239.3" cy="537.0" r="0.72"/><circle cx="244.4" cy="537.7" r="0.79"/><circle cx="248.3" cy="538.2" r="0.64"/><circle cx="241.8" cy="532.0" r="0.64"/><circle cx="236.0" cy="543.1" r="0.68"/><circle cx="246.9" cy="541.9" r="0.61"/><circle cx="239.2" cy="533.0" r="0.78"/><circle cx="241.9" cy="538.9" r="0.56"/><circle cx="242.9" cy="539.6" r="0.65"/><circle cx="252.3" cy="546.0" r="0.71"/><circle cx="235.6" cy="529.3" r="0.72"/><circle cx="236.9" cy="537.5" r="0.59"/><circle cx="240.0" cy="544.6" r="0.54"/><circle cx="254.7" cy="537.1" r="0.71"/><circle cx="247.1" cy="524.3" r="0.54"/><circle cx="235.8" cy="532.0" r="0.75"/><circle cx="248.4" cy="542.4" r="0.51"/><circle cx="239.5" cy="529.0" r="0.76"/><circle cx="240.5" cy="531.3" r="0.74"/><circle cx="240.1" cy="514.4" r="0.65"/><circle cx="240.5" cy="524.9" r="0.77"/><circle cx="238.2" cy="527.2" r="0.73"/><circle cx="241.2" cy="542.7" r="0.70"/><circle cx="237.7" cy="538.0" r="0.58"/><circle cx="239.0" cy="527.2" r="0.53"/><circle cx="238.6" cy="540.6" r="0.53"/><circle cx="242.1" cy="526.7" r="0.53"/><circle cx="242.1" cy="544.4" r="0.70"/><circle cx="244.7" cy="545.5" r="0.71"/><circle cx="255.3" cy="542.2" r="0.78"/><circle cx="241.7" cy="539.7" r="0.61"/><circle cx="241.5" cy="522.1" r="0.61"/><circle cx="243.5" cy="545.1" r="0.76"/><circle cx="239.0" cy="534.9" r="0.74"/><circle cx="264.2" cy="540.2" r="0.79"/><circle cx="243.1" cy="538.1" r="0.50"/><circle cx="254.4" cy="543.3" r="0.79"/><circle cx="244.4" cy="541.1" r="0.62"/><circle cx="243.0" cy="532.8" r="0.74"/><circle cx="246.5" cy="539.1" r="0.56"/><circle cx="248.0" cy="537.6" r="0.66"/><circle cx="247.4" cy="527.8" r="0.73"/><circle cx="245.6" cy="518.4" r="0.72"/><circle cx="242.7" cy="532.3" r="0.71"/><circle cx="239.1" cy="531.7" r="0.53"/><circle cx="235.9" cy="543.0" r="0.77"/><circle cx="247.0" cy="540.3" r="0.52"/><circle cx="243.4" cy="529.9" r="0.75"/><circle cx="241.9" cy="529.2" r="0.67"/><circle cx="249.9" cy="545.9" r="0.69"/><circle cx="245.6" cy="533.4" r="0.57"/><circle cx="248.7" cy="537.5" r="0.74"/><circle cx="248.2" cy="544.3" r="0.73"/><circle cx="240.3" cy="523.5" r="0.57"/><circle cx="252.9" cy="537.0" r="0.78"/><circle cx="245.7" cy="530.4" r="0.62"/><circle cx="240.2" cy="536.1" r="0.76"/><circle cx="244.6" cy="533.5" r="0.57"/><circle cx="251.9" cy="542.2" r="0.61"/><circle cx="251.9" cy="525.9" r="0.56"/><circle cx="248.8" cy="544.5" r="0.51"/><circle cx="245.8" cy="545.0" r="0.54"/><circle cx="258.3" cy="536.8" r="0.55"/><circle cx="246.8" cy="529.0" r="0.66"/><circle cx="240.9" cy="544.5" r="0.64"/><circle cx="240.5" cy="537.0" r="0.53"/><circle cx="240.7" cy="542.1" r="0.78"/><circle cx="236.7" cy="539.8" r="0.69"/><circle cx="246.7" cy="544.4" r="0.66"/><circle cx="246.1" cy="539.0" r="0.58"/><circle cx="236.0" cy="542.2" r="0.63"/><circle cx="238.4" cy="528.1" r="0.77"/><circle cx="247.1" cy="525.4" r="0.63"/><circle cx="242.2" cy="543.5" r="0.65"/><circle cx="247.6" cy="541.9" r="0.78"/><circle cx="249.5" cy="537.7" r="0.62"/><circle cx="249.3" cy="539.9" r="0.76"/><circle cx="249.5" cy="539.7" r="0.52"/><circle cx="257.9" cy="542.4" r="0.71"/><circle cx="251.8" cy="537.4" r="0.54"/><circle cx="253.2" cy="541.6" r="0.58"/><circle cx="238.0" cy="529.2" r="0.53"/><circle cx="239.7" cy="542.0" r="0.76"/><circle cx="238.0" cy="528.2" r="0.77"/><circle cx="248.0" cy="538.0" r="0.74"/><circle cx="237.2" cy="527.9" r="0.65"/><circle cx="263.6" cy="542.9" r="0.53"/><circle cx="239.9" cy="541.8" r="0.66"/><circle cx="245.0" cy="536.8" r="0.77"/><circle cx="240.5" cy="546.1" r="0.72"/><circle cx="238.1" cy="542.5" r="0.50"/><circle cx="256.9" cy="545.7" r="0.80"/><circle cx="240.0" cy="514.4" r="0.78"/><circle cx="237.5" cy="516.3" r="0.68"/><circle cx="248.1" cy="544.9" r="0.51"/><circle cx="236.6" cy="533.5" r="0.71"/><circle cx="243.1" cy="524.6" r="0.69"/><circle cx="243.2" cy="542.5" r="0.50"/><circle cx="243.5" cy="540.3" r="0.63"/><circle cx="244.4" cy="539.5" r="0.51"/><circle cx="253.6" cy="542.0" r="0.52"/><circle cx="236.3" cy="523.2" r="0.70"/><circle cx="236.9" cy="536.6" r="0.73"/><circle cx="241.4" cy="527.6" r="0.60"/><circle cx="242.6" cy="541.9" r="0.55"/><circle cx="246.9" cy="540.3" r="0.58"/><circle cx="235.8" cy="517.3" r="0.57"/><circle cx="245.7" cy="528.6" r="0.67"/><circle cx="255.7" cy="541.2" r="0.58"/><circle cx="251.0" cy="520.2" r="0.77"/><circle cx="258.4" cy="540.8" r="0.50"/><circle cx="248.4" cy="543.2" r="0.57"/></g>
<g fill="#111"><circle cx="263.5" cy="528.4" r="0.45"/><circle cx="250.9" cy="543.7" r="0.49"/><circle cx="258.1" cy="540.4" r="0.45"/><circle cx="264.9" cy="544.3" r="0.42"/><circle cx="262.4" cy="541.2" r="0.45"/><circle cx="255.5" cy="536.3" r="0.55"/><circle cx="252.9" cy="537.6" r="0.39"/><circle cx="269.6" cy="535.6" r="0.47"/><circle cx="252.3" cy="536.1" r="0.41"/><circle cx="259.5" cy="525.2" r="0.58"/><circle cx="253.2" cy="540.0" r="0.35"/><circle cx="253.5" cy="531.6" r="0.44"/><circle cx="267.0" cy="542.0" r="0.59"/><circle cx="256.5" cy="533.7" r="0.53"/><circle cx="252.9" cy="542.4" r="0.41"/><circle cx="266.7" cy="523.4" r="0.53"/><circle cx="249.2" cy="535.0" r="0.48"/><circle cx="255.1" cy="521.5" r="0.37"/><circle cx="252.4" cy="541.6" r="0.38"/><circle cx="271.5" cy="538.2" r="0.36"/><circle cx="262.2" cy="519.5" r="0.42"/><circle cx="260.7" cy="542.5" r="0.45"/><circle cx="270.6" cy="541.6" r="0.59"/><circle cx="266.1" cy="537.2" r="0.57"/><circle cx="260.3" cy="532.0" r="0.49"/><circle cx="261.9" cy="531.8" r="0.52"/><circle cx="262.5" cy="526.7" r="0.51"/><circle cx="251.5" cy="532.4" r="0.55"/><circle cx="252.3" cy="535.4" r="0.44"/><circle cx="267.7" cy="533.7" r="0.51"/><circle cx="249.1" cy="531.8" r="0.40"/><circle cx="260.7" cy="526.8" r="0.41"/><circle cx="250.6" cy="537.3" r="0.42"/><circle cx="268.2" cy="539.4" r="0.45"/><circle cx="271.0" cy="537.3" r="0.42"/><circle cx="256.6" cy="542.7" r="0.50"/><circle cx="265.5" cy="525.2" r="0.36"/><circle cx="254.1" cy="535.6" r="0.43"/><circle cx="247.5" cy="527.1" r="0.50"/><circle cx="270.0" cy="531.6" r="0.55"/><circle cx="269.6" cy="543.3" r="0.55"/><circle cx="264.0" cy="541.3" r="0.46"/><circle cx="258.9" cy="524.5" r="0.51"/><circle cx="257.6" cy="529.9" r="0.36"/><circle cx="269.6" cy="541.8" r="0.58"/><circle cx="267.2" cy="524.1" r="0.52"/><circle cx="271.7" cy="534.3" r="0.55"/><circle cx="249.7" cy="538.1" r="0.38"/><circle cx="267.1" cy="543.9" r="0.45"/><circle cx="268.0" cy="542.9" r="0.42"/><circle cx="267.6" cy="544.0" r="0.56"/><circle cx="272.1" cy="541.3" r="0.54"/><circle cx="268.7" cy="540.0" r="0.39"/><circle cx="249.5" cy="534.8" r="0.59"/><circle cx="260.1" cy="540.3" r="0.40"/><circle cx="269.0" cy="534.9" r="0.38"/><circle cx="256.9" cy="538.0" r="0.49"/><circle cx="249.0" cy="525.8" r="0.46"/><circle cx="255.5" cy="540.9" r="0.59"/><circle cx="258.2" cy="542.9" r="0.36"/><circle cx="268.6" cy="532.7" r="0.58"/><circle cx="260.5" cy="542.2" r="0.53"/><circle cx="261.8" cy="529.8" r="0.43"/><circle cx="258.8" cy="540.3" r="0.39"/><circle cx="258.5" cy="533.2" r="0.53"/><circle cx="255.2" cy="530.4" r="0.36"/><circle cx="255.6" cy="516.7" r="0.42"/><circle cx="271.6" cy="544.4" r="0.37"/><circle cx="247.0" cy="525.3" r="0.44"/><circle cx="255.1" cy="540.1" r="0.60"/><circle cx="266.4" cy="539.5" r="0.56"/><circle cx="266.2" cy="535.8" r="0.49"/><circle cx="263.2" cy="528.9" r="0.51"/><circle cx="255.4" cy="531.7" r="0.51"/><circle cx="250.8" cy="536.1" r="0.55"/><circle cx="250.7" cy="537.4" r="0.56"/><circle cx="268.5" cy="538.9" r="0.59"/><circle cx="261.5" cy="536.3" r="0.59"/><circle cx="257.1" cy="542.8" r="0.44"/><circle cx="257.6" cy="542.5" r="0.59"/><circle cx="268.9" cy="541.6" r="0.41"/><circle cx="255.3" cy="527.6" r="0.38"/><circle cx="269.6" cy="538.8" r="0.51"/><circle cx="264.2" cy="523.8" r="0.36"/><circle cx="250.4" cy="543.2" r="0.57"/><circle cx="249.5" cy="531.4" r="0.59"/><circle cx="271.8" cy="540.9" r="0.55"/><circle cx="266.4" cy="541.1" r="0.41"/><circle cx="259.9" cy="543.2" r="0.48"/><circle cx="267.1" cy="536.2" r="0.36"/><circle cx="253.7" cy="537.1" r="0.46"/><circle cx="254.5" cy="540.5" r="0.56"/><circle cx="269.5" cy="531.5" r="0.40"/><circle cx="259.2" cy="531.2" r="0.39"/><circle cx="256.4" cy="529.6" r="0.44"/><circle cx="266.9" cy="539.8" r="0.44"/><circle cx="254.5" cy="540.6" r="0.43"/><circle cx="252.2" cy="542.5" r="0.43"/><circle cx="266.3" cy="527.8" r="0.37"/><circle cx="263.8" cy="540.5" r="0.51"/><circle cx="264.7" cy="533.0" r="0.47"/><circle cx="254.0" cy="520.8" r="0.50"/><circle cx="259.7" cy="541.5" r="0.43"/><circle cx="251.4" cy="533.9" r="0.58"/><circle cx="250.3" cy="532.3" r="0.54"/><circle cx="263.7" cy="530.4" r="0.49"/><circle cx="255.7" cy="540.5" r="0.45"/><circle cx="249.9" cy="524.6" r="0.56"/><circle cx="270.5" cy="536.3" r="0.46"/><circle cx="258.4" cy="530.9" r="0.45"/></g>
<path d="M232.6 548.6 L247 548.8 C249.5 550.5 249.5 553.5 247 555 L232.6 555.3 Z" fill="#d4d4d4"/>
<path d="M233.0 534 L235.0 534 L235.3 549.5 L233.0 549.5 Z" fill="#a8a8a8"/>
<path d="M233.5 550.8 C238 550 242 550.4 245 552" fill="none" stroke="#777" stroke-width="0.4"/>
<g fill="#fff"><ellipse cx="255.5" cy="545.5" rx="1.6" ry="1.2"/><ellipse cx="259.5" cy="545.3" rx="1.5" ry="1.3"/><ellipse cx="265" cy="544.8" rx="1.1" ry="1"/></g>
<rect x="253.8" y="519.4" width="22.0" height="17.9" fill="none" stroke="#8a8a8a" stroke-width="0.8"/>
<rect x="0" y="0" width="520" height="1.2" fill="#000"/><rect x="0" y="0" width="1.3" height="619" fill="#000"/><rect x="518.2" y="0" width="1.8" height="619" fill="#000"/><rect x="0" y="617.3" width="520" height="1.7" fill="#000"/>
</svg>
</body></html>
